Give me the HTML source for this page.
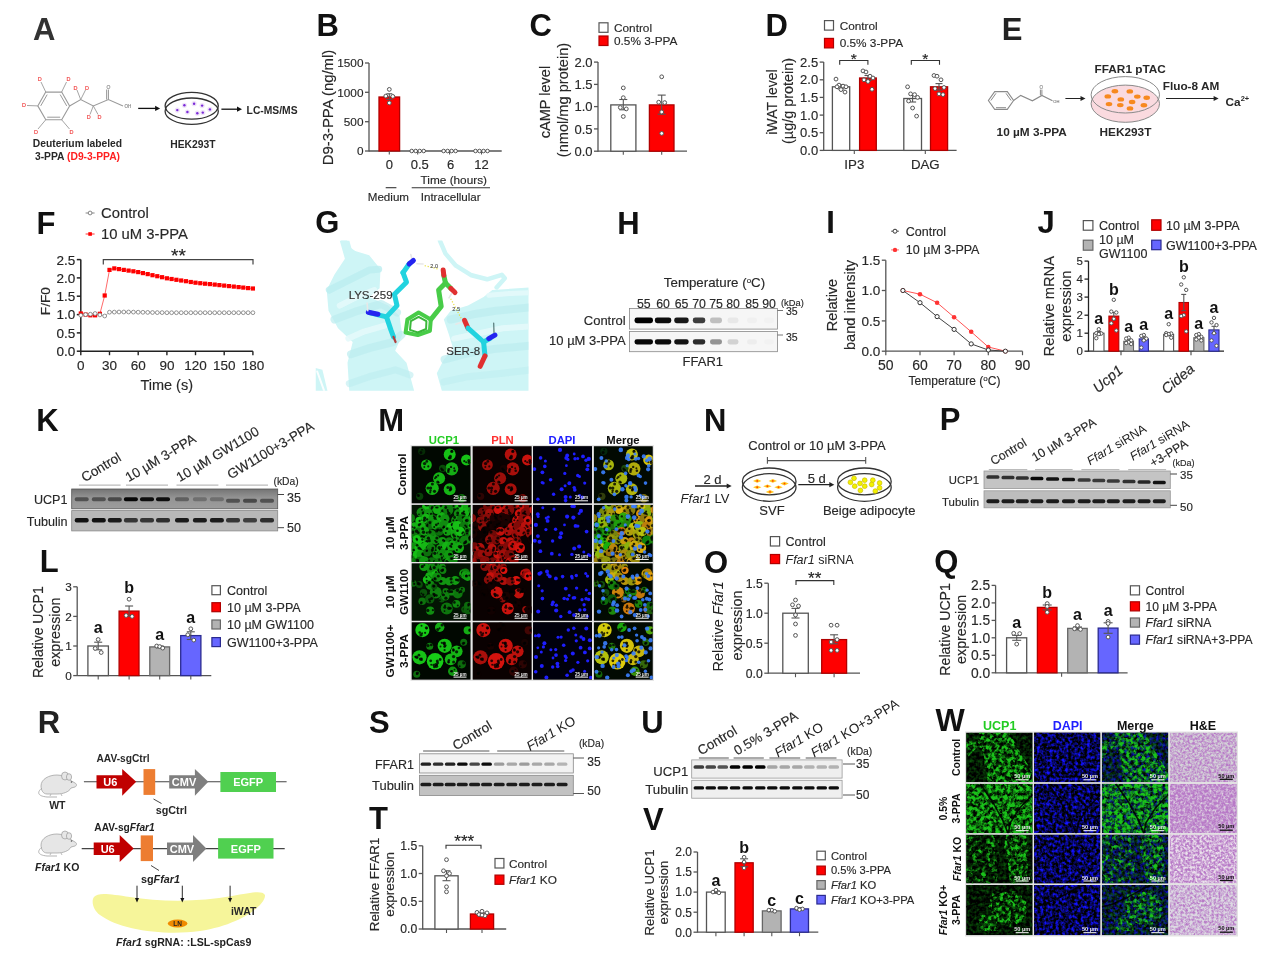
<!DOCTYPE html>
<html><head><meta charset="utf-8"><style>
html,body{margin:0;padding:0;background:#fff;}
svg{display:block;filter:blur(0.45px);}
text{font-family:"Liberation Sans", sans-serif;}
</style></head><body>
<svg width="1269" height="958" viewBox="0 0 1269 958">
<defs>
<filter color-interpolation-filters="sRGB" id="b06" x="-50%" y="-50%" width="200%" height="200%"><feGaussianBlur stdDeviation="0.7"/></filter>
<filter color-interpolation-filters="sRGB" id="b1" x="-50%" y="-50%" width="200%" height="200%"><feGaussianBlur stdDeviation="1"/></filter>
<clipPath id="gclip"><rect x="315.5" y="240.6" width="213" height="150.2"/></clipPath>
<clipPath id="mclip00"><rect x="411.7" y="446.3" width="58.8" height="57.0"/></clipPath><clipPath id="mclip01"><rect x="472.7" y="446.3" width="58.9" height="57.0"/></clipPath><clipPath id="mclip02"><rect x="533.1" y="446.3" width="58.9" height="57.0"/></clipPath><clipPath id="mclip03"><rect x="593.9" y="446.3" width="58.8" height="57.0"/></clipPath><clipPath id="mclip10"><rect x="411.7" y="504.9" width="58.8" height="57.0"/></clipPath><clipPath id="mclip11"><rect x="472.7" y="504.9" width="58.9" height="57.0"/></clipPath><clipPath id="mclip12"><rect x="533.1" y="504.9" width="58.9" height="57.0"/></clipPath><clipPath id="mclip13"><rect x="593.9" y="504.9" width="58.8" height="57.0"/></clipPath><clipPath id="mclip20"><rect x="411.7" y="563.4" width="58.8" height="57.3"/></clipPath><clipPath id="mclip21"><rect x="472.7" y="563.4" width="58.9" height="57.3"/></clipPath><clipPath id="mclip22"><rect x="533.1" y="563.4" width="58.9" height="57.3"/></clipPath><clipPath id="mclip23"><rect x="593.9" y="563.4" width="58.8" height="57.3"/></clipPath><clipPath id="mclip30"><rect x="411.7" y="622.3" width="58.8" height="57.3"/></clipPath><clipPath id="mclip31"><rect x="472.7" y="622.3" width="58.9" height="57.3"/></clipPath><clipPath id="mclip32"><rect x="533.1" y="622.3" width="58.9" height="57.3"/></clipPath><clipPath id="mclip33"><rect x="593.9" y="622.3" width="58.8" height="57.3"/></clipPath><clipPath id="wclip00"><rect x="966.1" y="732.5" width="66.6" height="49.8"/></clipPath><clipPath id="wclip01"><rect x="1034.1" y="732.5" width="66.3" height="49.8"/></clipPath><clipPath id="wclip02"><rect x="1101.8" y="732.5" width="66.5" height="49.8"/></clipPath><clipPath id="wclip03"><rect x="1169.7" y="732.5" width="67.1" height="49.8"/></clipPath><clipPath id="wclip10"><rect x="966.1" y="783.7" width="66.6" height="49.5"/></clipPath><clipPath id="wclip11"><rect x="1034.1" y="783.7" width="66.3" height="49.5"/></clipPath><clipPath id="wclip12"><rect x="1101.8" y="783.7" width="66.5" height="49.5"/></clipPath><clipPath id="wclip13"><rect x="1169.7" y="783.7" width="67.1" height="49.5"/></clipPath><clipPath id="wclip20"><rect x="966.1" y="834.6" width="66.6" height="48.9"/></clipPath><clipPath id="wclip21"><rect x="1034.1" y="834.6" width="66.3" height="48.9"/></clipPath><clipPath id="wclip22"><rect x="1101.8" y="834.6" width="66.5" height="48.9"/></clipPath><clipPath id="wclip23"><rect x="1169.7" y="834.6" width="67.1" height="48.9"/></clipPath><clipPath id="wclip30"><rect x="966.1" y="884.9" width="66.6" height="50.3"/></clipPath><clipPath id="wclip31"><rect x="1034.1" y="884.9" width="66.3" height="50.3"/></clipPath><clipPath id="wclip32"><rect x="1101.8" y="884.9" width="66.5" height="50.3"/></clipPath><clipPath id="wclip33"><rect x="1169.7" y="884.9" width="67.1" height="50.3"/></clipPath>
<filter color-interpolation-filters="sRGB" id="mblur" x="-10%" y="-10%" width="120%" height="120%"><feGaussianBlur stdDeviation="0.55"/></filter>
<filter color-interpolation-filters="sRGB" id="tGreen0" x="0" y="0" width="100%" height="100%">
 <feTurbulence type="fractalNoise" baseFrequency="0.26" numOctaves="3" seed="7" result="n"/>
 <feColorMatrix in="n" type="matrix" values="0 0 0 0 0.1  0 0 0 0 0.76  0 0 0 0 0.1  3.6 0 0 0 -1.45" result="c"/>
 <feComposite in="c" in2="SourceAlpha" operator="in" result="d"/>
 <feGaussianBlur in="d" stdDeviation="0.35"/>
</filter>
<filter color-interpolation-filters="sRGB" id="tGreen1" x="0" y="0" width="100%" height="100%">
 <feTurbulence type="fractalNoise" baseFrequency="0.26" numOctaves="3" seed="8" result="n"/>
 <feColorMatrix in="n" type="matrix" values="0 0 0 0 0.1  0 0 0 0 0.76  0 0 0 0 0.1  3.6 0 0 0 -1.3" result="c"/>
 <feComposite in="c" in2="SourceAlpha" operator="in" result="d"/>
 <feGaussianBlur in="d" stdDeviation="0.35"/>
</filter>
<filter color-interpolation-filters="sRGB" id="tGreen2" x="0" y="0" width="100%" height="100%">
 <feTurbulence type="fractalNoise" baseFrequency="0.26" numOctaves="3" seed="9" result="n"/>
 <feColorMatrix in="n" type="matrix" values="0 0 0 0 0.1  0 0 0 0 0.76  0 0 0 0 0.1  3.6 0 0 0 -1.55" result="c"/>
 <feComposite in="c" in2="SourceAlpha" operator="in" result="d"/>
 <feGaussianBlur in="d" stdDeviation="0.35"/>
</filter>
<filter color-interpolation-filters="sRGB" id="tGreen3" x="0" y="0" width="100%" height="100%">
 <feTurbulence type="fractalNoise" baseFrequency="0.26" numOctaves="3" seed="10" result="n"/>
 <feColorMatrix in="n" type="matrix" values="0 0 0 0 0.1  0 0 0 0 0.76  0 0 0 0 0.1  3.6 0 0 0 -1.6" result="c"/>
 <feComposite in="c" in2="SourceAlpha" operator="in" result="d"/>
 <feGaussianBlur in="d" stdDeviation="0.35"/>
</filter>
<filter color-interpolation-filters="sRGB" id="tGreenSp" x="0" y="0" width="100%" height="100%">
 <feTurbulence type="fractalNoise" baseFrequency="0.22" numOctaves="3" seed="17" result="n"/>
 <feColorMatrix in="n" type="matrix" values="0 0 0 0 0.1  0 0 0 0 0.76  0 0 0 0 0.1  4.0 0 0 0 -2.05" result="c"/>
 <feComposite in="c" in2="SourceAlpha" operator="in" result="d"/>
 <feGaussianBlur in="d" stdDeviation="0.35"/>
</filter>
<filter color-interpolation-filters="sRGB" id="tGreenFaint" x="0" y="0" width="100%" height="100%">
 <feTurbulence type="fractalNoise" baseFrequency="0.3" numOctaves="2" seed="11" result="n"/>
 <feColorMatrix in="n" type="matrix" values="0 0 0 0 0.05  0 0 0 0 0.45  0 0 0 0 0.05  1.5 0 0 0 -0.55" result="c"/>
 <feComposite in="c" in2="SourceAlpha" operator="in" result="d"/>
 <feGaussianBlur in="d" stdDeviation="0.35"/>
</filter>
<filter color-interpolation-filters="sRGB" id="tBlue" x="0" y="0" width="100%" height="100%">
 <feTurbulence type="fractalNoise" baseFrequency="0.32" numOctaves="2" seed="3" result="n"/>
 <feColorMatrix in="n" type="matrix" values="0.15 0 0 0 -0.05  0.15 0 0 0 -0.05  2.4 0 0 0 -0.88  0 0 0 0 1" result="c"/>
 <feComposite in="c" in2="SourceAlpha" operator="in" result="d"/>
 <feGaussianBlur in="d" stdDeviation="0.3"/>
</filter>
<filter color-interpolation-filters="sRGB" id="tHE0" x="0" y="0" width="100%" height="100%">
 <feTurbulence type="fractalNoise" baseFrequency="0.42" numOctaves="3" seed="21" result="n"/>
 <feColorMatrix in="n" type="matrix" values="0 0 0 0 0.72  0 0 0 0 0.48  0 0 0 0 0.78  2.4 0 0 0 -0.75" result="c"/>
 <feComposite in="c" in2="SourceAlpha" operator="in" result="d"/>
 <feGaussianBlur in="d" stdDeviation="0.3"/>
</filter><filter color-interpolation-filters="sRGB" id="tHE1" x="0" y="0" width="100%" height="100%">
 <feTurbulence type="fractalNoise" baseFrequency="0.42" numOctaves="3" seed="22" result="n"/>
 <feColorMatrix in="n" type="matrix" values="0 0 0 0 0.72  0 0 0 0 0.48  0 0 0 0 0.78  2.4 0 0 0 -0.5" result="c"/>
 <feComposite in="c" in2="SourceAlpha" operator="in" result="d"/>
 <feGaussianBlur in="d" stdDeviation="0.3"/>
</filter><filter color-interpolation-filters="sRGB" id="tHE2" x="0" y="0" width="100%" height="100%">
 <feTurbulence type="fractalNoise" baseFrequency="0.42" numOctaves="3" seed="23" result="n"/>
 <feColorMatrix in="n" type="matrix" values="0 0 0 0 0.72  0 0 0 0 0.48  0 0 0 0 0.78  2.4 0 0 0 -0.65" result="c"/>
 <feComposite in="c" in2="SourceAlpha" operator="in" result="d"/>
 <feGaussianBlur in="d" stdDeviation="0.3"/>
</filter><filter color-interpolation-filters="sRGB" id="tHE3" x="0" y="0" width="100%" height="100%">
 <feTurbulence type="fractalNoise" baseFrequency="0.42" numOctaves="3" seed="24" result="n"/>
 <feColorMatrix in="n" type="matrix" values="0 0 0 0 0.72  0 0 0 0 0.48  0 0 0 0 0.78  2.4 0 0 0 -0.8" result="c"/>
 <feComposite in="c" in2="SourceAlpha" operator="in" result="d"/>
 <feGaussianBlur in="d" stdDeviation="0.3"/>
</filter></defs>
<rect width="1269" height="958" fill="#fff"/>
<text x="33.0" y="40.0" font-size="31" text-anchor="start" fill="#333" font-weight="bold">A</text>
<path d="M69.6,105.9 L61.7,119.7 L45.8,119.7 L37.8,105.9 L45.7,92.1 L61.7,92.1Z" fill="none" stroke="#9a9a9a" stroke-width="1.1"/>
<line x1="60.2" y1="117.2" x2="47.2" y2="117.2" stroke="#9a9a9a" stroke-width="1.0"/>
<line x1="40.7" y1="105.9" x2="47.2" y2="94.6" stroke="#9a9a9a" stroke-width="1.0"/>
<line x1="60.2" y1="94.6" x2="66.7" y2="105.9" stroke="#9a9a9a" stroke-width="1.0"/>
<path d="M69.6,105.9 L80.7,99.6 L93.3,105.9 L108.4,99.6 L123.0,105.9" fill="none" stroke="#9a9a9a" stroke-width="1.1"/>
<line x1="108.4" y1="99.6" x2="108.4" y2="89.5" stroke="#9a9a9a" stroke-width="1.1"/>
<line x1="106.6" y1="99.6" x2="106.6" y2="89.5" stroke="#9a9a9a" stroke-width="1.0"/>
<text x="108.4" y="89.2" font-size="5" text-anchor="middle" fill="#888" stroke="#888" stroke-width="0.15">O</text>
<text x="124.5" y="108.2" font-size="4.5" text-anchor="start" fill="#888" stroke="#888" stroke-width="0.15">OH</text>
<text x="39.8" y="81.4" font-size="5.5" text-anchor="middle" fill="#f04040" stroke="#f04040" stroke-width="0.15">D</text>
<text x="68.6" y="81.4" font-size="5.5" text-anchor="middle" fill="#f04040" stroke="#f04040" stroke-width="0.15">D</text>
<text x="24.0" y="107.4" font-size="5.5" text-anchor="middle" fill="#f04040" stroke="#f04040" stroke-width="0.15">D</text>
<text x="36.0" y="133.9" font-size="5.5" text-anchor="middle" fill="#f04040" stroke="#f04040" stroke-width="0.15">D</text>
<text x="71.4" y="133.9" font-size="5.5" text-anchor="middle" fill="#f04040" stroke="#f04040" stroke-width="0.15">D</text>
<text x="75.6" y="89.5" font-size="5.5" text-anchor="middle" fill="#f04040" stroke="#f04040" stroke-width="0.15">D</text>
<text x="87.0" y="89.5" font-size="5.5" text-anchor="middle" fill="#f04040" stroke="#f04040" stroke-width="0.15">D</text>
<text x="88.8" y="119.2" font-size="5.5" text-anchor="middle" fill="#f04040" stroke="#f04040" stroke-width="0.15">D</text>
<text x="99.6" y="119.2" font-size="5.5" text-anchor="middle" fill="#f04040" stroke="#f04040" stroke-width="0.15">D</text>
<line x1="45.8" y1="92.1" x2="41.0" y2="82.0" stroke="#9a9a9a" stroke-width="0.9"/>
<line x1="61.6" y1="92.1" x2="66.5" y2="82.0" stroke="#9a9a9a" stroke-width="0.9"/>
<line x1="37.8" y1="105.9" x2="27.0" y2="105.5" stroke="#9a9a9a" stroke-width="0.9"/>
<line x1="45.8" y1="119.7" x2="38.0" y2="129.0" stroke="#9a9a9a" stroke-width="0.9"/>
<line x1="61.6" y1="119.7" x2="69.5" y2="129.0" stroke="#9a9a9a" stroke-width="0.9"/>
<line x1="80.7" y1="99.6" x2="77.0" y2="90.0" stroke="#9a9a9a" stroke-width="0.9"/>
<line x1="80.7" y1="99.6" x2="85.5" y2="90.0" stroke="#9a9a9a" stroke-width="0.9"/>
<line x1="93.3" y1="105.9" x2="90.0" y2="114.5" stroke="#9a9a9a" stroke-width="0.9"/>
<line x1="93.3" y1="105.9" x2="98.0" y2="114.5" stroke="#9a9a9a" stroke-width="0.9"/>
<text x="77.5" y="147.4" font-size="10.3" text-anchor="middle" fill="#282828" font-weight="bold">Deuterium labeled</text>
<text x="77.5" y="160.0" font-size="10.3" text-anchor="middle" fill="#282828" font-weight="bold">3-PPA <tspan fill="#ff2020">(D9-3-PPA)</tspan></text>
<line x1="138.2" y1="108.4" x2="156.1" y2="108.4" stroke="#111" stroke-width="1.3"/>
<path d="M160.1,108.4 L155.1,105.80000000000001 L155.1,111.0Z" fill="#111" stroke="none" stroke-width="1"/>
<line x1="221.4" y1="109.2" x2="238.0" y2="109.2" stroke="#111" stroke-width="1.3"/>
<path d="M242,109.2 L237,106.60000000000001 L237,111.8Z" fill="#111" stroke="none" stroke-width="1"/>
<ellipse cx="191.7" cy="105.8" rx="26.6" ry="13.4" fill="none" stroke="#333" stroke-width="1.3"/>
<ellipse cx="191.7" cy="111.2" rx="26.6" ry="13.2" fill="none" stroke="#333" stroke-width="1.3"/>
<circle cx="177.3" cy="110.1" r="2.6" fill="#efe2f8" stroke="none" stroke-width="1"/>
<circle cx="177.3" cy="110.1" r="1.2" fill="#7a2ad8" stroke="none" stroke-width="1"/>
<circle cx="184.4" cy="105.3" r="2.6" fill="#efe2f8" stroke="none" stroke-width="1"/>
<circle cx="184.4" cy="105.3" r="1.2" fill="#7a2ad8" stroke="none" stroke-width="1"/>
<circle cx="194.1" cy="103.7" r="2.6" fill="#efe2f8" stroke="none" stroke-width="1"/>
<circle cx="194.1" cy="103.7" r="1.2" fill="#7a2ad8" stroke="none" stroke-width="1"/>
<circle cx="202.1" cy="105.6" r="2.6" fill="#efe2f8" stroke="none" stroke-width="1"/>
<circle cx="202.1" cy="105.6" r="1.2" fill="#7a2ad8" stroke="none" stroke-width="1"/>
<circle cx="209.9" cy="109.4" r="2.6" fill="#efe2f8" stroke="none" stroke-width="1"/>
<circle cx="209.9" cy="109.4" r="1.2" fill="#7a2ad8" stroke="none" stroke-width="1"/>
<circle cx="187.4" cy="112.0" r="2.6" fill="#efe2f8" stroke="none" stroke-width="1"/>
<circle cx="187.4" cy="112.0" r="1.2" fill="#7a2ad8" stroke="none" stroke-width="1"/>
<circle cx="197.3" cy="113.2" r="2.6" fill="#efe2f8" stroke="none" stroke-width="1"/>
<circle cx="197.3" cy="113.2" r="1.2" fill="#7a2ad8" stroke="none" stroke-width="1"/>
<circle cx="202.8" cy="112.6" r="2.6" fill="#efe2f8" stroke="none" stroke-width="1"/>
<circle cx="202.8" cy="112.6" r="1.2" fill="#7a2ad8" stroke="none" stroke-width="1"/>
<text x="246.6" y="113.9" font-size="10.3" text-anchor="start" fill="#282828" font-weight="bold">LC-MS/MS</text>
<text x="192.9" y="147.9" font-size="10.3" text-anchor="middle" fill="#282828" font-weight="bold">HEK293T</text>
<text x="316.6" y="36.0" font-size="31" text-anchor="start" fill="#111" font-weight="bold">B</text>
<line x1="369.0" y1="151.0" x2="501.7" y2="151.0" stroke="#555" stroke-width="1.3"/>
<line x1="369.0" y1="151.5" x2="369.0" y2="63.0" stroke="#555" stroke-width="1.3"/>
<line x1="365.0" y1="151.0" x2="369.0" y2="151.0" stroke="#555" stroke-width="1.3"/>
<text x="363.5" y="155.2" font-size="11.8" text-anchor="end" fill="#282828" stroke="#282828" stroke-width="0.15">0</text>
<line x1="365.0" y1="121.7" x2="369.0" y2="121.7" stroke="#555" stroke-width="1.3"/>
<text x="363.5" y="125.9" font-size="11.8" text-anchor="end" fill="#282828" stroke="#282828" stroke-width="0.15">500</text>
<line x1="365.0" y1="92.3" x2="369.0" y2="92.3" stroke="#555" stroke-width="1.3"/>
<text x="363.5" y="96.6" font-size="11.8" text-anchor="end" fill="#282828" stroke="#282828" stroke-width="0.15">1000</text>
<line x1="365.0" y1="63.0" x2="369.0" y2="63.0" stroke="#555" stroke-width="1.3"/>
<text x="363.5" y="67.2" font-size="11.8" text-anchor="end" fill="#282828" stroke="#282828" stroke-width="0.15">1500</text>
<rect x="379.0" y="97.0" width="20.6" height="54.0" fill="#ff0000" stroke="#b00000" stroke-width="1.3"/>
<line x1="389.3" y1="99.4" x2="389.3" y2="93.8" stroke="#555" stroke-width="1.1"/>
<line x1="386.3" y1="93.8" x2="392.3" y2="93.8" stroke="#555" stroke-width="1.1"/>
<line x1="386.3" y1="99.4" x2="392.3" y2="99.4" stroke="#555" stroke-width="1.1"/>
<circle cx="389.3" cy="89.4" r="1.9" fill="#fff" stroke="#555" stroke-width="1.0"/>
<circle cx="385.8" cy="96.1" r="1.9" fill="#fff" stroke="#555" stroke-width="1.0"/>
<circle cx="392.8" cy="96.4" r="1.9" fill="#fff" stroke="#555" stroke-width="1.0"/>
<circle cx="389.3" cy="102.9" r="1.9" fill="#fff" stroke="#555" stroke-width="1.0"/>
<circle cx="411.7" cy="151.0" r="1.8" fill="#fff" stroke="#555" stroke-width="1.0"/>
<circle cx="415.7" cy="151.0" r="1.8" fill="#fff" stroke="#555" stroke-width="1.0"/>
<circle cx="419.7" cy="151.0" r="1.8" fill="#fff" stroke="#555" stroke-width="1.0"/>
<circle cx="423.7" cy="151.0" r="1.8" fill="#fff" stroke="#555" stroke-width="1.0"/>
<circle cx="443.6" cy="151.0" r="1.8" fill="#fff" stroke="#555" stroke-width="1.0"/>
<circle cx="447.6" cy="151.0" r="1.8" fill="#fff" stroke="#555" stroke-width="1.0"/>
<circle cx="451.6" cy="151.0" r="1.8" fill="#fff" stroke="#555" stroke-width="1.0"/>
<circle cx="455.6" cy="151.0" r="1.8" fill="#fff" stroke="#555" stroke-width="1.0"/>
<circle cx="475.5" cy="151.0" r="1.8" fill="#fff" stroke="#555" stroke-width="1.0"/>
<circle cx="479.5" cy="151.0" r="1.8" fill="#fff" stroke="#555" stroke-width="1.0"/>
<circle cx="483.5" cy="151.0" r="1.8" fill="#fff" stroke="#555" stroke-width="1.0"/>
<circle cx="487.5" cy="151.0" r="1.8" fill="#fff" stroke="#555" stroke-width="1.0"/>
<line x1="389.3" y1="151.0" x2="389.3" y2="154.5" stroke="#555" stroke-width="1.1"/>
<line x1="417.7" y1="151.0" x2="417.7" y2="154.5" stroke="#555" stroke-width="1.1"/>
<line x1="449.6" y1="151.0" x2="449.6" y2="154.5" stroke="#555" stroke-width="1.1"/>
<line x1="481.5" y1="151.0" x2="481.5" y2="154.5" stroke="#555" stroke-width="1.1"/>
<text x="389.4" y="168.7" font-size="13" text-anchor="middle" fill="#282828" stroke="#282828" stroke-width="0.15">0</text>
<text x="419.8" y="168.7" font-size="13" text-anchor="middle" fill="#282828" stroke="#282828" stroke-width="0.15">0.5</text>
<text x="450.6" y="168.7" font-size="13" text-anchor="middle" fill="#282828" stroke="#282828" stroke-width="0.15">6</text>
<text x="481.5" y="168.7" font-size="13" text-anchor="middle" fill="#282828" stroke="#282828" stroke-width="0.15">12</text>
<text x="453.8" y="184.0" font-size="11.8" text-anchor="middle" fill="#282828" stroke="#282828" stroke-width="0.15">Time (hours)</text>
<line x1="385.7" y1="187.7" x2="396.4" y2="187.7" stroke="#333" stroke-width="1.1"/>
<line x1="411.7" y1="187.7" x2="490.0" y2="187.7" stroke="#333" stroke-width="1.1"/>
<text x="388.4" y="201.4" font-size="11.6" text-anchor="middle" fill="#282828" stroke="#282828" stroke-width="0.15">Medium</text>
<text x="450.7" y="201.4" font-size="11.6" text-anchor="middle" fill="#282828" stroke="#282828" stroke-width="0.15">Intracellular</text>
<text x="332.6" y="107.5" font-size="14.9" text-anchor="middle" fill="#282828" stroke="#282828" stroke-width="0.15" transform="rotate(-90 332.6 107.5)">D9-3-PPA (ng/ml)</text>
<text x="529.4" y="35.5" font-size="31" text-anchor="start" fill="#111" font-weight="bold">C</text>
<rect x="599.0" y="22.8" width="9.0" height="9.5" fill="#ffffff" stroke="#555" stroke-width="1.2"/>
<text x="614.0" y="31.7" font-size="11.8" text-anchor="start" fill="#282828" stroke="#282828" stroke-width="0.15">Control</text>
<rect x="599.0" y="36.0" width="9.0" height="9.5" fill="#ff0000" stroke="#b00000" stroke-width="1.2"/>
<text x="614.0" y="45.0" font-size="11.8" text-anchor="start" fill="#282828" stroke="#282828" stroke-width="0.15">0.5% 3-PPA</text>
<line x1="598.0" y1="151.2" x2="687.0" y2="151.2" stroke="#555" stroke-width="1.3"/>
<line x1="598.0" y1="151.7" x2="598.0" y2="62.1" stroke="#555" stroke-width="1.3"/>
<line x1="594.0" y1="151.2" x2="598.0" y2="151.2" stroke="#555" stroke-width="1.3"/>
<text x="592.5" y="155.9" font-size="13" text-anchor="end" fill="#282828" stroke="#282828" stroke-width="0.15">0.0</text>
<line x1="594.0" y1="128.9" x2="598.0" y2="128.9" stroke="#555" stroke-width="1.3"/>
<text x="592.5" y="133.6" font-size="13" text-anchor="end" fill="#282828" stroke="#282828" stroke-width="0.15">0.5</text>
<line x1="594.0" y1="106.6" x2="598.0" y2="106.6" stroke="#555" stroke-width="1.3"/>
<text x="592.5" y="111.3" font-size="13" text-anchor="end" fill="#282828" stroke="#282828" stroke-width="0.15">1.0</text>
<line x1="594.0" y1="84.4" x2="598.0" y2="84.4" stroke="#555" stroke-width="1.3"/>
<text x="592.5" y="89.1" font-size="13" text-anchor="end" fill="#282828" stroke="#282828" stroke-width="0.15">1.5</text>
<line x1="594.0" y1="62.1" x2="598.0" y2="62.1" stroke="#555" stroke-width="1.3"/>
<text x="592.5" y="66.8" font-size="13" text-anchor="end" fill="#282828" stroke="#282828" stroke-width="0.15">2.0</text>
<rect x="610.8" y="104.9" width="25.1" height="46.3" fill="#ffffff" stroke="#555" stroke-width="1.3"/>
<rect x="649.4" y="104.9" width="24.6" height="46.3" fill="#ff0000" stroke="#b00000" stroke-width="1.3"/>
<line x1="623.3" y1="109.8" x2="623.3" y2="99.5" stroke="#555" stroke-width="1.1"/>
<line x1="619.3" y1="99.5" x2="627.3" y2="99.5" stroke="#555" stroke-width="1.1"/>
<line x1="619.3" y1="109.8" x2="627.3" y2="109.8" stroke="#555" stroke-width="1.1"/>
<line x1="661.7" y1="114.2" x2="661.7" y2="95.1" stroke="#555" stroke-width="1.1"/>
<line x1="657.7" y1="95.1" x2="665.7" y2="95.1" stroke="#555" stroke-width="1.1"/>
<line x1="657.7" y1="114.2" x2="665.7" y2="114.2" stroke="#555" stroke-width="1.1"/>
<circle cx="623.3" cy="87.9" r="1.9" fill="#fff" stroke="#555" stroke-width="1.0"/>
<circle cx="623.3" cy="97.7" r="1.9" fill="#fff" stroke="#555" stroke-width="1.0"/>
<circle cx="620.3" cy="107.5" r="1.9" fill="#fff" stroke="#555" stroke-width="1.0"/>
<circle cx="626.3" cy="108.9" r="1.9" fill="#fff" stroke="#555" stroke-width="1.0"/>
<circle cx="623.3" cy="116.5" r="1.9" fill="#fff" stroke="#555" stroke-width="1.0"/>
<circle cx="661.7" cy="76.8" r="1.9" fill="#fff" stroke="#555" stroke-width="1.0"/>
<circle cx="658.7" cy="102.2" r="1.9" fill="#fff" stroke="#555" stroke-width="1.0"/>
<circle cx="664.7" cy="102.6" r="1.9" fill="#fff" stroke="#555" stroke-width="1.0"/>
<circle cx="661.7" cy="112.0" r="1.9" fill="#fff" stroke="#555" stroke-width="1.0"/>
<circle cx="661.7" cy="133.4" r="1.9" fill="#fff" stroke="#555" stroke-width="1.0"/>
<line x1="623.3" y1="151.2" x2="623.3" y2="154.7" stroke="#555" stroke-width="1.1"/>
<line x1="661.7" y1="151.2" x2="661.7" y2="154.7" stroke="#555" stroke-width="1.1"/>
<text x="550.2" y="102.0" font-size="14.5" text-anchor="middle" fill="#282828" stroke="#282828" stroke-width="0.15" transform="rotate(-90 550.2 102.0)">cAMP level</text>
<text x="568.1" y="100.0" font-size="14.6" text-anchor="middle" fill="#282828" stroke="#282828" stroke-width="0.15" transform="rotate(-90 568.1 100.0)">(nmol/mg protein)</text>
<text x="765.6" y="35.9" font-size="31" text-anchor="start" fill="#111" font-weight="bold">D</text>
<rect x="824.5" y="20.6" width="9.0" height="9.5" fill="#ffffff" stroke="#555" stroke-width="1.2"/>
<text x="839.7" y="29.6" font-size="11.8" text-anchor="start" fill="#282828" stroke="#282828" stroke-width="0.15">Control</text>
<rect x="824.5" y="38.4" width="9.0" height="9.5" fill="#ff0000" stroke="#b00000" stroke-width="1.2"/>
<text x="839.7" y="47.3" font-size="11.8" text-anchor="start" fill="#282828" stroke="#282828" stroke-width="0.15">0.5% 3-PPA</text>
<line x1="823.7" y1="150.4" x2="956.6" y2="150.4" stroke="#555" stroke-width="1.3"/>
<line x1="823.7" y1="150.9" x2="823.7" y2="62.1" stroke="#555" stroke-width="1.3"/>
<line x1="819.7" y1="150.4" x2="823.7" y2="150.4" stroke="#555" stroke-width="1.3"/>
<text x="818.2" y="155.1" font-size="13" text-anchor="end" fill="#282828" stroke="#282828" stroke-width="0.15">0.0</text>
<line x1="819.7" y1="132.7" x2="823.7" y2="132.7" stroke="#555" stroke-width="1.3"/>
<text x="818.2" y="137.4" font-size="13" text-anchor="end" fill="#282828" stroke="#282828" stroke-width="0.15">0.5</text>
<line x1="819.7" y1="115.1" x2="823.7" y2="115.1" stroke="#555" stroke-width="1.3"/>
<text x="818.2" y="119.8" font-size="13" text-anchor="end" fill="#282828" stroke="#282828" stroke-width="0.15">1.0</text>
<line x1="819.7" y1="97.4" x2="823.7" y2="97.4" stroke="#555" stroke-width="1.3"/>
<text x="818.2" y="102.1" font-size="13" text-anchor="end" fill="#282828" stroke="#282828" stroke-width="0.15">1.5</text>
<line x1="819.7" y1="79.8" x2="823.7" y2="79.8" stroke="#555" stroke-width="1.3"/>
<text x="818.2" y="84.4" font-size="13" text-anchor="end" fill="#282828" stroke="#282828" stroke-width="0.15">2.0</text>
<line x1="819.7" y1="62.1" x2="823.7" y2="62.1" stroke="#555" stroke-width="1.3"/>
<text x="818.2" y="66.8" font-size="13" text-anchor="end" fill="#282828" stroke="#282828" stroke-width="0.15">2.5</text>
<rect x="832.4" y="86.8" width="17.3" height="63.6" fill="#ffffff" stroke="#555" stroke-width="1.3"/>
<line x1="841.0" y1="88.9" x2="841.0" y2="84.7" stroke="#555" stroke-width="1.1"/>
<line x1="837.5" y1="84.7" x2="844.5" y2="84.7" stroke="#555" stroke-width="1.1"/>
<line x1="837.5" y1="88.9" x2="844.5" y2="88.9" stroke="#555" stroke-width="1.1"/>
<circle cx="836.0" cy="79.1" r="1.9" fill="#fff" stroke="#555" stroke-width="1.0"/>
<circle cx="839.0" cy="85.1" r="1.9" fill="#fff" stroke="#555" stroke-width="1.0"/>
<circle cx="843.0" cy="86.1" r="1.9" fill="#fff" stroke="#555" stroke-width="1.0"/>
<circle cx="846.0" cy="86.8" r="1.9" fill="#fff" stroke="#555" stroke-width="1.0"/>
<circle cx="837.0" cy="86.8" r="1.9" fill="#fff" stroke="#555" stroke-width="1.0"/>
<circle cx="841.0" cy="89.6" r="1.9" fill="#fff" stroke="#555" stroke-width="1.0"/>
<circle cx="845.0" cy="92.1" r="1.9" fill="#fff" stroke="#555" stroke-width="1.0"/>
<rect x="859.6" y="78.0" width="16.7" height="72.4" fill="#ff0000" stroke="#b00000" stroke-width="1.3"/>
<line x1="868.0" y1="80.5" x2="868.0" y2="75.5" stroke="#555" stroke-width="1.1"/>
<line x1="864.5" y1="75.5" x2="871.5" y2="75.5" stroke="#555" stroke-width="1.1"/>
<line x1="864.5" y1="80.5" x2="871.5" y2="80.5" stroke="#555" stroke-width="1.1"/>
<circle cx="863.0" cy="70.9" r="1.9" fill="#fff" stroke="#555" stroke-width="1.0"/>
<circle cx="866.0" cy="72.0" r="1.9" fill="#fff" stroke="#555" stroke-width="1.0"/>
<circle cx="870.0" cy="76.2" r="1.9" fill="#fff" stroke="#555" stroke-width="1.0"/>
<circle cx="873.0" cy="78.0" r="1.9" fill="#fff" stroke="#555" stroke-width="1.0"/>
<circle cx="864.0" cy="79.8" r="1.9" fill="#fff" stroke="#555" stroke-width="1.0"/>
<circle cx="868.0" cy="81.5" r="1.9" fill="#fff" stroke="#555" stroke-width="1.0"/>
<circle cx="872.0" cy="89.3" r="1.9" fill="#fff" stroke="#555" stroke-width="1.0"/>
<rect x="903.8" y="98.5" width="17.7" height="51.9" fill="#ffffff" stroke="#555" stroke-width="1.3"/>
<line x1="912.6" y1="102.0" x2="912.6" y2="94.9" stroke="#555" stroke-width="1.1"/>
<line x1="909.1" y1="94.9" x2="916.1" y2="94.9" stroke="#555" stroke-width="1.1"/>
<line x1="909.1" y1="102.0" x2="916.1" y2="102.0" stroke="#555" stroke-width="1.1"/>
<circle cx="907.6" cy="86.8" r="1.9" fill="#fff" stroke="#555" stroke-width="1.0"/>
<circle cx="910.6" cy="93.9" r="1.9" fill="#fff" stroke="#555" stroke-width="1.0"/>
<circle cx="914.6" cy="94.6" r="1.9" fill="#fff" stroke="#555" stroke-width="1.0"/>
<circle cx="917.6" cy="97.4" r="1.9" fill="#fff" stroke="#555" stroke-width="1.0"/>
<circle cx="908.6" cy="101.0" r="1.9" fill="#fff" stroke="#555" stroke-width="1.0"/>
<circle cx="912.6" cy="108.0" r="1.9" fill="#fff" stroke="#555" stroke-width="1.0"/>
<circle cx="916.6" cy="116.1" r="1.9" fill="#fff" stroke="#555" stroke-width="1.0"/>
<rect x="930.5" y="86.8" width="17.1" height="63.6" fill="#ff0000" stroke="#b00000" stroke-width="1.3"/>
<line x1="939.0" y1="90.0" x2="939.0" y2="83.6" stroke="#555" stroke-width="1.1"/>
<line x1="935.5" y1="83.6" x2="942.5" y2="83.6" stroke="#555" stroke-width="1.1"/>
<line x1="935.5" y1="90.0" x2="942.5" y2="90.0" stroke="#555" stroke-width="1.1"/>
<circle cx="934.0" cy="75.5" r="1.9" fill="#fff" stroke="#555" stroke-width="1.0"/>
<circle cx="937.0" cy="76.2" r="1.9" fill="#fff" stroke="#555" stroke-width="1.0"/>
<circle cx="941.0" cy="79.8" r="1.9" fill="#fff" stroke="#555" stroke-width="1.0"/>
<circle cx="944.0" cy="87.5" r="1.9" fill="#fff" stroke="#555" stroke-width="1.0"/>
<circle cx="935.0" cy="88.6" r="1.9" fill="#fff" stroke="#555" stroke-width="1.0"/>
<circle cx="939.0" cy="93.9" r="1.9" fill="#fff" stroke="#555" stroke-width="1.0"/>
<circle cx="943.0" cy="94.6" r="1.9" fill="#fff" stroke="#555" stroke-width="1.0"/>
<line x1="854.3" y1="150.4" x2="854.3" y2="153.9" stroke="#555" stroke-width="1.1"/>
<line x1="925.3" y1="150.4" x2="925.3" y2="153.9" stroke="#555" stroke-width="1.1"/>
<path d="M839.7,64.7 L839.7,60.5 L867.9,60.5 L867.9,64.7" fill="none" stroke="#333" stroke-width="1.1"/>
<text x="853.7" y="64.4" font-size="15.5" text-anchor="middle" fill="#222" stroke="#222" stroke-width="0.15">*</text>
<path d="M911.3,64.7 L911.3,60.5 L939.5,60.5 L939.5,64.7" fill="none" stroke="#333" stroke-width="1.1"/>
<text x="925.3" y="64.4" font-size="15.5" text-anchor="middle" fill="#222" stroke="#222" stroke-width="0.15">*</text>
<text x="854.3" y="168.7" font-size="13.3" text-anchor="middle" fill="#282828" stroke="#282828" stroke-width="0.15">IP3</text>
<text x="925.3" y="168.7" font-size="13.3" text-anchor="middle" fill="#282828" stroke="#282828" stroke-width="0.15">DAG</text>
<text x="777.0" y="102.0" font-size="14.1" text-anchor="middle" fill="#282828" stroke="#282828" stroke-width="0.15" transform="rotate(-90 777.0 102.0)">iWAT level</text>
<text x="792.8" y="101.0" font-size="14.4" text-anchor="middle" fill="#282828" stroke="#282828" stroke-width="0.15" transform="rotate(-90 792.8 101.0)">(µg/g protein)</text>
<text x="1001.8" y="40.0" font-size="31" text-anchor="start" fill="#222" font-weight="bold">E</text>
<path d="M1013.6,100.5 L1007.3,109.4 L994.7,109.4 L988.4,100.5 L994.7,91.6 L1007.3,91.6Z" fill="none" stroke="#8a8a8a" stroke-width="1.1"/>
<line x1="1006.0" y1="107.7" x2="996.0" y2="107.7" stroke="#8a8a8a" stroke-width="1.0"/>
<line x1="990.9" y1="100.5" x2="996.0" y2="93.3" stroke="#8a8a8a" stroke-width="1.0"/>
<line x1="1006.0" y1="93.3" x2="1011.1" y2="100.5" stroke="#8a8a8a" stroke-width="1.0"/>
<path d="M1013.6,100.5 L1020.7,95.4 L1032.4,100.8 L1041.9,95.4 L1052.5,100.8" fill="none" stroke="#8a8a8a" stroke-width="1.1"/>
<line x1="1041.9" y1="95.4" x2="1041.9" y2="89.6" stroke="#8a8a8a" stroke-width="1.0"/>
<line x1="1040.4" y1="95.4" x2="1040.4" y2="89.6" stroke="#8a8a8a" stroke-width="1.0"/>
<text x="1041.2" y="89.2" font-size="4.5" text-anchor="middle" fill="#888" stroke="#888" stroke-width="0.15">O</text>
<text x="1053.3" y="103.0" font-size="4" text-anchor="start" fill="#888" stroke="#888" stroke-width="0.15">OH</text>
<line x1="1065.4" y1="98.5" x2="1081.5" y2="98.5" stroke="#222" stroke-width="1.0"/>
<path d="M1085.5,98.5 L1080.5,96.0 L1080.5,101.0Z" fill="#222" stroke="none" stroke-width="1"/>
<line x1="1166.0" y1="98.5" x2="1214.6" y2="98.5" stroke="#222" stroke-width="1.0"/>
<path d="M1218.6,98.5 L1213.6,96.0 L1213.6,101.0Z" fill="#222" stroke="none" stroke-width="1"/>
<text x="1031.7" y="135.7" font-size="11.8" text-anchor="middle" fill="#282828" font-weight="bold">10 µM 3-PPA</text>
<ellipse cx="1125.3" cy="103.7" rx="34.2" ry="18.6" fill="#fadadf" stroke="#8a8a8a" stroke-width="1"/>
<ellipse cx="1125.3" cy="94.8" rx="34.2" ry="18.2" fill="none" stroke="#8a8a8a" stroke-width="1"/>
<ellipse cx="1114.9" cy="91.2" rx="3.3" ry="2.2" fill="#f7891f"/>
<ellipse cx="1129.8" cy="91.4" rx="3.3" ry="2.2" fill="#f7891f"/>
<ellipse cx="1107.8" cy="96.4" rx="3.3" ry="2.2" fill="#f7891f"/>
<ellipse cx="1137.3" cy="96.6" rx="3.3" ry="2.2" fill="#f7891f"/>
<ellipse cx="1146.7" cy="97.8" rx="3.3" ry="2.2" fill="#f7891f"/>
<ellipse cx="1120.8" cy="99.4" rx="3.3" ry="2.2" fill="#f7891f"/>
<ellipse cx="1132.1" cy="102.0" rx="3.3" ry="2.2" fill="#f7891f"/>
<ellipse cx="1109.0" cy="104.1" rx="3.3" ry="2.2" fill="#f7891f"/>
<ellipse cx="1120.3" cy="105.1" rx="3.3" ry="2.2" fill="#f7891f"/>
<ellipse cx="1143.9" cy="105.3" rx="3.3" ry="2.2" fill="#f7891f"/>
<ellipse cx="1130.0" cy="108.4" rx="3.3" ry="2.2" fill="#f7891f"/>
<text x="1130.2" y="72.5" font-size="11.8" text-anchor="middle" fill="#282828" font-weight="bold">FFAR1 pTAC</text>
<text x="1125.5" y="135.7" font-size="11.8" text-anchor="middle" fill="#282828" font-weight="bold">HEK293T</text>
<text x="1191.0" y="90.2" font-size="11.8" text-anchor="middle" fill="#282828" font-weight="bold">Fluo-8 AM</text>
<text x="1225.6" y="106.0" font-size="11.8" text-anchor="start" fill="#282828" font-weight="bold">Ca<tspan font-size="7.5" dy="-5">2+</tspan></text>
<text x="36.6" y="233.7" font-size="31" text-anchor="start" fill="#111" font-weight="bold">F</text>
<line x1="85.6" y1="213.0" x2="94.6" y2="213.0" stroke="#888" stroke-width="1"/>
<circle cx="90.1" cy="213.0" r="1.9" fill="#fff" stroke="#777" stroke-width="0.9"/>
<text x="101.0" y="218.3" font-size="14.8" text-anchor="start" fill="#282828" stroke="#282828" stroke-width="0.15">Control</text>
<line x1="85.6" y1="234.0" x2="94.6" y2="234.0" stroke="#f33" stroke-width="1"/>
<rect x="88.3" y="232.2" width="3.6" height="3.6" fill="#f00" stroke="none" stroke-width="1"/>
<text x="101.0" y="239.3" font-size="14.8" text-anchor="start" fill="#282828" stroke="#282828" stroke-width="0.15">10 uM 3-PPA</text>
<line x1="80.8" y1="351.2" x2="252.9" y2="351.2" stroke="#222" stroke-width="1.5"/>
<line x1="80.8" y1="351.7" x2="80.8" y2="259.6" stroke="#222" stroke-width="1.5"/>
<line x1="76.8" y1="351.2" x2="80.8" y2="351.2" stroke="#222" stroke-width="1.5"/>
<text x="75.3" y="356.1" font-size="13.5" text-anchor="end" fill="#222" stroke="#222" stroke-width="0.15">0.0</text>
<line x1="76.8" y1="332.9" x2="80.8" y2="332.9" stroke="#222" stroke-width="1.5"/>
<text x="75.3" y="337.7" font-size="13.5" text-anchor="end" fill="#222" stroke="#222" stroke-width="0.15">0.5</text>
<line x1="76.8" y1="314.6" x2="80.8" y2="314.6" stroke="#222" stroke-width="1.5"/>
<text x="75.3" y="319.4" font-size="13.5" text-anchor="end" fill="#222" stroke="#222" stroke-width="0.15">1.0</text>
<line x1="76.8" y1="296.2" x2="80.8" y2="296.2" stroke="#222" stroke-width="1.5"/>
<text x="75.3" y="301.1" font-size="13.5" text-anchor="end" fill="#222" stroke="#222" stroke-width="0.15">1.5</text>
<line x1="76.8" y1="277.9" x2="80.8" y2="277.9" stroke="#222" stroke-width="1.5"/>
<text x="75.3" y="282.8" font-size="13.5" text-anchor="end" fill="#222" stroke="#222" stroke-width="0.15">2.0</text>
<line x1="76.8" y1="259.6" x2="80.8" y2="259.6" stroke="#222" stroke-width="1.5"/>
<text x="75.3" y="264.5" font-size="13.5" text-anchor="end" fill="#222" stroke="#222" stroke-width="0.15">2.5</text>
<line x1="80.8" y1="351.2" x2="80.8" y2="355.2" stroke="#222" stroke-width="1.4"/>
<text x="80.8" y="370.4" font-size="13.5" text-anchor="middle" fill="#282828" stroke="#282828" stroke-width="0.15">0</text>
<line x1="109.5" y1="351.2" x2="109.5" y2="355.2" stroke="#222" stroke-width="1.4"/>
<text x="109.5" y="370.4" font-size="13.5" text-anchor="middle" fill="#282828" stroke="#282828" stroke-width="0.15">30</text>
<line x1="138.2" y1="351.2" x2="138.2" y2="355.2" stroke="#222" stroke-width="1.4"/>
<text x="138.2" y="370.4" font-size="13.5" text-anchor="middle" fill="#282828" stroke="#282828" stroke-width="0.15">60</text>
<line x1="166.9" y1="351.2" x2="166.9" y2="355.2" stroke="#222" stroke-width="1.4"/>
<text x="166.9" y="370.4" font-size="13.5" text-anchor="middle" fill="#282828" stroke="#282828" stroke-width="0.15">90</text>
<line x1="195.5" y1="351.2" x2="195.5" y2="355.2" stroke="#222" stroke-width="1.4"/>
<text x="195.5" y="370.4" font-size="13.5" text-anchor="middle" fill="#282828" stroke="#282828" stroke-width="0.15">120</text>
<line x1="224.2" y1="351.2" x2="224.2" y2="355.2" stroke="#222" stroke-width="1.4"/>
<text x="224.2" y="370.4" font-size="13.5" text-anchor="middle" fill="#282828" stroke="#282828" stroke-width="0.15">150</text>
<line x1="252.9" y1="351.2" x2="252.9" y2="355.2" stroke="#222" stroke-width="1.4"/>
<text x="252.9" y="370.4" font-size="13.5" text-anchor="middle" fill="#282828" stroke="#282828" stroke-width="0.15">180</text>
<text x="166.7" y="390.2" font-size="14.5" text-anchor="middle" fill="#282828" stroke="#282828" stroke-width="0.15">Time (s)</text>
<text x="49.8" y="301.1" font-size="13.7" text-anchor="middle" fill="#282828" stroke="#282828" stroke-width="0.15" transform="rotate(-90 49.8 301.1)">F/F0</text>
<path d="M80.8,313.5 L85.6,314.6 L90.4,315.3 L95.1,315.3 L99.9,313.8 L104.7,295.5 L109.5,269.9 L114.3,268.4 L119.0,269.1 L123.8,269.9 L128.6,270.6 L133.4,271.3 L138.2,272.1 L142.9,273.1 L147.7,274.1 L152.5,275.2 L157.3,276.2 L162.1,277.2 L166.9,278.3 L171.6,279.0 L176.4,279.8 L181.2,280.5 L186.0,281.2 L190.8,282.0 L195.5,282.7 L200.3,283.2 L205.1,283.7 L209.9,284.1 L214.7,284.6 L219.4,285.1 L224.2,285.6 L229.0,286.1 L233.8,286.6 L238.6,287.1 L243.3,287.6 L248.1,288.1 L252.9,288.5" fill="none" stroke="#f44" stroke-width="0.8"/>
<rect x="78.7" y="311.4" width="4.2" height="4.2" fill="#f00" stroke="none" stroke-width="1"/>
<rect x="83.5" y="312.5" width="4.2" height="4.2" fill="#f00" stroke="none" stroke-width="1"/>
<rect x="88.3" y="313.2" width="4.2" height="4.2" fill="#f00" stroke="none" stroke-width="1"/>
<rect x="93.0" y="313.2" width="4.2" height="4.2" fill="#f00" stroke="none" stroke-width="1"/>
<rect x="97.8" y="311.7" width="4.2" height="4.2" fill="#f00" stroke="none" stroke-width="1"/>
<rect x="102.6" y="293.4" width="4.2" height="4.2" fill="#f00" stroke="none" stroke-width="1"/>
<rect x="107.4" y="267.8" width="4.2" height="4.2" fill="#f00" stroke="none" stroke-width="1"/>
<rect x="112.2" y="266.3" width="4.2" height="4.2" fill="#f00" stroke="none" stroke-width="1"/>
<rect x="116.9" y="267.0" width="4.2" height="4.2" fill="#f00" stroke="none" stroke-width="1"/>
<rect x="121.7" y="267.8" width="4.2" height="4.2" fill="#f00" stroke="none" stroke-width="1"/>
<rect x="126.5" y="268.5" width="4.2" height="4.2" fill="#f00" stroke="none" stroke-width="1"/>
<rect x="131.3" y="269.2" width="4.2" height="4.2" fill="#f00" stroke="none" stroke-width="1"/>
<rect x="136.1" y="270.0" width="4.2" height="4.2" fill="#f00" stroke="none" stroke-width="1"/>
<rect x="140.8" y="271.0" width="4.2" height="4.2" fill="#f00" stroke="none" stroke-width="1"/>
<rect x="145.6" y="272.0" width="4.2" height="4.2" fill="#f00" stroke="none" stroke-width="1"/>
<rect x="150.4" y="273.1" width="4.2" height="4.2" fill="#f00" stroke="none" stroke-width="1"/>
<rect x="155.2" y="274.1" width="4.2" height="4.2" fill="#f00" stroke="none" stroke-width="1"/>
<rect x="160.0" y="275.1" width="4.2" height="4.2" fill="#f00" stroke="none" stroke-width="1"/>
<rect x="164.8" y="276.2" width="4.2" height="4.2" fill="#f00" stroke="none" stroke-width="1"/>
<rect x="169.5" y="276.9" width="4.2" height="4.2" fill="#f00" stroke="none" stroke-width="1"/>
<rect x="174.3" y="277.7" width="4.2" height="4.2" fill="#f00" stroke="none" stroke-width="1"/>
<rect x="179.1" y="278.4" width="4.2" height="4.2" fill="#f00" stroke="none" stroke-width="1"/>
<rect x="183.9" y="279.1" width="4.2" height="4.2" fill="#f00" stroke="none" stroke-width="1"/>
<rect x="188.7" y="279.9" width="4.2" height="4.2" fill="#f00" stroke="none" stroke-width="1"/>
<rect x="193.4" y="280.6" width="4.2" height="4.2" fill="#f00" stroke="none" stroke-width="1"/>
<rect x="198.2" y="281.1" width="4.2" height="4.2" fill="#f00" stroke="none" stroke-width="1"/>
<rect x="203.0" y="281.6" width="4.2" height="4.2" fill="#f00" stroke="none" stroke-width="1"/>
<rect x="207.8" y="282.0" width="4.2" height="4.2" fill="#f00" stroke="none" stroke-width="1"/>
<rect x="212.6" y="282.5" width="4.2" height="4.2" fill="#f00" stroke="none" stroke-width="1"/>
<rect x="217.3" y="283.0" width="4.2" height="4.2" fill="#f00" stroke="none" stroke-width="1"/>
<rect x="222.1" y="283.5" width="4.2" height="4.2" fill="#f00" stroke="none" stroke-width="1"/>
<rect x="226.9" y="284.0" width="4.2" height="4.2" fill="#f00" stroke="none" stroke-width="1"/>
<rect x="231.7" y="284.5" width="4.2" height="4.2" fill="#f00" stroke="none" stroke-width="1"/>
<rect x="236.5" y="285.0" width="4.2" height="4.2" fill="#f00" stroke="none" stroke-width="1"/>
<rect x="241.2" y="285.5" width="4.2" height="4.2" fill="#f00" stroke="none" stroke-width="1"/>
<rect x="246.0" y="286.0" width="4.2" height="4.2" fill="#f00" stroke="none" stroke-width="1"/>
<rect x="250.8" y="286.4" width="4.2" height="4.2" fill="#f00" stroke="none" stroke-width="1"/>
<path d="M80.8,315.3 L85.6,314.6 L90.4,314.2 L95.1,313.5 L99.9,314.9 L104.7,316.0 L109.5,312.2 L114.3,312.1 L119.0,312.0 L123.8,312.0 L128.6,312.0 L133.4,312.1 L138.2,312.2 L142.9,312.3 L147.7,312.4 L152.5,312.5 L157.3,312.6 L162.1,312.6 L166.9,312.7 L171.6,312.7 L176.4,312.7 L181.2,312.7 L186.0,312.7 L190.8,312.7 L195.5,312.7 L200.3,312.7 L205.1,312.7 L209.9,312.7 L214.7,312.7 L219.4,312.7 L224.2,312.7 L229.0,312.7 L233.8,312.7 L238.6,312.7 L243.3,312.7 L248.1,312.7 L252.9,312.7" fill="none" stroke="#aaa" stroke-width="0.8"/>
<circle cx="80.8" cy="315.3" r="1.9" fill="#fff" stroke="#777" stroke-width="0.8"/>
<circle cx="85.6" cy="314.6" r="1.9" fill="#fff" stroke="#777" stroke-width="0.8"/>
<circle cx="90.4" cy="314.2" r="1.9" fill="#fff" stroke="#777" stroke-width="0.8"/>
<circle cx="95.1" cy="313.5" r="1.9" fill="#fff" stroke="#777" stroke-width="0.8"/>
<circle cx="99.9" cy="314.9" r="1.9" fill="#fff" stroke="#777" stroke-width="0.8"/>
<circle cx="104.7" cy="316.0" r="1.9" fill="#fff" stroke="#777" stroke-width="0.8"/>
<circle cx="109.5" cy="312.2" r="1.9" fill="#fff" stroke="#777" stroke-width="0.8"/>
<circle cx="114.3" cy="312.1" r="1.9" fill="#fff" stroke="#777" stroke-width="0.8"/>
<circle cx="119.0" cy="312.0" r="1.9" fill="#fff" stroke="#777" stroke-width="0.8"/>
<circle cx="123.8" cy="312.0" r="1.9" fill="#fff" stroke="#777" stroke-width="0.8"/>
<circle cx="128.6" cy="312.0" r="1.9" fill="#fff" stroke="#777" stroke-width="0.8"/>
<circle cx="133.4" cy="312.1" r="1.9" fill="#fff" stroke="#777" stroke-width="0.8"/>
<circle cx="138.2" cy="312.2" r="1.9" fill="#fff" stroke="#777" stroke-width="0.8"/>
<circle cx="142.9" cy="312.3" r="1.9" fill="#fff" stroke="#777" stroke-width="0.8"/>
<circle cx="147.7" cy="312.4" r="1.9" fill="#fff" stroke="#777" stroke-width="0.8"/>
<circle cx="152.5" cy="312.5" r="1.9" fill="#fff" stroke="#777" stroke-width="0.8"/>
<circle cx="157.3" cy="312.6" r="1.9" fill="#fff" stroke="#777" stroke-width="0.8"/>
<circle cx="162.1" cy="312.6" r="1.9" fill="#fff" stroke="#777" stroke-width="0.8"/>
<circle cx="166.9" cy="312.7" r="1.9" fill="#fff" stroke="#777" stroke-width="0.8"/>
<circle cx="171.6" cy="312.7" r="1.9" fill="#fff" stroke="#777" stroke-width="0.8"/>
<circle cx="176.4" cy="312.7" r="1.9" fill="#fff" stroke="#777" stroke-width="0.8"/>
<circle cx="181.2" cy="312.7" r="1.9" fill="#fff" stroke="#777" stroke-width="0.8"/>
<circle cx="186.0" cy="312.7" r="1.9" fill="#fff" stroke="#777" stroke-width="0.8"/>
<circle cx="190.8" cy="312.7" r="1.9" fill="#fff" stroke="#777" stroke-width="0.8"/>
<circle cx="195.5" cy="312.7" r="1.9" fill="#fff" stroke="#777" stroke-width="0.8"/>
<circle cx="200.3" cy="312.7" r="1.9" fill="#fff" stroke="#777" stroke-width="0.8"/>
<circle cx="205.1" cy="312.7" r="1.9" fill="#fff" stroke="#777" stroke-width="0.8"/>
<circle cx="209.9" cy="312.7" r="1.9" fill="#fff" stroke="#777" stroke-width="0.8"/>
<circle cx="214.7" cy="312.7" r="1.9" fill="#fff" stroke="#777" stroke-width="0.8"/>
<circle cx="219.4" cy="312.7" r="1.9" fill="#fff" stroke="#777" stroke-width="0.8"/>
<circle cx="224.2" cy="312.7" r="1.9" fill="#fff" stroke="#777" stroke-width="0.8"/>
<circle cx="229.0" cy="312.7" r="1.9" fill="#fff" stroke="#777" stroke-width="0.8"/>
<circle cx="233.8" cy="312.7" r="1.9" fill="#fff" stroke="#777" stroke-width="0.8"/>
<circle cx="238.6" cy="312.7" r="1.9" fill="#fff" stroke="#777" stroke-width="0.8"/>
<circle cx="243.3" cy="312.7" r="1.9" fill="#fff" stroke="#777" stroke-width="0.8"/>
<circle cx="248.1" cy="312.7" r="1.9" fill="#fff" stroke="#777" stroke-width="0.8"/>
<circle cx="252.9" cy="312.7" r="1.9" fill="#fff" stroke="#777" stroke-width="0.8"/>
<path d="M103.3,264.5 L103.3,259.7 L253,259.7 L253,264.5" fill="none" stroke="#444" stroke-width="1.2"/>
<text x="178.5" y="262.3" font-size="19" text-anchor="middle" fill="#222" stroke="#222" stroke-width="0.15">**</text>
<text x="315.2" y="233.4" font-size="31" text-anchor="start" fill="#111" font-weight="bold">G</text>
<g clip-path="url(#gclip)">
<polygon points="339.7,240.6 349.3,240.6 351.9,250.1 369.2,255.3 380.5,269.2 379.6,288.3 369.2,296.9 388.3,305.6 399.6,316.0 402.2,335.1 395.2,350.7 406.5,362.8 414.3,391.4 349.3,391.4 347.5,362.8 352.7,342.0 338.0,328.2 328.5,310.8 326.7,290.0 334.5,274.4 344.9,258.8" fill="#cef5f6" opacity="1"/>
<path d="M329.3,290.0 L346.7,281.3 L369.2,270.1 L378.7,269.2" fill="none" stroke="#bcedf0" stroke-width="7" stroke-linejoin="round" stroke-linecap="round" opacity="0.8"/>
<path d="M334.5,319.5 L355.3,311.7 L381.3,303.9 L397.0,312.5" fill="none" stroke="#bcedf0" stroke-width="8" stroke-linejoin="round" stroke-linecap="round" opacity="0.7"/>
<path d="M351.0,354.2 L369.2,348.1 L393.5,342.0 L401.3,335.1" fill="none" stroke="#bcedf0" stroke-width="8" stroke-linejoin="round" stroke-linecap="round" opacity="0.7"/>
<path d="M349.3,383.6 L369.2,376.7 L395.2,369.8 L410.0,375.0" fill="none" stroke="#bcedf0" stroke-width="7" stroke-linejoin="round" stroke-linecap="round" opacity="0.6"/>
<path d="M339.7,305.6 L357.1,296.9 L374.4,290.0" fill="none" stroke="#e4fafb" stroke-width="6" stroke-linejoin="round" stroke-linecap="round" opacity="0.9"/>
<path d="M348.4,338.6 L364.0,331.6 L384.8,325.6" fill="none" stroke="#e4fafb" stroke-width="6" stroke-linejoin="round" stroke-linecap="round" opacity="0.9"/>
<path d="M344.1,240.6 L346.7,248.4 L353.6,253.6" fill="none" stroke="#cef5f6" stroke-width="6" stroke-linejoin="round" stroke-linecap="round" opacity="1"/>
<path d="M439.9,240.6 L445.5,253.6 L455.9,265.7 L471.5,275.3 L487.1,279.3 L501.8,274.8 L504.8,278.2 L496.6,287.4" fill="none" stroke="#cef5f6" stroke-width="4.5" stroke-linejoin="round" stroke-linecap="round" opacity="1"/>
<polygon points="532.0,287.4 492.3,290.0 483.6,296.9 468.0,305.6 450.7,310.8 443.8,319.5 449.0,335.1 453.3,349.0 443.8,359.4 436.8,373.2 442.0,391.4 532.0,391.4" fill="#cef5f6" opacity="1"/>
<path d="M450.7,319.5 L473.2,314.3 L495.8,310.8 L532.0,307.3" fill="none" stroke="#bcedf0" stroke-width="8" stroke-linejoin="round" stroke-linecap="round" opacity="0.7"/>
<path d="M444.6,359.4 L468.0,353.3 L494.0,349.0 L532.0,345.5" fill="none" stroke="#bcedf0" stroke-width="8" stroke-linejoin="round" stroke-linecap="round" opacity="0.7"/>
<path d="M454.2,338.6 L478.4,333.4 L502.7,328.2 L532.0,326.4" fill="none" stroke="#e4fafb" stroke-width="6" stroke-linejoin="round" stroke-linecap="round" opacity="0.9"/>
<path d="M443.8,381.9 L468.0,376.7 L502.7,373.2 L532.0,369.8" fill="none" stroke="#bcedf0" stroke-width="7" stroke-linejoin="round" stroke-linecap="round" opacity="0.5"/>
<path d="M488.8,295.2 L509.6,293.5 L532.0,292.6" fill="none" stroke="#e4fafb" stroke-width="5" stroke-linejoin="round" stroke-linecap="round" opacity="0.9"/>
<polygon points="315.5,368.0 322.4,369.8 327.6,391.4 315.5,391.4" fill="#cef5f6" opacity="1"/>
<path d="M317.2,371.5 L324.1,390.6" fill="none" stroke="#ffffff" stroke-width="2" stroke-linejoin="round" stroke-linecap="round" opacity="0.9"/>
</g>
<path d="M410.8,254.5 L412.2,259.7" fill="none" stroke="#e8e8e8" stroke-width="1.6" stroke-linejoin="round" stroke-linecap="round"/>
<path d="M416.9,263.7 L423.0,264.0" fill="none" stroke="#e8e8e8" stroke-width="1.6" stroke-linejoin="round" stroke-linecap="round"/>
<path d="M403.0,272.7 L406.5,282.2 L394.4,294.3 L397.0,305.6 L386.5,316.9" fill="none" stroke="#22d3df" stroke-width="5.0" stroke-linejoin="round" stroke-linecap="round"/>
<path d="M409.1,264.0 L403.0,272.7" fill="none" stroke="#22d3df" stroke-width="5.0" stroke-linejoin="round" stroke-linecap="round"/>
<path d="M413.4,260.5 L409.1,264.0" fill="none" stroke="#2424f0" stroke-width="5.0" stroke-linejoin="round" stroke-linecap="round"/>
<path d="M386.5,316.9 L370.1,312.9" fill="none" stroke="#22d3df" stroke-width="5.0" stroke-linejoin="round" stroke-linecap="round"/>
<path d="M377.9,314.3 L368.3,312.2" fill="none" stroke="#2424f0" stroke-width="5.0" stroke-linejoin="round" stroke-linecap="round"/>
<path d="M367.8,310.8 L367.1,303.0" fill="none" stroke="#e8e8e8" stroke-width="1.6" stroke-linejoin="round" stroke-linecap="round"/>
<path d="M386.5,316.9 L390.9,329.9 L393.5,336.8" fill="none" stroke="#22d3df" stroke-width="5.0" stroke-linejoin="round" stroke-linecap="round"/>
<path d="M393.5,336.8 L395.6,342.0" fill="none" stroke="#b04040" stroke-width="2.2" stroke-linejoin="round" stroke-linecap="round"/>
<polygon points="405.6,332.5 407.4,319.5 418.6,312.5 430.8,319.5 429.9,330.8 417.8,335.1" fill="none" stroke="#48cc48" stroke-width="4" stroke-linejoin="round"/>
<polygon points="410.0,329.9 410.8,321.2 418.6,316.9 426.4,321.2 426.1,329.0 417.8,332.5" fill="none" stroke="#3bb83b" stroke-width="2" stroke-linejoin="round"/>
<path d="M430.8,319.5 L441.2,306.5 L438.6,290.0 L445.5,283.1" fill="none" stroke="#48cc48" stroke-width="5.0" stroke-linejoin="round" stroke-linecap="round"/>
<path d="M445.5,283.1 L443.8,275.3" fill="none" stroke="#48cc48" stroke-width="5.0" stroke-linejoin="round" stroke-linecap="round"/>
<path d="M443.8,275.3 L443.2,270.1" fill="none" stroke="#e03030" stroke-width="5.0" stroke-linejoin="round" stroke-linecap="round"/>
<path d="M445.5,283.1 L450.7,288.3" fill="none" stroke="#48cc48" stroke-width="5.0" stroke-linejoin="round" stroke-linecap="round"/>
<path d="M450.7,288.3 L455.0,292.6" fill="none" stroke="#e03030" stroke-width="5.0" stroke-linejoin="round" stroke-linecap="round"/>
<path d="M451.6,293.5 L449.0,297.8" fill="none" stroke="#e8e8e8" stroke-width="1.6" stroke-linejoin="round" stroke-linecap="round"/>
<path d="M464.6,321.2 L455.9,324.3" fill="none" stroke="#e8e8e8" stroke-width="1.6" stroke-linejoin="round" stroke-linecap="round"/>
<path d="M464.6,320.4 L468.0,328.2" fill="none" stroke="#e03030" stroke-width="5.0" stroke-linejoin="round" stroke-linecap="round"/>
<path d="M468.0,328.2 L483.6,342.0" fill="none" stroke="#22d3df" stroke-width="5.0" stroke-linejoin="round" stroke-linecap="round"/>
<path d="M483.6,342.0 L489.7,338.6" fill="none" stroke="#22d3df" stroke-width="5.0" stroke-linejoin="round" stroke-linecap="round"/>
<path d="M488.8,338.6 L494.9,335.1" fill="none" stroke="#2424f0" stroke-width="5.0" stroke-linejoin="round" stroke-linecap="round"/>
<path d="M494.0,332.5 L493.7,323.0" fill="none" stroke="#557777" stroke-width="1.2" stroke-linejoin="round" stroke-linecap="round"/>
<path d="M483.6,342.0 L485.0,355.9" fill="none" stroke="#22d3df" stroke-width="5.0" stroke-linejoin="round" stroke-linecap="round"/>
<path d="M485.0,355.9 L480.2,366.3" fill="none" stroke="#e03030" stroke-width="5.0" stroke-linejoin="round" stroke-linecap="round"/>
<line x1="424.7" y1="265.7" x2="437.7" y2="268.9" stroke="#e8e040" stroke-width="1.2" stroke-dasharray="1.2,1.8"/>
<line x1="450.7" y1="298.7" x2="461.1" y2="318.1" stroke="#e8e040" stroke-width="1.2" stroke-dasharray="1.2,1.8"/>
<text x="434.2" y="267.7" font-size="5.5" text-anchor="middle" fill="#555" stroke="#555" stroke-width="0.15">2.0</text>
<text x="456.2" y="311.1" font-size="5.5" text-anchor="middle" fill="#555" stroke="#555" stroke-width="0.15">2.5</text>
<text x="370.6" y="298.5" font-size="11.5" text-anchor="middle" fill="#333" stroke="#333" stroke-width="0.15">LYS-259</text>
<text x="463.2" y="354.8" font-size="11.5" text-anchor="middle" fill="#333" stroke="#333" stroke-width="0.15">SER-8</text>
<text x="617.2" y="233.6" font-size="31" text-anchor="start" fill="#111" font-weight="bold">H</text>
<text x="714.5" y="286.7" font-size="13.3" text-anchor="middle" fill="#282828" stroke="#282828" stroke-width="0.15">Temperature (<tspan font-size="8" dy="-4">o</tspan><tspan dy="4">C)</tspan></text>
<text x="643.8" y="308.0" font-size="12.3" text-anchor="middle" fill="#282828" stroke="#282828" stroke-width="0.15">55</text>
<text x="663.0" y="308.0" font-size="12.3" text-anchor="middle" fill="#282828" stroke="#282828" stroke-width="0.15">60</text>
<text x="681.5" y="308.0" font-size="12.3" text-anchor="middle" fill="#282828" stroke="#282828" stroke-width="0.15">65</text>
<text x="699.0" y="308.0" font-size="12.3" text-anchor="middle" fill="#282828" stroke="#282828" stroke-width="0.15">70</text>
<text x="716.0" y="308.0" font-size="12.3" text-anchor="middle" fill="#282828" stroke="#282828" stroke-width="0.15">75</text>
<text x="733.0" y="308.0" font-size="12.3" text-anchor="middle" fill="#282828" stroke="#282828" stroke-width="0.15">80</text>
<text x="752.0" y="308.0" font-size="12.3" text-anchor="middle" fill="#282828" stroke="#282828" stroke-width="0.15">85</text>
<text x="769.0" y="308.0" font-size="12.3" text-anchor="middle" fill="#282828" stroke="#282828" stroke-width="0.15">90</text>
<text x="781.0" y="305.8" font-size="9.3" text-anchor="start" fill="#282828" stroke="#282828" stroke-width="0.15">(kDa)</text>
<rect x="629.6" y="308.5" width="147.8" height="20.6" fill="#f6f6f6" stroke="#888" stroke-width="0.8"/>
<rect x="629.6" y="331.5" width="147.8" height="20.2" fill="#f6f6f6" stroke="#888" stroke-width="0.8"/>
<line x1="777.4" y1="310.5" x2="783.0" y2="310.5" stroke="#666" stroke-width="0.9"/>
<text x="786.0" y="315.3" font-size="10.5" text-anchor="start" fill="#282828" stroke="#282828" stroke-width="0.15">35</text>
<line x1="777.4" y1="335.0" x2="783.0" y2="335.0" stroke="#666" stroke-width="0.9"/>
<text x="786.0" y="340.8" font-size="10.5" text-anchor="start" fill="#282828" stroke="#282828" stroke-width="0.15">35</text>
<rect x="634.5" y="317.6" width="18.5" height="5.6" rx="2.4" fill="#000" opacity="1.00" filter="url(#b06)"/>
<rect x="634.5" y="339.2" width="18.5" height="5.2" rx="2.3" fill="#000" opacity="0.97" filter="url(#b06)"/>
<rect x="654.8" y="317.6" width="16.5" height="5.6" rx="2.4" fill="#000" opacity="0.95" filter="url(#b06)"/>
<rect x="654.8" y="339.2" width="16.5" height="5.2" rx="2.3" fill="#000" opacity="0.95" filter="url(#b06)"/>
<rect x="674.2" y="317.6" width="14.5" height="5.6" rx="2.4" fill="#000" opacity="0.90" filter="url(#b06)"/>
<rect x="674.2" y="339.2" width="14.5" height="5.2" rx="2.3" fill="#000" opacity="0.92" filter="url(#b06)"/>
<rect x="692.8" y="317.6" width="12.5" height="5.6" rx="2.4" fill="#000" opacity="0.75" filter="url(#b06)"/>
<rect x="692.8" y="339.2" width="12.5" height="5.2" rx="2.3" fill="#000" opacity="0.82" filter="url(#b06)"/>
<rect x="710.0" y="317.6" width="12.0" height="5.6" rx="2.4" fill="#000" opacity="0.22" filter="url(#b06)"/>
<rect x="710.0" y="339.2" width="12.0" height="5.2" rx="2.3" fill="#000" opacity="0.40" filter="url(#b06)"/>
<rect x="727.5" y="317.6" width="11.0" height="5.6" rx="2.4" fill="#000" opacity="0.05" filter="url(#b06)"/>
<rect x="727.5" y="339.2" width="11.0" height="5.2" rx="2.3" fill="#000" opacity="0.14" filter="url(#b06)"/>
<rect x="747.0" y="317.6" width="10.0" height="5.6" rx="2.4" fill="#000" opacity="0.02" filter="url(#b06)"/>
<rect x="747.0" y="339.2" width="10.0" height="5.2" rx="2.3" fill="#000" opacity="0.03" filter="url(#b06)"/>
<rect x="764.0" y="317.6" width="10.0" height="5.6" rx="2.4" fill="#000" opacity="0.01" filter="url(#b06)"/>
<rect x="764.0" y="339.2" width="10.0" height="5.2" rx="2.3" fill="#000" opacity="0.01" filter="url(#b06)"/>
<text x="625.7" y="325.3" font-size="13" text-anchor="end" fill="#282828" stroke="#282828" stroke-width="0.15">Control</text>
<text x="625.7" y="345.1" font-size="13" text-anchor="end" fill="#282828" stroke="#282828" stroke-width="0.15">10 µM 3-PPA</text>
<text x="702.8" y="366.4" font-size="13" text-anchor="middle" fill="#282828" stroke="#282828" stroke-width="0.15">FFAR1</text>
<text x="826.2" y="232.8" font-size="31" text-anchor="start" fill="#111" font-weight="bold">I</text>
<line x1="891.0" y1="231.2" x2="899.0" y2="231.2" stroke="#555" stroke-width="0.9"/>
<circle cx="895.0" cy="231.2" r="2.0" fill="#fff" stroke="#333" stroke-width="1"/>
<text x="905.8" y="235.7" font-size="12.5" text-anchor="start" fill="#282828" stroke="#282828" stroke-width="0.15">Control</text>
<line x1="891.0" y1="249.9" x2="899.0" y2="249.9" stroke="#f66" stroke-width="0.9"/>
<circle cx="895.0" cy="249.9" r="2.2" fill="#f33" stroke="none" stroke-width="1"/>
<text x="905.8" y="254.4" font-size="12.5" text-anchor="start" fill="#282828" stroke="#282828" stroke-width="0.15">10 µM 3-PPA</text>
<line x1="885.8" y1="351.2" x2="1022.5" y2="351.2" stroke="#555" stroke-width="1.3"/>
<line x1="885.8" y1="351.7" x2="885.8" y2="260.2" stroke="#555" stroke-width="1.3"/>
<line x1="881.8" y1="351.2" x2="885.8" y2="351.2" stroke="#555" stroke-width="1.3"/>
<text x="880.3" y="356.1" font-size="13.5" text-anchor="end" fill="#282828" stroke="#282828" stroke-width="0.15">0.0</text>
<line x1="881.8" y1="320.9" x2="885.8" y2="320.9" stroke="#555" stroke-width="1.3"/>
<text x="880.3" y="325.7" font-size="13.5" text-anchor="end" fill="#282828" stroke="#282828" stroke-width="0.15">0.5</text>
<line x1="881.8" y1="290.5" x2="885.8" y2="290.5" stroke="#555" stroke-width="1.3"/>
<text x="880.3" y="295.4" font-size="13.5" text-anchor="end" fill="#282828" stroke="#282828" stroke-width="0.15">1.0</text>
<line x1="881.8" y1="260.2" x2="885.8" y2="260.2" stroke="#555" stroke-width="1.3"/>
<text x="880.3" y="265.1" font-size="13.5" text-anchor="end" fill="#282828" stroke="#282828" stroke-width="0.15">1.5</text>
<line x1="885.8" y1="351.2" x2="885.8" y2="355.2" stroke="#555" stroke-width="1.2"/>
<text x="885.8" y="370.2" font-size="14" text-anchor="middle" fill="#282828" stroke="#282828" stroke-width="0.15">50</text>
<line x1="920.0" y1="351.2" x2="920.0" y2="355.2" stroke="#555" stroke-width="1.2"/>
<text x="920.0" y="370.2" font-size="14" text-anchor="middle" fill="#282828" stroke="#282828" stroke-width="0.15">60</text>
<line x1="954.1" y1="351.2" x2="954.1" y2="355.2" stroke="#555" stroke-width="1.2"/>
<text x="954.1" y="370.2" font-size="14" text-anchor="middle" fill="#282828" stroke="#282828" stroke-width="0.15">70</text>
<line x1="988.3" y1="351.2" x2="988.3" y2="355.2" stroke="#555" stroke-width="1.2"/>
<text x="988.3" y="370.2" font-size="14" text-anchor="middle" fill="#282828" stroke="#282828" stroke-width="0.15">80</text>
<line x1="1022.5" y1="351.2" x2="1022.5" y2="355.2" stroke="#555" stroke-width="1.2"/>
<text x="1022.5" y="370.2" font-size="14" text-anchor="middle" fill="#282828" stroke="#282828" stroke-width="0.15">90</text>
<path d="M902.9,290.5 L920.0,294.2 L937.1,302.7 L954.1,317.2 L971.2,331.8 L988.3,347.0 L1005.4,351.2" fill="none" stroke="#f55" stroke-width="1"/>
<path d="M902.9,290.5 L920.0,302.7 L937.1,316.6 L954.1,329.4 L971.2,343.9 L988.3,350.0 L1005.4,351.2" fill="none" stroke="#444" stroke-width="1"/>
<circle cx="902.9" cy="290.5" r="2.3" fill="#f33" stroke="none" stroke-width="1"/>
<circle cx="920.0" cy="294.2" r="2.3" fill="#f33" stroke="none" stroke-width="1"/>
<circle cx="937.1" cy="302.7" r="2.3" fill="#f33" stroke="none" stroke-width="1"/>
<circle cx="954.1" cy="317.2" r="2.3" fill="#f33" stroke="none" stroke-width="1"/>
<circle cx="971.2" cy="331.8" r="2.3" fill="#f33" stroke="none" stroke-width="1"/>
<circle cx="988.3" cy="347.0" r="2.3" fill="#f33" stroke="none" stroke-width="1"/>
<circle cx="1005.4" cy="351.2" r="2.3" fill="#f33" stroke="none" stroke-width="1"/>
<circle cx="902.9" cy="290.5" r="2.1" fill="#fff" stroke="#333" stroke-width="1"/>
<circle cx="920.0" cy="302.7" r="2.1" fill="#fff" stroke="#333" stroke-width="1"/>
<circle cx="937.1" cy="316.6" r="2.1" fill="#fff" stroke="#333" stroke-width="1"/>
<circle cx="954.1" cy="329.4" r="2.1" fill="#fff" stroke="#333" stroke-width="1"/>
<circle cx="971.2" cy="343.9" r="2.1" fill="#fff" stroke="#333" stroke-width="1"/>
<circle cx="988.3" cy="350.0" r="2.1" fill="#fff" stroke="#333" stroke-width="1"/>
<circle cx="1005.4" cy="351.2" r="2.1" fill="#fff" stroke="#333" stroke-width="1"/>
<text x="954.5" y="385.1" font-size="12.0" text-anchor="middle" fill="#282828" stroke="#282828" stroke-width="0.15">Temperature (<tspan font-size="8" dy="-4">o</tspan><tspan dy="4">C)</tspan></text>
<text x="836.9" y="305.0" font-size="14.5" text-anchor="middle" fill="#282828" stroke="#282828" stroke-width="0.15" transform="rotate(-90 836.9 305.0)">Relative</text>
<text x="854.5" y="305.0" font-size="14.6" text-anchor="middle" fill="#282828" stroke="#282828" stroke-width="0.15" transform="rotate(-90 854.5 305.0)">band intensity</text>
<text x="1037.6" y="232.8" font-size="31" text-anchor="start" fill="#111" font-weight="bold">J</text>
<rect x="1083.3" y="220.6" width="9.6" height="9.6" fill="#ffffff" stroke="#555" stroke-width="1.2"/>
<text x="1099.0" y="229.9" font-size="12.5" text-anchor="start" fill="#282828" stroke="#282828" stroke-width="0.15">Control</text>
<rect x="1151.7" y="219.8" width="9.3" height="10.5" fill="#ff0000" stroke="#b00000" stroke-width="1.2"/>
<text x="1166.0" y="229.6" font-size="12.5" text-anchor="start" fill="#282828" stroke="#282828" stroke-width="0.15">10 µM 3-PPA</text>
<rect x="1083.3" y="240.2" width="9.6" height="10.0" fill="#b3b3b3" stroke="#666" stroke-width="1.2"/>
<text x="1099.0" y="249.7" font-size="12.5" text-anchor="start" fill="#282828" stroke="#282828" stroke-width="0.15"></text>
<text x="1099.0" y="244.0" font-size="12.5" text-anchor="start" fill="#282828" stroke="#282828" stroke-width="0.15">10 µM</text>
<text x="1099.0" y="258.0" font-size="12.5" text-anchor="start" fill="#282828" stroke="#282828" stroke-width="0.15">GW1100</text>
<rect x="1151.7" y="240.2" width="9.3" height="9.5" fill="#6666ff" stroke="#2a2a90" stroke-width="1.2"/>
<text x="1166.0" y="249.5" font-size="12.5" text-anchor="start" fill="#282828" stroke="#282828" stroke-width="0.15">GW1100+3-PPA</text>
<line x1="1088.5" y1="351.2" x2="1224.0" y2="351.2" stroke="#222" stroke-width="1.3"/>
<line x1="1088.5" y1="351.7" x2="1088.5" y2="261.1" stroke="#222" stroke-width="1.3"/>
<line x1="1084.5" y1="351.2" x2="1088.5" y2="351.2" stroke="#222" stroke-width="1.3"/>
<text x="1083.0" y="355.3" font-size="11.5" text-anchor="end" fill="#282828" stroke="#282828" stroke-width="0.15">0</text>
<line x1="1084.5" y1="333.2" x2="1088.5" y2="333.2" stroke="#222" stroke-width="1.3"/>
<text x="1083.0" y="337.3" font-size="11.5" text-anchor="end" fill="#282828" stroke="#282828" stroke-width="0.15">1</text>
<line x1="1084.5" y1="315.2" x2="1088.5" y2="315.2" stroke="#222" stroke-width="1.3"/>
<text x="1083.0" y="319.3" font-size="11.5" text-anchor="end" fill="#282828" stroke="#282828" stroke-width="0.15">2</text>
<line x1="1084.5" y1="297.1" x2="1088.5" y2="297.1" stroke="#222" stroke-width="1.3"/>
<text x="1083.0" y="301.3" font-size="11.5" text-anchor="end" fill="#282828" stroke="#282828" stroke-width="0.15">3</text>
<line x1="1084.5" y1="279.1" x2="1088.5" y2="279.1" stroke="#222" stroke-width="1.3"/>
<text x="1083.0" y="283.3" font-size="11.5" text-anchor="end" fill="#282828" stroke="#282828" stroke-width="0.15">4</text>
<line x1="1084.5" y1="261.1" x2="1088.5" y2="261.1" stroke="#222" stroke-width="1.3"/>
<text x="1083.0" y="265.2" font-size="11.5" text-anchor="end" fill="#282828" stroke="#282828" stroke-width="0.15">5</text>
<rect x="1093.6" y="333.2" width="10.4" height="18.0" fill="#ffffff" stroke="#555" stroke-width="1.1"/>
<line x1="1098.8" y1="335.0" x2="1098.8" y2="331.4" stroke="#555" stroke-width="1.1"/>
<line x1="1096.3" y1="331.4" x2="1101.3" y2="331.4" stroke="#555" stroke-width="1.1"/>
<line x1="1096.3" y1="335.0" x2="1101.3" y2="335.0" stroke="#555" stroke-width="1.1"/>
<circle cx="1098.8" cy="329.2" r="1.7" fill="#fff" stroke="#555" stroke-width="1.0"/>
<circle cx="1096.3" cy="333.2" r="1.7" fill="#fff" stroke="#555" stroke-width="1.0"/>
<circle cx="1101.3" cy="333.5" r="1.7" fill="#fff" stroke="#555" stroke-width="1.0"/>
<circle cx="1098.8" cy="334.1" r="1.7" fill="#fff" stroke="#555" stroke-width="1.0"/>
<circle cx="1096.3" cy="338.2" r="1.7" fill="#fff" stroke="#555" stroke-width="1.0"/>
<text x="1098.8" y="324.0" font-size="16" text-anchor="middle" fill="#111" font-weight="bold">a</text>
<rect x="1108.9" y="316.1" width="9.9" height="35.1" fill="#ff0000" stroke="#b00000" stroke-width="1.1"/>
<line x1="1113.8" y1="319.7" x2="1113.8" y2="312.5" stroke="#555" stroke-width="1.1"/>
<line x1="1111.3" y1="312.5" x2="1116.3" y2="312.5" stroke="#555" stroke-width="1.1"/>
<line x1="1111.3" y1="319.7" x2="1116.3" y2="319.7" stroke="#555" stroke-width="1.1"/>
<circle cx="1113.8" cy="299.8" r="1.7" fill="#fff" stroke="#555" stroke-width="1.0"/>
<circle cx="1111.3" cy="311.6" r="1.7" fill="#fff" stroke="#555" stroke-width="1.0"/>
<circle cx="1116.3" cy="312.5" r="1.7" fill="#fff" stroke="#555" stroke-width="1.0"/>
<circle cx="1113.8" cy="318.8" r="1.7" fill="#fff" stroke="#555" stroke-width="1.0"/>
<circle cx="1111.3" cy="323.3" r="1.7" fill="#fff" stroke="#555" stroke-width="1.0"/>
<circle cx="1116.3" cy="330.5" r="1.7" fill="#fff" stroke="#555" stroke-width="1.0"/>
<text x="1113.8" y="294.6" font-size="16" text-anchor="middle" fill="#111" font-weight="bold">b</text>
<rect x="1123.8" y="341.3" width="9.7" height="9.9" fill="#b3b3b3" stroke="#666" stroke-width="1.1"/>
<line x1="1128.7" y1="342.6" x2="1128.7" y2="340.0" stroke="#555" stroke-width="1.1"/>
<line x1="1126.2" y1="340.0" x2="1131.2" y2="340.0" stroke="#555" stroke-width="1.1"/>
<line x1="1126.2" y1="342.6" x2="1131.2" y2="342.6" stroke="#555" stroke-width="1.1"/>
<circle cx="1128.7" cy="337.7" r="1.7" fill="#fff" stroke="#555" stroke-width="1.0"/>
<circle cx="1126.2" cy="338.6" r="1.7" fill="#fff" stroke="#555" stroke-width="1.0"/>
<circle cx="1131.2" cy="340.4" r="1.7" fill="#fff" stroke="#555" stroke-width="1.0"/>
<circle cx="1128.7" cy="342.2" r="1.7" fill="#fff" stroke="#555" stroke-width="1.0"/>
<circle cx="1126.2" cy="343.1" r="1.7" fill="#fff" stroke="#555" stroke-width="1.0"/>
<circle cx="1131.2" cy="344.0" r="1.7" fill="#fff" stroke="#555" stroke-width="1.0"/>
<text x="1128.7" y="332.4" font-size="16" text-anchor="middle" fill="#111" font-weight="bold">a</text>
<rect x="1139.2" y="338.9" width="9.2" height="12.3" fill="#6666ff" stroke="#2a2a90" stroke-width="1.1"/>
<line x1="1143.8" y1="340.7" x2="1143.8" y2="337.1" stroke="#555" stroke-width="1.1"/>
<line x1="1141.3" y1="337.1" x2="1146.3" y2="337.1" stroke="#555" stroke-width="1.1"/>
<line x1="1141.3" y1="340.7" x2="1146.3" y2="340.7" stroke="#555" stroke-width="1.1"/>
<circle cx="1143.8" cy="335.0" r="1.7" fill="#fff" stroke="#555" stroke-width="1.0"/>
<circle cx="1141.3" cy="335.9" r="1.7" fill="#fff" stroke="#555" stroke-width="1.0"/>
<circle cx="1146.3" cy="338.6" r="1.7" fill="#fff" stroke="#555" stroke-width="1.0"/>
<circle cx="1143.8" cy="340.4" r="1.7" fill="#fff" stroke="#555" stroke-width="1.0"/>
<circle cx="1141.3" cy="347.6" r="1.7" fill="#fff" stroke="#555" stroke-width="1.0"/>
<text x="1143.8" y="329.7" font-size="16" text-anchor="middle" fill="#111" font-weight="bold">a</text>
<rect x="1163.7" y="334.4" width="9.9" height="16.8" fill="#ffffff" stroke="#555" stroke-width="1.1"/>
<line x1="1168.7" y1="335.7" x2="1168.7" y2="333.2" stroke="#555" stroke-width="1.1"/>
<line x1="1166.2" y1="333.2" x2="1171.2" y2="333.2" stroke="#555" stroke-width="1.1"/>
<line x1="1166.2" y1="335.7" x2="1171.2" y2="335.7" stroke="#555" stroke-width="1.1"/>
<circle cx="1168.7" cy="324.2" r="1.7" fill="#fff" stroke="#555" stroke-width="1.0"/>
<circle cx="1166.2" cy="333.2" r="1.7" fill="#fff" stroke="#555" stroke-width="1.0"/>
<circle cx="1171.2" cy="333.5" r="1.7" fill="#fff" stroke="#555" stroke-width="1.0"/>
<circle cx="1168.7" cy="334.1" r="1.7" fill="#fff" stroke="#555" stroke-width="1.0"/>
<circle cx="1166.2" cy="335.0" r="1.7" fill="#fff" stroke="#555" stroke-width="1.0"/>
<circle cx="1171.2" cy="337.7" r="1.7" fill="#fff" stroke="#555" stroke-width="1.0"/>
<text x="1168.7" y="318.9" font-size="16" text-anchor="middle" fill="#111" font-weight="bold">a</text>
<rect x="1179.0" y="302.5" width="9.5" height="48.7" fill="#ff0000" stroke="#b00000" stroke-width="1.1"/>
<line x1="1183.8" y1="310.7" x2="1183.8" y2="294.4" stroke="#555" stroke-width="1.1"/>
<line x1="1181.2" y1="294.4" x2="1186.2" y2="294.4" stroke="#555" stroke-width="1.1"/>
<line x1="1181.2" y1="310.7" x2="1186.2" y2="310.7" stroke="#555" stroke-width="1.1"/>
<circle cx="1183.8" cy="277.3" r="1.7" fill="#fff" stroke="#555" stroke-width="1.0"/>
<circle cx="1181.2" cy="284.5" r="1.7" fill="#fff" stroke="#555" stroke-width="1.0"/>
<circle cx="1186.2" cy="289.9" r="1.7" fill="#fff" stroke="#555" stroke-width="1.0"/>
<circle cx="1183.8" cy="315.2" r="1.7" fill="#fff" stroke="#555" stroke-width="1.0"/>
<circle cx="1181.2" cy="316.1" r="1.7" fill="#fff" stroke="#555" stroke-width="1.0"/>
<circle cx="1186.2" cy="331.4" r="1.7" fill="#fff" stroke="#555" stroke-width="1.0"/>
<text x="1183.8" y="272.1" font-size="16" text-anchor="middle" fill="#111" font-weight="bold">b</text>
<rect x="1193.8" y="337.7" width="10.1" height="13.5" fill="#b3b3b3" stroke="#666" stroke-width="1.1"/>
<line x1="1198.8" y1="338.8" x2="1198.8" y2="336.6" stroke="#555" stroke-width="1.1"/>
<line x1="1196.3" y1="336.6" x2="1201.3" y2="336.6" stroke="#555" stroke-width="1.1"/>
<line x1="1196.3" y1="338.8" x2="1201.3" y2="338.8" stroke="#555" stroke-width="1.1"/>
<circle cx="1198.8" cy="334.1" r="1.7" fill="#fff" stroke="#555" stroke-width="1.0"/>
<circle cx="1196.3" cy="335.0" r="1.7" fill="#fff" stroke="#555" stroke-width="1.0"/>
<circle cx="1201.3" cy="336.8" r="1.7" fill="#fff" stroke="#555" stroke-width="1.0"/>
<circle cx="1198.8" cy="337.7" r="1.7" fill="#fff" stroke="#555" stroke-width="1.0"/>
<circle cx="1196.3" cy="339.5" r="1.7" fill="#fff" stroke="#555" stroke-width="1.0"/>
<circle cx="1201.3" cy="340.4" r="1.7" fill="#fff" stroke="#555" stroke-width="1.0"/>
<text x="1198.8" y="328.8" font-size="16" text-anchor="middle" fill="#111" font-weight="bold">a</text>
<rect x="1208.9" y="329.9" width="10.1" height="21.3" fill="#6666ff" stroke="#2a2a90" stroke-width="1.1"/>
<line x1="1214.0" y1="333.5" x2="1214.0" y2="326.3" stroke="#555" stroke-width="1.1"/>
<line x1="1211.5" y1="326.3" x2="1216.5" y2="326.3" stroke="#555" stroke-width="1.1"/>
<line x1="1211.5" y1="333.5" x2="1216.5" y2="333.5" stroke="#555" stroke-width="1.1"/>
<circle cx="1214.0" cy="317.9" r="1.7" fill="#fff" stroke="#555" stroke-width="1.0"/>
<circle cx="1211.5" cy="322.4" r="1.7" fill="#fff" stroke="#555" stroke-width="1.0"/>
<circle cx="1216.5" cy="325.1" r="1.7" fill="#fff" stroke="#555" stroke-width="1.0"/>
<circle cx="1214.0" cy="333.2" r="1.7" fill="#fff" stroke="#555" stroke-width="1.0"/>
<circle cx="1211.5" cy="340.4" r="1.7" fill="#fff" stroke="#555" stroke-width="1.0"/>
<circle cx="1216.5" cy="345.8" r="1.7" fill="#fff" stroke="#555" stroke-width="1.0"/>
<text x="1214.0" y="312.6" font-size="16" text-anchor="middle" fill="#111" font-weight="bold">a</text>
<line x1="1121.0" y1="351.2" x2="1121.0" y2="355.2" stroke="#444" stroke-width="1.1"/>
<line x1="1191.0" y1="351.2" x2="1191.0" y2="355.2" stroke="#444" stroke-width="1.1"/>
<text x="1110.9" y="382.6" font-size="14.5" text-anchor="middle" fill="#282828" stroke="#282828" stroke-width="0.15" font-style="italic" transform="rotate(-40 1110.9 382.6)">Ucp1</text>
<text x="1181.0" y="382.6" font-size="14.5" text-anchor="middle" fill="#282828" stroke="#282828" stroke-width="0.15" font-style="italic" transform="rotate(-40 1181.0 382.6)">Cidea</text>
<text x="1053.9" y="306.2" font-size="14.7" text-anchor="middle" fill="#282828" stroke="#282828" stroke-width="0.15" transform="rotate(-90 1053.9 306.2)">Relative mRNA</text>
<text x="1071.4" y="306.2" font-size="14.7" text-anchor="middle" fill="#282828" stroke="#282828" stroke-width="0.15" transform="rotate(-90 1071.4 306.2)">expression</text>
<text x="36.3" y="431.2" font-size="31" text-anchor="start" fill="#111" font-weight="bold">K</text>
<defs><linearGradient id="kg1" x1="0" y1="0" x2="0" y2="1"><stop offset="0" stop-color="#747474"/><stop offset="0.45" stop-color="#949494"/><stop offset="1" stop-color="#9c9c9c"/></linearGradient></defs>
<rect x="71.7" y="489.0" width="206.0" height="19.8" fill="url(#kg1)" stroke="#555" stroke-width="0.8"/>
<rect x="71.7" y="510.6" width="206.0" height="20.3" fill="#b8b8b8" stroke="#888" stroke-width="0.8"/>
<rect x="74.7" y="497.3" width="14.0" height="4.0" rx="1.8" fill="#000" opacity="0.45" filter="url(#b06)"/>
<rect x="74.7" y="518.0" width="14.0" height="4.5" rx="2.0" fill="#000" opacity="0.90" filter="url(#b06)"/>
<rect x="91.8" y="497.3" width="14.0" height="4.0" rx="1.8" fill="#000" opacity="0.45" filter="url(#b06)"/>
<rect x="91.8" y="518.0" width="14.0" height="4.5" rx="2.0" fill="#000" opacity="0.90" filter="url(#b06)"/>
<rect x="107.8" y="497.3" width="14.0" height="4.0" rx="1.8" fill="#000" opacity="0.50" filter="url(#b06)"/>
<rect x="107.8" y="518.0" width="14.0" height="4.5" rx="2.0" fill="#000" opacity="0.85" filter="url(#b06)"/>
<rect x="123.9" y="497.3" width="14.0" height="4.0" rx="1.8" fill="#000" opacity="0.95" filter="url(#b06)"/>
<rect x="123.9" y="518.0" width="14.0" height="4.5" rx="2.0" fill="#000" opacity="0.70" filter="url(#b06)"/>
<rect x="140.0" y="497.3" width="14.0" height="4.0" rx="1.8" fill="#000" opacity="0.90" filter="url(#b06)"/>
<rect x="140.0" y="518.0" width="14.0" height="4.5" rx="2.0" fill="#000" opacity="0.70" filter="url(#b06)"/>
<rect x="156.0" y="497.3" width="14.0" height="4.0" rx="1.8" fill="#000" opacity="0.90" filter="url(#b06)"/>
<rect x="156.0" y="518.0" width="14.0" height="4.5" rx="2.0" fill="#000" opacity="0.75" filter="url(#b06)"/>
<rect x="175.0" y="497.3" width="14.0" height="4.0" rx="1.8" fill="#000" opacity="0.35" filter="url(#b06)"/>
<rect x="175.0" y="518.0" width="14.0" height="4.5" rx="2.0" fill="#000" opacity="0.85" filter="url(#b06)"/>
<rect x="192.9" y="497.3" width="14.0" height="4.0" rx="1.8" fill="#000" opacity="0.25" filter="url(#b06)"/>
<rect x="192.9" y="518.0" width="14.0" height="4.5" rx="2.0" fill="#000" opacity="0.85" filter="url(#b06)"/>
<rect x="209.9" y="497.3" width="14.0" height="4.0" rx="1.8" fill="#000" opacity="0.25" filter="url(#b06)"/>
<rect x="209.9" y="518.0" width="14.0" height="4.5" rx="2.0" fill="#000" opacity="0.85" filter="url(#b06)"/>
<rect x="226.0" y="498.8" width="14.0" height="4.0" rx="1.8" fill="#000" opacity="0.45" filter="url(#b06)"/>
<rect x="226.0" y="518.0" width="14.0" height="4.5" rx="2.0" fill="#000" opacity="0.70" filter="url(#b06)"/>
<rect x="243.0" y="498.8" width="14.0" height="4.0" rx="1.8" fill="#000" opacity="0.50" filter="url(#b06)"/>
<rect x="243.0" y="518.0" width="14.0" height="4.5" rx="2.0" fill="#000" opacity="0.65" filter="url(#b06)"/>
<rect x="260.0" y="498.8" width="14.0" height="4.0" rx="1.8" fill="#000" opacity="0.45" filter="url(#b06)"/>
<rect x="260.0" y="518.0" width="14.0" height="4.5" rx="2.0" fill="#000" opacity="0.75" filter="url(#b06)"/>
<text x="67.5" y="504.4" font-size="12.6" text-anchor="end" fill="#282828" stroke="#282828" stroke-width="0.15">UCP1</text>
<text x="67.5" y="525.9" font-size="12.6" text-anchor="end" fill="#282828" stroke="#282828" stroke-width="0.15">Tubulin</text>
<line x1="277.7" y1="494.5" x2="284.0" y2="494.5" stroke="#444" stroke-width="1"/>
<text x="287.0" y="501.8" font-size="12.5" text-anchor="start" fill="#282828" stroke="#282828" stroke-width="0.15">35</text>
<line x1="277.7" y1="527.7" x2="284.0" y2="527.7" stroke="#444" stroke-width="1"/>
<text x="287.0" y="532.2" font-size="12.5" text-anchor="start" fill="#282828" stroke="#282828" stroke-width="0.15">50</text>
<text x="273.5" y="485.1" font-size="10.3" text-anchor="start" fill="#282828" stroke="#282828" stroke-width="0.15">(kDa)</text>
<line x1="78.9" y1="485.1" x2="120.6" y2="485.1" stroke="#bbb" stroke-width="1.3"/>
<line x1="126.0" y1="485.1" x2="168.0" y2="485.1" stroke="#bbb" stroke-width="1.3"/>
<line x1="176.5" y1="485.1" x2="218.4" y2="485.1" stroke="#bbb" stroke-width="1.3"/>
<line x1="226.0" y1="485.1" x2="268.0" y2="485.1" stroke="#bbb" stroke-width="1.3"/>
<text x="84.8" y="482.3" font-size="13.5" text-anchor="start" fill="#282828" stroke="#282828" stroke-width="0.15" transform="rotate(-31 84.8 482.3)">Control</text>
<text x="128.8" y="482.3" font-size="13.5" text-anchor="start" fill="#282828" stroke="#282828" stroke-width="0.15" transform="rotate(-31 128.8 482.3)">10 µM 3-PPA</text>
<text x="179.8" y="482.3" font-size="13.5" text-anchor="start" fill="#282828" stroke="#282828" stroke-width="0.15" transform="rotate(-31 179.8 482.3)">10 µM GW1100</text>
<text x="230.8" y="479.4" font-size="13.5" text-anchor="start" fill="#282828" stroke="#282828" stroke-width="0.15" transform="rotate(-31 230.8 479.4)">GW1100+3-PPA</text>
<text x="39.7" y="572.0" font-size="31" text-anchor="start" fill="#111" font-weight="bold">L</text>
<line x1="77.2" y1="675.6" x2="211.3" y2="675.6" stroke="#555" stroke-width="1.3"/>
<line x1="77.2" y1="676.1" x2="77.2" y2="586.8" stroke="#555" stroke-width="1.3"/>
<line x1="73.2" y1="675.6" x2="77.2" y2="675.6" stroke="#555" stroke-width="1.3"/>
<text x="71.7" y="679.8" font-size="11.8" text-anchor="end" fill="#282828" stroke="#282828" stroke-width="0.15">0</text>
<line x1="73.2" y1="646.0" x2="77.2" y2="646.0" stroke="#555" stroke-width="1.3"/>
<text x="71.7" y="650.2" font-size="11.8" text-anchor="end" fill="#282828" stroke="#282828" stroke-width="0.15">1</text>
<line x1="73.2" y1="616.4" x2="77.2" y2="616.4" stroke="#555" stroke-width="1.3"/>
<text x="71.7" y="620.6" font-size="11.8" text-anchor="end" fill="#282828" stroke="#282828" stroke-width="0.15">2</text>
<line x1="73.2" y1="586.8" x2="77.2" y2="586.8" stroke="#555" stroke-width="1.3"/>
<text x="71.7" y="591.0" font-size="11.8" text-anchor="end" fill="#282828" stroke="#282828" stroke-width="0.15">3</text>
<rect x="87.9" y="646.0" width="20.5" height="29.6" fill="#ffffff" stroke="#555" stroke-width="1.3"/>
<line x1="98.2" y1="649.8" x2="98.2" y2="642.2" stroke="#555" stroke-width="1.1"/>
<line x1="94.2" y1="642.2" x2="102.2" y2="642.2" stroke="#555" stroke-width="1.1"/>
<line x1="94.2" y1="649.8" x2="102.2" y2="649.8" stroke="#555" stroke-width="1.1"/>
<circle cx="98.2" cy="639.5" r="1.9" fill="#fff" stroke="#555" stroke-width="1.0"/>
<circle cx="95.2" cy="648.4" r="1.9" fill="#fff" stroke="#555" stroke-width="1.0"/>
<circle cx="101.2" cy="652.5" r="1.9" fill="#fff" stroke="#555" stroke-width="1.0"/>
<line x1="98.2" y1="675.6" x2="98.2" y2="679.6" stroke="#555" stroke-width="1.1"/>
<text x="98.2" y="633.2" font-size="16" text-anchor="middle" fill="#111" font-weight="bold">a</text>
<rect x="119.1" y="611.1" width="19.9" height="64.5" fill="#ff0000" stroke="#b00000" stroke-width="1.3"/>
<line x1="129.1" y1="616.1" x2="129.1" y2="606.0" stroke="#555" stroke-width="1.1"/>
<line x1="125.1" y1="606.0" x2="133.1" y2="606.0" stroke="#555" stroke-width="1.1"/>
<line x1="125.1" y1="616.1" x2="133.1" y2="616.1" stroke="#555" stroke-width="1.1"/>
<circle cx="129.1" cy="599.2" r="1.9" fill="#fff" stroke="#555" stroke-width="1.0"/>
<circle cx="126.1" cy="615.5" r="1.9" fill="#fff" stroke="#555" stroke-width="1.0"/>
<circle cx="132.1" cy="616.4" r="1.9" fill="#fff" stroke="#555" stroke-width="1.0"/>
<line x1="129.1" y1="675.6" x2="129.1" y2="679.6" stroke="#555" stroke-width="1.1"/>
<text x="129.1" y="593.0" font-size="16" text-anchor="middle" fill="#111" font-weight="bold">b</text>
<rect x="149.8" y="646.9" width="19.8" height="28.7" fill="#b3b3b3" stroke="#666" stroke-width="1.3"/>
<line x1="159.7" y1="647.8" x2="159.7" y2="646.0" stroke="#555" stroke-width="1.1"/>
<line x1="155.7" y1="646.0" x2="163.7" y2="646.0" stroke="#555" stroke-width="1.1"/>
<line x1="155.7" y1="647.8" x2="163.7" y2="647.8" stroke="#555" stroke-width="1.1"/>
<circle cx="156.7" cy="646.0" r="1.9" fill="#fff" stroke="#555" stroke-width="1.0"/>
<circle cx="159.7" cy="646.6" r="1.9" fill="#fff" stroke="#555" stroke-width="1.0"/>
<circle cx="162.7" cy="648.1" r="1.9" fill="#fff" stroke="#555" stroke-width="1.0"/>
<line x1="159.7" y1="675.6" x2="159.7" y2="679.6" stroke="#555" stroke-width="1.1"/>
<text x="159.7" y="639.8" font-size="16" text-anchor="middle" fill="#111" font-weight="bold">a</text>
<rect x="180.7" y="635.6" width="20.2" height="40.0" fill="#6666ff" stroke="#2a2a90" stroke-width="1.3"/>
<line x1="190.8" y1="639.5" x2="190.8" y2="631.8" stroke="#555" stroke-width="1.1"/>
<line x1="186.8" y1="631.8" x2="194.8" y2="631.8" stroke="#555" stroke-width="1.1"/>
<line x1="186.8" y1="639.5" x2="194.8" y2="639.5" stroke="#555" stroke-width="1.1"/>
<circle cx="190.8" cy="628.8" r="1.9" fill="#fff" stroke="#555" stroke-width="1.0"/>
<circle cx="187.8" cy="634.8" r="1.9" fill="#fff" stroke="#555" stroke-width="1.0"/>
<circle cx="193.8" cy="640.1" r="1.9" fill="#fff" stroke="#555" stroke-width="1.0"/>
<line x1="190.8" y1="675.6" x2="190.8" y2="679.6" stroke="#555" stroke-width="1.1"/>
<text x="190.8" y="622.6" font-size="16" text-anchor="middle" fill="#111" font-weight="bold">a</text>
<rect x="211.9" y="585.7" width="8.5" height="9.0" fill="#ffffff" stroke="#555" stroke-width="1.2"/>
<text x="227.0" y="594.7" font-size="12.5" text-anchor="start" fill="#282828" stroke="#282828" stroke-width="0.15">Control</text>
<rect x="211.9" y="602.7" width="8.5" height="9.0" fill="#ff0000" stroke="#b00000" stroke-width="1.2"/>
<text x="227.0" y="611.7" font-size="12.5" text-anchor="start" fill="#282828" stroke="#282828" stroke-width="0.15">10 µM 3-PPA</text>
<rect x="211.9" y="620.0" width="8.5" height="9.0" fill="#b3b3b3" stroke="#666" stroke-width="1.2"/>
<text x="227.0" y="629.0" font-size="12.5" text-anchor="start" fill="#282828" stroke="#282828" stroke-width="0.15">10 µM GW1100</text>
<rect x="211.9" y="637.6" width="8.5" height="9.0" fill="#6666ff" stroke="#2a2a90" stroke-width="1.2"/>
<text x="227.0" y="646.6" font-size="12.5" text-anchor="start" fill="#282828" stroke="#282828" stroke-width="0.15">GW1100+3-PPA</text>
<text x="42.7" y="632.2" font-size="14.0" text-anchor="middle" fill="#282828" stroke="#282828" stroke-width="0.15" transform="rotate(-90 42.7 632.2)">Relative UCP1</text>
<text x="60.4" y="632.2" font-size="14.3" text-anchor="middle" fill="#282828" stroke="#282828" stroke-width="0.15" transform="rotate(-90 60.4 632.2)">expression</text>
<text x="704.0" y="430.9" font-size="31" text-anchor="start" fill="#111" font-weight="bold">N</text>
<text x="817.0" y="449.8" font-size="13" text-anchor="middle" fill="#282828" stroke="#282828" stroke-width="0.15">Control or 10 µM 3-PPA</text>
<path d="M767.4,457 L767.4,463.8 M767.4,460.6 L865.7,460.6 M865.7,457 L865.7,463.8" fill="none" stroke="#555" stroke-width="1.1"/>
<line x1="695.0" y1="486.0" x2="727.7" y2="486.0" stroke="#222" stroke-width="1.3"/>
<path d="M731.7,486 L726.7,483.4 L726.7,488.6Z" fill="#222" stroke="none" stroke-width="1"/>
<text x="712.5" y="483.7" font-size="13" text-anchor="middle" fill="#282828" stroke="#282828" stroke-width="0.15">2 d</text>
<text x="680.6" y="502.6" font-size="13" fill="#222"><tspan font-style="italic">Ffar1</tspan> LV</text>
<line x1="798.3" y1="484.7" x2="830.3" y2="484.7" stroke="#222" stroke-width="1.3"/>
<path d="M834.3,484.7 L829.3,482.09999999999997 L829.3,487.3Z" fill="#222" stroke="none" stroke-width="1"/>
<text x="816.8" y="483.4" font-size="13" text-anchor="middle" fill="#282828" stroke="#282828" stroke-width="0.15">5 d</text>
<ellipse cx="769.2" cy="481.4" rx="26.8" ry="13.4" fill="none" stroke="#333" stroke-width="1.3"/>
<ellipse cx="769.2" cy="487.5" rx="26.8" ry="13.8" fill="none" stroke="#333" stroke-width="1.3"/>
<ellipse cx="864.4" cy="481.4" rx="26.8" ry="13.4" fill="none" stroke="#333" stroke-width="1.3"/>
<ellipse cx="864.4" cy="487.5" rx="26.8" ry="13.8" fill="none" stroke="#333" stroke-width="1.3"/>
<path d="M753.0,480.9 L757.2,479.1 L761.4,480.9 L757.2,482.7Z" fill="#ffc820"/>
<circle cx="757.2" cy="480.9" r="0.9" fill="#ff4400" stroke="none" stroke-width="1"/>
<path d="M768.6,480.9 L772.8,479.1 L777.0,480.9 L772.8,482.7Z" fill="#ffc820"/>
<circle cx="772.8" cy="480.9" r="0.9" fill="#ff4400" stroke="none" stroke-width="1"/>
<path d="M780.3,483.6 L784.5,481.8 L788.7,483.6 L784.5,485.4Z" fill="#ffc820"/>
<circle cx="784.5" cy="483.6" r="0.9" fill="#ff4400" stroke="none" stroke-width="1"/>
<path d="M753.0,487.2 L757.2,485.4 L761.4,487.2 L757.2,489.0Z" fill="#ffc820"/>
<circle cx="757.2" cy="487.2" r="0.9" fill="#ff4400" stroke="none" stroke-width="1"/>
<path d="M763.2,486.2 L767.4,484.4 L771.6,486.2 L767.4,488.0Z" fill="#ffc820"/>
<circle cx="767.4" cy="486.2" r="0.9" fill="#ff4400" stroke="none" stroke-width="1"/>
<path d="M774.3,487.2 L778.5,485.4 L782.7,487.2 L778.5,489.0Z" fill="#ffc820"/>
<circle cx="778.5" cy="487.2" r="0.9" fill="#ff4400" stroke="none" stroke-width="1"/>
<path d="M765.8,491.9 L770.0,490.1 L774.2,491.9 L770.0,493.7Z" fill="#ffc820"/>
<circle cx="770.0" cy="491.9" r="0.9" fill="#ff4400" stroke="none" stroke-width="1"/>
<circle cx="854.0" cy="478.3" r="2.4" fill="#f2f200" stroke="#c8b400" stroke-width="0.6"/>
<circle cx="850.4" cy="482.3" r="2.4" fill="#f2f200" stroke="#c8b400" stroke-width="0.6"/>
<circle cx="860.0" cy="483.4" r="2.4" fill="#f2f200" stroke="#c8b400" stroke-width="0.6"/>
<circle cx="864.7" cy="480.2" r="2.4" fill="#f2f200" stroke="#c8b400" stroke-width="0.6"/>
<circle cx="872.8" cy="480.2" r="2.4" fill="#f2f200" stroke="#c8b400" stroke-width="0.6"/>
<circle cx="879.6" cy="483.0" r="2.4" fill="#f2f200" stroke="#c8b400" stroke-width="0.6"/>
<circle cx="854.7" cy="486.2" r="2.4" fill="#f2f200" stroke="#c8b400" stroke-width="0.6"/>
<circle cx="864.7" cy="486.2" r="2.4" fill="#f2f200" stroke="#c8b400" stroke-width="0.6"/>
<circle cx="871.7" cy="484.5" r="2.4" fill="#f2f200" stroke="#c8b400" stroke-width="0.6"/>
<circle cx="879.6" cy="487.9" r="2.4" fill="#f2f200" stroke="#c8b400" stroke-width="0.6"/>
<circle cx="860.4" cy="490.4" r="2.4" fill="#f2f200" stroke="#c8b400" stroke-width="0.6"/>
<circle cx="875.3" cy="491.1" r="2.4" fill="#f2f200" stroke="#c8b400" stroke-width="0.6"/>
<text x="772.0" y="515.3" font-size="13" text-anchor="middle" fill="#282828" stroke="#282828" stroke-width="0.15">SVF</text>
<text x="869.2" y="515.3" font-size="13" text-anchor="middle" fill="#282828" stroke="#282828" stroke-width="0.15">Beige adipocyte</text>
<text x="704.0" y="572.8" font-size="31" text-anchor="start" fill="#111" font-weight="bold">O</text>
<rect x="770.4" y="536.6" width="9.2" height="9.4" fill="#ffffff" stroke="#555" stroke-width="1.2"/>
<text x="785.5" y="545.8" font-size="12.5" text-anchor="start" fill="#282828" stroke="#282828" stroke-width="0.15">Control</text>
<rect x="770.4" y="554.5" width="9.2" height="9.1" fill="#ff0000" stroke="#b00000" stroke-width="1.2"/>
<text x="785.5" y="563.5" font-size="12.5" text-anchor="start" fill="#282828" stroke="#282828" stroke-width="0.15"></text>
<text x="785.5" y="563.5" font-size="12.5" fill="#222"><tspan font-style="italic">Ffar1</tspan> siRNA</text>
<line x1="768.3" y1="673.2" x2="860.0" y2="673.2" stroke="#555" stroke-width="1.3"/>
<line x1="768.3" y1="673.7" x2="768.3" y2="583.2" stroke="#555" stroke-width="1.3"/>
<line x1="764.3" y1="673.2" x2="768.3" y2="673.2" stroke="#555" stroke-width="1.3"/>
<text x="762.8" y="677.6" font-size="12.2" text-anchor="end" fill="#282828" stroke="#282828" stroke-width="0.15">0.0</text>
<line x1="764.3" y1="643.2" x2="768.3" y2="643.2" stroke="#555" stroke-width="1.3"/>
<text x="762.8" y="647.6" font-size="12.2" text-anchor="end" fill="#282828" stroke="#282828" stroke-width="0.15">0.5</text>
<line x1="764.3" y1="613.2" x2="768.3" y2="613.2" stroke="#555" stroke-width="1.3"/>
<text x="762.8" y="617.6" font-size="12.2" text-anchor="end" fill="#282828" stroke="#282828" stroke-width="0.15">1.0</text>
<line x1="764.3" y1="583.2" x2="768.3" y2="583.2" stroke="#555" stroke-width="1.3"/>
<text x="762.8" y="587.6" font-size="12.2" text-anchor="end" fill="#282828" stroke="#282828" stroke-width="0.15">1.5</text>
<rect x="782.8" y="613.2" width="25.5" height="60.0" fill="#ffffff" stroke="#555" stroke-width="1.3"/>
<rect x="821.7" y="639.6" width="24.9" height="33.6" fill="#ff0000" stroke="#b00000" stroke-width="1.3"/>
<line x1="795.5" y1="618.0" x2="795.5" y2="608.4" stroke="#555" stroke-width="1.1"/>
<line x1="791.5" y1="608.4" x2="799.5" y2="608.4" stroke="#555" stroke-width="1.1"/>
<line x1="791.5" y1="618.0" x2="799.5" y2="618.0" stroke="#555" stroke-width="1.1"/>
<line x1="834.1" y1="643.8" x2="834.1" y2="634.8" stroke="#555" stroke-width="1.1"/>
<line x1="830.1" y1="634.8" x2="838.1" y2="634.8" stroke="#555" stroke-width="1.1"/>
<line x1="830.1" y1="643.8" x2="838.1" y2="643.8" stroke="#555" stroke-width="1.1"/>
<circle cx="795.5" cy="600.0" r="1.9" fill="#fff" stroke="#555" stroke-width="1.0"/>
<circle cx="792.5" cy="604.8" r="1.9" fill="#fff" stroke="#555" stroke-width="1.0"/>
<circle cx="798.5" cy="606.0" r="1.9" fill="#fff" stroke="#555" stroke-width="1.0"/>
<circle cx="795.5" cy="615.0" r="1.9" fill="#fff" stroke="#555" stroke-width="1.0"/>
<circle cx="795.5" cy="624.0" r="1.9" fill="#fff" stroke="#555" stroke-width="1.0"/>
<circle cx="795.5" cy="635.4" r="1.9" fill="#fff" stroke="#555" stroke-width="1.0"/>
<circle cx="831.1" cy="625.2" r="1.9" fill="#fff" stroke="#555" stroke-width="1.0"/>
<circle cx="837.1" cy="625.2" r="1.9" fill="#fff" stroke="#555" stroke-width="1.0"/>
<circle cx="837.1" cy="639.6" r="1.9" fill="#fff" stroke="#555" stroke-width="1.0"/>
<circle cx="831.1" cy="642.0" r="1.9" fill="#fff" stroke="#555" stroke-width="1.0"/>
<circle cx="831.1" cy="650.4" r="1.9" fill="#fff" stroke="#555" stroke-width="1.0"/>
<circle cx="837.1" cy="650.4" r="1.9" fill="#fff" stroke="#555" stroke-width="1.0"/>
<line x1="795.5" y1="673.2" x2="795.5" y2="677.2" stroke="#555" stroke-width="1.1"/>
<line x1="834.1" y1="673.2" x2="834.1" y2="677.2" stroke="#555" stroke-width="1.1"/>
<path d="M796,584.9 L796,580.6 L833.8,580.6 L833.8,584.9" fill="none" stroke="#333" stroke-width="1.1"/>
<text x="814.7" y="583.7" font-size="17" text-anchor="middle" fill="#222" stroke="#222" stroke-width="0.15">**</text>
<text transform="rotate(-90 723.5 626.4)" x="723.5" y="626.4" font-size="14.5" text-anchor="middle" fill="#222">Relative <tspan font-style="italic">Ffar1</tspan></text>
<text x="742.2" y="625.5" font-size="14.5" text-anchor="middle" fill="#282828" stroke="#282828" stroke-width="0.15" transform="rotate(-90 742.2 625.5)">expression</text>
<text x="939.8" y="430.3" font-size="31" text-anchor="start" fill="#111" font-weight="bold">P</text>
<rect x="984.0" y="471.0" width="186.3" height="17.6" fill="#c4c4c4" stroke="#999" stroke-width="0.8"/>
<rect x="984.0" y="490.8" width="186.3" height="17.0" fill="#bdbdbd" stroke="#999" stroke-width="0.8"/>
<rect x="986.4" y="475.2" width="13.0" height="3.6" rx="1.6" fill="#000" opacity="0.75" filter="url(#b06)"/>
<rect x="986.4" y="499.2" width="13.0" height="4.0" rx="1.8" fill="#000" opacity="0.85" filter="url(#b06)"/>
<rect x="1001.5" y="475.7" width="13.0" height="3.6" rx="1.6" fill="#000" opacity="0.75" filter="url(#b06)"/>
<rect x="1001.5" y="499.2" width="13.0" height="4.0" rx="1.8" fill="#000" opacity="0.85" filter="url(#b06)"/>
<rect x="1015.8" y="476.2" width="13.0" height="3.6" rx="1.6" fill="#000" opacity="0.75" filter="url(#b06)"/>
<rect x="1015.8" y="499.2" width="13.0" height="4.0" rx="1.8" fill="#000" opacity="0.85" filter="url(#b06)"/>
<rect x="1030.4" y="476.7" width="13.0" height="3.6" rx="1.6" fill="#000" opacity="0.95" filter="url(#b06)"/>
<rect x="1030.4" y="499.2" width="13.0" height="4.0" rx="1.8" fill="#000" opacity="0.85" filter="url(#b06)"/>
<rect x="1046.1" y="477.2" width="13.0" height="3.6" rx="1.6" fill="#000" opacity="0.90" filter="url(#b06)"/>
<rect x="1046.1" y="499.2" width="13.0" height="4.0" rx="1.8" fill="#000" opacity="0.85" filter="url(#b06)"/>
<rect x="1062.0" y="477.7" width="13.0" height="3.6" rx="1.6" fill="#000" opacity="0.90" filter="url(#b06)"/>
<rect x="1062.0" y="499.2" width="13.0" height="4.0" rx="1.8" fill="#000" opacity="0.85" filter="url(#b06)"/>
<rect x="1077.7" y="478.2" width="13.0" height="3.6" rx="1.6" fill="#000" opacity="0.70" filter="url(#b06)"/>
<rect x="1077.7" y="499.2" width="13.0" height="4.0" rx="1.8" fill="#000" opacity="0.85" filter="url(#b06)"/>
<rect x="1092.3" y="478.7" width="13.0" height="3.6" rx="1.6" fill="#000" opacity="0.70" filter="url(#b06)"/>
<rect x="1092.3" y="499.2" width="13.0" height="4.0" rx="1.8" fill="#000" opacity="0.85" filter="url(#b06)"/>
<rect x="1106.8" y="479.2" width="13.0" height="3.6" rx="1.6" fill="#000" opacity="0.70" filter="url(#b06)"/>
<rect x="1106.8" y="499.2" width="13.0" height="4.0" rx="1.8" fill="#000" opacity="0.85" filter="url(#b06)"/>
<rect x="1122.5" y="479.7" width="13.0" height="3.6" rx="1.6" fill="#000" opacity="0.75" filter="url(#b06)"/>
<rect x="1122.5" y="499.2" width="13.0" height="4.0" rx="1.8" fill="#000" opacity="0.85" filter="url(#b06)"/>
<rect x="1137.6" y="480.2" width="13.0" height="3.6" rx="1.6" fill="#000" opacity="0.80" filter="url(#b06)"/>
<rect x="1137.6" y="499.2" width="13.0" height="4.0" rx="1.8" fill="#000" opacity="0.85" filter="url(#b06)"/>
<rect x="1152.8" y="480.7" width="13.0" height="3.6" rx="1.6" fill="#000" opacity="0.90" filter="url(#b06)"/>
<rect x="1152.8" y="499.2" width="13.0" height="4.0" rx="1.8" fill="#000" opacity="0.85" filter="url(#b06)"/>
<text x="979.0" y="484.4" font-size="11.3" text-anchor="end" fill="#282828" stroke="#282828" stroke-width="0.15">UCP1</text>
<text x="979.0" y="506.4" font-size="11.4" text-anchor="end" fill="#282828" stroke="#282828" stroke-width="0.15">Tubulin</text>
<line x1="1170.3" y1="474.0" x2="1177.0" y2="474.0" stroke="#444" stroke-width="1"/>
<text x="1180.0" y="478.9" font-size="11.5" text-anchor="start" fill="#282828" stroke="#282828" stroke-width="0.15">35</text>
<line x1="1170.3" y1="505.3" x2="1177.0" y2="505.3" stroke="#444" stroke-width="1"/>
<text x="1180.0" y="511.4" font-size="11.5" text-anchor="start" fill="#282828" stroke="#282828" stroke-width="0.15">50</text>
<text x="1172.5" y="465.9" font-size="9" text-anchor="start" fill="#282828" stroke="#282828" stroke-width="0.15">(kDa)</text>
<line x1="988.8" y1="469.6" x2="1027.3" y2="469.6" stroke="#bbb" stroke-width="1.3"/>
<line x1="1035.0" y1="469.6" x2="1072.6" y2="469.6" stroke="#bbb" stroke-width="1.3"/>
<line x1="1081.4" y1="469.6" x2="1119.4" y2="469.6" stroke="#bbb" stroke-width="1.3"/>
<line x1="1128.2" y1="469.6" x2="1166.1" y2="469.6" stroke="#bbb" stroke-width="1.3"/>
<text x="993.5" y="465.5" font-size="12.3" text-anchor="start" fill="#282828" stroke="#282828" stroke-width="0.15" transform="rotate(-31 993.5 465.5)">Control</text>
<text x="1035.0" y="461.9" font-size="12.3" text-anchor="start" fill="#282828" stroke="#282828" stroke-width="0.15" transform="rotate(-31 1035.0 461.9)">10 µM 3-PPA</text>
<text transform="rotate(-31 1090 465.5)" x="1090" y="465.5" font-size="12.3" fill="#222"><tspan font-style="italic">Ffar1</tspan> siRNA</text>
<text transform="rotate(-31 1133 461)" x="1133" y="461" font-size="12.3" fill="#222"><tspan font-style="italic">Ffar1</tspan> siRNA</text>
<text x="1153.0" y="467.4" font-size="12.3" text-anchor="start" fill="#282828" stroke="#282828" stroke-width="0.15" transform="rotate(-31 1153.0 467.4)">+3-PPA</text>
<text x="934.3" y="571.6" font-size="31" text-anchor="start" fill="#111" font-weight="bold">Q</text>
<line x1="995.6" y1="672.8" x2="1127.6" y2="672.8" stroke="#555" stroke-width="1.3"/>
<line x1="995.6" y1="673.3" x2="995.6" y2="585.4" stroke="#555" stroke-width="1.3"/>
<line x1="991.6" y1="672.8" x2="995.6" y2="672.8" stroke="#555" stroke-width="1.3"/>
<text x="990.1" y="677.8" font-size="13.8" text-anchor="end" fill="#282828" stroke="#282828" stroke-width="0.15">0.0</text>
<line x1="991.6" y1="655.3" x2="995.6" y2="655.3" stroke="#555" stroke-width="1.3"/>
<text x="990.1" y="660.3" font-size="13.8" text-anchor="end" fill="#282828" stroke="#282828" stroke-width="0.15">0.5</text>
<line x1="991.6" y1="637.8" x2="995.6" y2="637.8" stroke="#555" stroke-width="1.3"/>
<text x="990.1" y="642.8" font-size="13.8" text-anchor="end" fill="#282828" stroke="#282828" stroke-width="0.15">1.0</text>
<line x1="991.6" y1="620.4" x2="995.6" y2="620.4" stroke="#555" stroke-width="1.3"/>
<text x="990.1" y="625.3" font-size="13.8" text-anchor="end" fill="#282828" stroke="#282828" stroke-width="0.15">1.5</text>
<line x1="991.6" y1="602.9" x2="995.6" y2="602.9" stroke="#555" stroke-width="1.3"/>
<text x="990.1" y="607.8" font-size="13.8" text-anchor="end" fill="#282828" stroke="#282828" stroke-width="0.15">2.0</text>
<line x1="991.6" y1="585.4" x2="995.6" y2="585.4" stroke="#555" stroke-width="1.3"/>
<text x="990.1" y="590.4" font-size="13.8" text-anchor="end" fill="#282828" stroke="#282828" stroke-width="0.15">2.5</text>
<line x1="1061.6" y1="672.8" x2="1061.6" y2="676.8" stroke="#555" stroke-width="1.1"/>
<rect x="1006.6" y="637.8" width="20.1" height="35.0" fill="#ffffff" stroke="#555" stroke-width="1.3"/>
<line x1="1016.7" y1="640.3" x2="1016.7" y2="635.4" stroke="#555" stroke-width="1.1"/>
<line x1="1012.2" y1="635.4" x2="1021.2" y2="635.4" stroke="#555" stroke-width="1.1"/>
<line x1="1012.2" y1="640.3" x2="1021.2" y2="640.3" stroke="#555" stroke-width="1.1"/>
<circle cx="1013.7" cy="633.3" r="1.9" fill="#fff" stroke="#555" stroke-width="1.0"/>
<circle cx="1019.7" cy="633.6" r="1.9" fill="#fff" stroke="#555" stroke-width="1.0"/>
<circle cx="1016.7" cy="644.1" r="1.9" fill="#fff" stroke="#555" stroke-width="1.0"/>
<text x="1016.7" y="628.1" font-size="16" text-anchor="middle" fill="#111" font-weight="bold">a</text>
<rect x="1037.4" y="607.4" width="19.6" height="65.4" fill="#ff0000" stroke="#b00000" stroke-width="1.3"/>
<line x1="1047.2" y1="609.9" x2="1047.2" y2="605.0" stroke="#555" stroke-width="1.1"/>
<line x1="1042.7" y1="605.0" x2="1051.7" y2="605.0" stroke="#555" stroke-width="1.1"/>
<line x1="1042.7" y1="609.9" x2="1051.7" y2="609.9" stroke="#555" stroke-width="1.1"/>
<circle cx="1047.2" cy="603.6" r="1.9" fill="#fff" stroke="#555" stroke-width="1.0"/>
<circle cx="1047.2" cy="606.4" r="1.9" fill="#fff" stroke="#555" stroke-width="1.0"/>
<circle cx="1047.2" cy="612.3" r="1.9" fill="#fff" stroke="#555" stroke-width="1.0"/>
<text x="1047.2" y="598.3" font-size="16" text-anchor="middle" fill="#111" font-weight="bold">b</text>
<rect x="1067.7" y="628.4" width="19.5" height="44.4" fill="#b3b3b3" stroke="#666" stroke-width="1.3"/>
<line x1="1077.5" y1="629.8" x2="1077.5" y2="627.0" stroke="#555" stroke-width="1.1"/>
<line x1="1073.0" y1="627.0" x2="1082.0" y2="627.0" stroke="#555" stroke-width="1.1"/>
<line x1="1073.0" y1="629.8" x2="1082.0" y2="629.8" stroke="#555" stroke-width="1.1"/>
<circle cx="1077.5" cy="625.6" r="1.9" fill="#fff" stroke="#555" stroke-width="1.0"/>
<circle cx="1074.5" cy="628.8" r="1.9" fill="#fff" stroke="#555" stroke-width="1.0"/>
<circle cx="1080.5" cy="629.4" r="1.9" fill="#fff" stroke="#555" stroke-width="1.0"/>
<text x="1077.5" y="620.4" font-size="16" text-anchor="middle" fill="#111" font-weight="bold">a</text>
<rect x="1098.2" y="628.1" width="19.8" height="44.7" fill="#6666ff" stroke="#2a2a90" stroke-width="1.3"/>
<line x1="1108.1" y1="633.3" x2="1108.1" y2="622.8" stroke="#555" stroke-width="1.1"/>
<line x1="1103.6" y1="622.8" x2="1112.6" y2="622.8" stroke="#555" stroke-width="1.1"/>
<line x1="1103.6" y1="633.3" x2="1112.6" y2="633.3" stroke="#555" stroke-width="1.1"/>
<circle cx="1108.1" cy="621.4" r="1.9" fill="#fff" stroke="#555" stroke-width="1.0"/>
<circle cx="1108.1" cy="623.5" r="1.9" fill="#fff" stroke="#555" stroke-width="1.0"/>
<circle cx="1108.1" cy="637.1" r="1.9" fill="#fff" stroke="#555" stroke-width="1.0"/>
<text x="1108.1" y="616.2" font-size="16" text-anchor="middle" fill="#111" font-weight="bold">a</text>
<rect x="1130.4" y="585.8" width="9.1" height="9.1" fill="#ffffff" stroke="#555" stroke-width="1.2"/>
<text x="1145.5" y="594.7" font-size="12.1" text-anchor="start" fill="#282828" stroke="#282828" stroke-width="0.15">Control</text>
<rect x="1130.4" y="601.8" width="9.1" height="9.1" fill="#ff0000" stroke="#b00000" stroke-width="1.2"/>
<text x="1145.5" y="610.7" font-size="12.1" text-anchor="start" fill="#282828" stroke="#282828" stroke-width="0.15">10 µM 3-PPA</text>
<rect x="1130.4" y="618.0" width="9.1" height="9.1" fill="#b3b3b3" stroke="#666" stroke-width="1.2"/>
<text x="1145.5" y="626.9" font-size="12.1" text-anchor="start" fill="#282828" stroke="#282828" stroke-width="0.15"><tspan font-style="italic">Ffar1</tspan> siRNA</text>
<rect x="1130.4" y="635.1" width="9.1" height="9.1" fill="#6666ff" stroke="#2a2a90" stroke-width="1.2"/>
<text x="1145.5" y="644.0" font-size="12.1" text-anchor="start" fill="#282828" stroke="#282828" stroke-width="0.15"><tspan font-style="italic">Ffar1</tspan> siRNA+3-PPA</text>
<text x="949.9" y="629.4" font-size="14.1" text-anchor="middle" fill="#282828" stroke="#282828" stroke-width="0.15" transform="rotate(-90 949.9 629.4)">Relative UCP1</text>
<text x="966.4" y="629.4" font-size="14.3" text-anchor="middle" fill="#282828" stroke="#282828" stroke-width="0.15" transform="rotate(-90 966.4 629.4)">expression</text>
<text x="378.2" y="430.7" font-size="31" text-anchor="start" fill="#111" font-weight="bold">M</text>
<rect x="410.5" y="445.0" width="243.5" height="236.0" fill="#e6e6e6" stroke="none" stroke-width="1"/>
<rect x="411.7" y="446.3" width="58.8" height="57.0" fill="#000" stroke="none" stroke-width="1"/>
<g clip-path="url(#mclip00)"><g filter="url(#mblur)">
<rect x="411.7" y="446.3" width="58.8" height="57" fill="#062806" opacity="0.2"/>
<circle cx="449.7" cy="454.5" r="6.0" fill="#16c116"/>
<circle cx="450.4" cy="456.3" r="1.5" fill="#000" opacity="0.8"/>
<circle cx="451.8" cy="450.9" r="1.0" fill="#000" opacity="0.8"/>
<circle cx="449.2" cy="457.9" r="1.4" fill="#000" opacity="0.8"/>
<circle cx="450.1" cy="458.0" r="1.6" fill="#000" opacity="0.8"/>
<circle cx="451.8" cy="451.4" r="1.6" fill="#000" opacity="0.8"/>
<circle cx="466.4" cy="460.0" r="5.4" fill="#16c116"/>
<circle cx="464.3" cy="461.2" r="1.1" fill="#000" opacity="0.8"/>
<circle cx="469.0" cy="462.4" r="1.5" fill="#000" opacity="0.8"/>
<circle cx="466.1" cy="462.2" r="1.0" fill="#000" opacity="0.8"/>
<circle cx="468.8" cy="460.6" r="1.5" fill="#000" opacity="0.8"/>
<circle cx="426.4" cy="464.9" r="5.4" fill="#15b615"/>
<circle cx="428.3" cy="466.4" r="1.1" fill="#000" opacity="0.8"/>
<circle cx="424.6" cy="463.6" r="1.7" fill="#000" opacity="0.8"/>
<circle cx="426.8" cy="461.4" r="1.4" fill="#000" opacity="0.8"/>
<circle cx="424.3" cy="467.1" r="1.0" fill="#000" opacity="0.8"/>
<circle cx="451.7" cy="468.8" r="6.6" fill="#14ac14"/>
<circle cx="448.8" cy="469.5" r="1.4" fill="#000" opacity="0.8"/>
<circle cx="454.7" cy="470.7" r="1.3" fill="#000" opacity="0.8"/>
<circle cx="454.2" cy="468.2" r="1.0" fill="#000" opacity="0.8"/>
<circle cx="448.1" cy="470.3" r="0.9" fill="#000" opacity="0.8"/>
<circle cx="451.0" cy="466.9" r="1.2" fill="#000" opacity="0.8"/>
<circle cx="448.3" cy="471.8" r="1.3" fill="#000" opacity="0.8"/>
<circle cx="439.1" cy="478.3" r="6.0" fill="#15b615"/>
<circle cx="438.7" cy="482.5" r="1.0" fill="#000" opacity="0.8"/>
<circle cx="438.1" cy="475.5" r="1.1" fill="#000" opacity="0.8"/>
<circle cx="435.0" cy="478.2" r="1.0" fill="#000" opacity="0.8"/>
<circle cx="437.7" cy="482.1" r="1.5" fill="#000" opacity="0.8"/>
<circle cx="436.2" cy="477.0" r="1.2" fill="#000" opacity="0.8"/>
<circle cx="432.2" cy="488.3" r="6.6" fill="#15b615"/>
<circle cx="430.2" cy="492.4" r="1.1" fill="#000" opacity="0.8"/>
<circle cx="432.4" cy="484.1" r="1.5" fill="#000" opacity="0.8"/>
<circle cx="428.0" cy="488.0" r="1.6" fill="#000" opacity="0.8"/>
<circle cx="434.5" cy="491.3" r="1.6" fill="#000" opacity="0.8"/>
<circle cx="430.6" cy="488.1" r="1.6" fill="#000" opacity="0.8"/>
<circle cx="430.5" cy="490.6" r="1.2" fill="#000" opacity="0.8"/>
<circle cx="449.7" cy="489.3" r="6.0" fill="#15b615"/>
<circle cx="450.0" cy="490.2" r="1.2" fill="#000" opacity="0.8"/>
<circle cx="447.9" cy="487.4" r="1.5" fill="#000" opacity="0.8"/>
<circle cx="450.5" cy="487.6" r="1.3" fill="#000" opacity="0.8"/>
<circle cx="450.9" cy="489.0" r="1.4" fill="#000" opacity="0.8"/>
<circle cx="450.5" cy="489.2" r="1.3" fill="#000" opacity="0.8"/>
<circle cx="461.7" cy="498.3" r="4.2" fill="#0c6b0c"/>
<circle cx="460.5" cy="496.5" r="1.3" fill="#000" opacity="0.8"/>
<circle cx="464.4" cy="497.9" r="1.6" fill="#000" opacity="0.8"/>
<circle cx="419.7" cy="496.3" r="3.6" fill="#074007"/>
<circle cx="418.6" cy="495.9" r="1.0" fill="#000" opacity="0.8"/>
<circle cx="418.2" cy="495.3" r="1.5" fill="#000" opacity="0.8"/>
<circle cx="442.7" cy="468.3" r="3.6" fill="#084b08"/>
<circle cx="441.4" cy="468.7" r="1.2" fill="#000" opacity="0.8"/>
<circle cx="442.5" cy="470.2" r="1.4" fill="#000" opacity="0.8"/>
<circle cx="421.7" cy="451.3" r="3.6" fill="#052b05"/>
<circle cx="422.0" cy="449.4" r="1.0" fill="#000" opacity="0.8"/>
<circle cx="420.9" cy="452.6" r="1.5" fill="#000" opacity="0.8"/>
</g></g>
<line x1="453.5" y1="500.8" x2="466.5" y2="500.8" stroke="#fff" stroke-width="1"/>
<text x="460.0" y="499.3" font-size="4.6" text-anchor="middle" fill="#e8e8e8" font-family="Liberation Serif" font-weight="bold">25 µm</text>
<rect x="472.7" y="446.3" width="58.9" height="57.0" fill="#000" stroke="none" stroke-width="1"/>
<g clip-path="url(#mclip01)"><g filter="url(#mblur)">
<rect x="472.7" y="446.3" width="58.8" height="57" fill="#200303" opacity="0.3"/>
<circle cx="510.7" cy="454.5" r="6.0" fill="#b4100c"/>
<circle cx="511.4" cy="456.3" r="1.5" fill="#000" opacity="0.8"/>
<circle cx="512.8" cy="450.9" r="1.0" fill="#000" opacity="0.8"/>
<circle cx="510.2" cy="457.9" r="1.4" fill="#000" opacity="0.8"/>
<circle cx="511.1" cy="458.0" r="1.6" fill="#000" opacity="0.8"/>
<circle cx="512.8" cy="451.4" r="1.6" fill="#000" opacity="0.8"/>
<circle cx="527.4" cy="460.0" r="5.4" fill="#ca120d"/>
<circle cx="525.3" cy="461.2" r="1.1" fill="#000" opacity="0.8"/>
<circle cx="530.0" cy="462.4" r="1.5" fill="#000" opacity="0.8"/>
<circle cx="527.1" cy="462.2" r="1.0" fill="#000" opacity="0.8"/>
<circle cx="529.8" cy="460.6" r="1.5" fill="#000" opacity="0.8"/>
<circle cx="487.4" cy="464.9" r="5.4" fill="#9d0e0a"/>
<circle cx="489.3" cy="466.4" r="1.1" fill="#000" opacity="0.8"/>
<circle cx="485.6" cy="463.6" r="1.7" fill="#000" opacity="0.8"/>
<circle cx="487.8" cy="461.4" r="1.4" fill="#000" opacity="0.8"/>
<circle cx="485.3" cy="467.1" r="1.0" fill="#000" opacity="0.8"/>
<circle cx="512.7" cy="468.8" r="6.6" fill="#a80f0b"/>
<circle cx="509.8" cy="469.5" r="1.4" fill="#000" opacity="0.8"/>
<circle cx="515.7" cy="470.7" r="1.3" fill="#000" opacity="0.8"/>
<circle cx="515.2" cy="468.2" r="1.0" fill="#000" opacity="0.8"/>
<circle cx="509.1" cy="470.3" r="0.9" fill="#000" opacity="0.8"/>
<circle cx="512.0" cy="466.9" r="1.2" fill="#000" opacity="0.8"/>
<circle cx="509.3" cy="471.8" r="1.3" fill="#000" opacity="0.8"/>
<circle cx="500.1" cy="478.3" r="6.0" fill="#9d0e0a"/>
<circle cx="499.7" cy="482.5" r="1.0" fill="#000" opacity="0.8"/>
<circle cx="499.1" cy="475.5" r="1.1" fill="#000" opacity="0.8"/>
<circle cx="496.0" cy="478.2" r="1.0" fill="#000" opacity="0.8"/>
<circle cx="498.7" cy="482.1" r="1.5" fill="#000" opacity="0.8"/>
<circle cx="497.2" cy="477.0" r="1.2" fill="#000" opacity="0.8"/>
<circle cx="493.2" cy="488.3" r="6.6" fill="#9d0e0a"/>
<circle cx="491.2" cy="492.4" r="1.1" fill="#000" opacity="0.8"/>
<circle cx="493.4" cy="484.1" r="1.5" fill="#000" opacity="0.8"/>
<circle cx="489.0" cy="488.0" r="1.6" fill="#000" opacity="0.8"/>
<circle cx="495.5" cy="491.3" r="1.6" fill="#000" opacity="0.8"/>
<circle cx="491.6" cy="488.1" r="1.6" fill="#000" opacity="0.8"/>
<circle cx="491.5" cy="490.6" r="1.2" fill="#000" opacity="0.8"/>
<circle cx="510.7" cy="489.3" r="6.0" fill="#a80f0b"/>
<circle cx="511.0" cy="490.2" r="1.2" fill="#000" opacity="0.8"/>
<circle cx="508.9" cy="487.4" r="1.5" fill="#000" opacity="0.8"/>
<circle cx="511.5" cy="487.6" r="1.3" fill="#000" opacity="0.8"/>
<circle cx="511.9" cy="489.0" r="1.4" fill="#000" opacity="0.8"/>
<circle cx="511.5" cy="489.2" r="1.3" fill="#000" opacity="0.8"/>
<circle cx="522.7" cy="498.3" r="4.2" fill="#700a07"/>
<circle cx="521.5" cy="496.5" r="1.3" fill="#000" opacity="0.8"/>
<circle cx="525.4" cy="497.9" r="1.6" fill="#000" opacity="0.8"/>
<circle cx="480.7" cy="496.3" r="3.6" fill="#2d0403"/>
<circle cx="479.6" cy="495.9" r="1.0" fill="#000" opacity="0.8"/>
<circle cx="479.2" cy="495.3" r="1.5" fill="#000" opacity="0.8"/>
<circle cx="503.7" cy="468.3" r="3.6" fill="#160201"/>
<circle cx="502.4" cy="468.7" r="1.2" fill="#000" opacity="0.8"/>
<circle cx="503.5" cy="470.2" r="1.4" fill="#000" opacity="0.8"/>
</g></g>
<line x1="514.6" y1="500.8" x2="527.6" y2="500.8" stroke="#fff" stroke-width="1"/>
<text x="521.1" y="499.3" font-size="4.6" text-anchor="middle" fill="#e8e8e8" font-family="Liberation Serif" font-weight="bold">25 µm</text>
<rect x="533.1" y="446.3" width="58.9" height="57.0" fill="#000" stroke="none" stroke-width="1"/>
<g clip-path="url(#mclip02)"><g filter="url(#mblur)">
<rect x="533.1" y="446.3" width="58.8" height="57" fill="#00000c"/>
<circle cx="542.4" cy="472.3" r="1.9" fill="#1e1eff"/>
<circle cx="574.2" cy="487.6" r="1.7" fill="#1e1eff"/>
<circle cx="579.5" cy="476.6" r="1.5" fill="#1e1eff"/>
<circle cx="560.0" cy="449.9" r="2.1" fill="#1e1eff"/>
<circle cx="587.9" cy="465.7" r="1.6" fill="#1e1eff"/>
<circle cx="577.7" cy="458.5" r="1.5" fill="#1e1eff"/>
<circle cx="544.8" cy="466.4" r="1.8" fill="#1e1eff"/>
<circle cx="588.8" cy="458.9" r="2.1" fill="#1e1eff"/>
<circle cx="565.6" cy="496.9" r="2.0" fill="#1e1eff"/>
<circle cx="543.2" cy="483.0" r="1.5" fill="#1e1eff"/>
<circle cx="534.4" cy="469.1" r="1.9" fill="#1e1eff"/>
<circle cx="566.3" cy="457.9" r="2.0" fill="#1e1eff"/>
<circle cx="586.0" cy="460.3" r="1.7" fill="#1e1eff"/>
<circle cx="570.3" cy="496.9" r="1.5" fill="#1e1eff"/>
<circle cx="565.6" cy="500.6" r="1.8" fill="#1e1eff"/>
<circle cx="574.8" cy="489.9" r="1.8" fill="#1e1eff"/>
<circle cx="550.6" cy="479.8" r="1.8" fill="#1e1eff"/>
<circle cx="553.6" cy="494.3" r="1.7" fill="#1e1eff"/>
<circle cx="561.6" cy="489.2" r="2.0" fill="#1e1eff"/>
<circle cx="584.7" cy="483.1" r="1.6" fill="#1e1eff"/>
<circle cx="582.2" cy="497.3" r="1.9" fill="#1e1eff"/>
<circle cx="577.7" cy="475.5" r="1.7" fill="#1e1eff"/>
<circle cx="567.2" cy="455.4" r="1.9" fill="#1e1eff"/>
<circle cx="583.0" cy="456.4" r="1.9" fill="#1e1eff"/>
<circle cx="574.2" cy="454.0" r="1.4" fill="#1e1eff"/>
<circle cx="567.9" cy="459.4" r="1.6" fill="#1e1eff"/>
<circle cx="569.4" cy="483.1" r="1.9" fill="#1e1eff"/>
<circle cx="566.4" cy="465.7" r="1.4" fill="#1e1eff"/>
<circle cx="540.6" cy="457.9" r="1.8" fill="#1e1eff"/>
<circle cx="575.0" cy="458.8" r="1.7" fill="#1e1eff"/>
<circle cx="587.3" cy="469.3" r="1.9" fill="#1e1eff"/>
<circle cx="569.2" cy="483.6" r="1.7" fill="#1e1eff"/>
<circle cx="565.1" cy="485.8" r="1.5" fill="#1e1eff"/>
<circle cx="579.5" cy="495.3" r="1.4" fill="#1e1eff"/>
<circle cx="545.4" cy="461.0" r="1.5" fill="#1e1eff"/>
<circle cx="542.1" cy="482.6" r="1.5" fill="#1e1eff"/>
<circle cx="537.9" cy="499.3" r="1.7" fill="#1e1eff"/>
<circle cx="564.8" cy="473.4" r="1.6" fill="#1e1eff"/>
</g></g>
<line x1="575.0" y1="500.8" x2="588.0" y2="500.8" stroke="#fff" stroke-width="1"/>
<text x="581.5" y="499.3" font-size="4.6" text-anchor="middle" fill="#e8e8e8" font-family="Liberation Serif" font-weight="bold">25 µm</text>
<rect x="593.9" y="446.3" width="58.8" height="57.0" fill="#000" stroke="none" stroke-width="1"/>
<g clip-path="url(#mclip03)"><g filter="url(#mblur)">
<rect x="593.9" y="446.3" width="58.8" height="57" fill="#041804" opacity="0.4"/>
<circle cx="631.9" cy="454.5" r="6.0" fill="#bec00c"/>
<circle cx="632.6" cy="456.3" r="1.5" fill="#000" opacity="0.8"/>
<circle cx="634.0" cy="450.9" r="1.0" fill="#000" opacity="0.8"/>
<circle cx="631.4" cy="457.9" r="1.4" fill="#000" opacity="0.8"/>
<circle cx="632.3" cy="458.0" r="1.6" fill="#000" opacity="0.8"/>
<circle cx="634.0" cy="451.4" r="1.6" fill="#000" opacity="0.8"/>
<circle cx="648.6" cy="460.0" r="5.4" fill="#d3c10c"/>
<circle cx="646.5" cy="461.2" r="1.1" fill="#000" opacity="0.8"/>
<circle cx="651.2" cy="462.4" r="1.5" fill="#000" opacity="0.8"/>
<circle cx="648.3" cy="462.2" r="1.0" fill="#000" opacity="0.8"/>
<circle cx="651.0" cy="460.6" r="1.5" fill="#000" opacity="0.8"/>
<circle cx="608.6" cy="464.9" r="5.4" fill="#a7b50c"/>
<circle cx="610.5" cy="466.4" r="1.1" fill="#000" opacity="0.8"/>
<circle cx="606.8" cy="463.6" r="1.7" fill="#000" opacity="0.8"/>
<circle cx="609.0" cy="461.4" r="1.4" fill="#000" opacity="0.8"/>
<circle cx="606.5" cy="467.1" r="1.0" fill="#000" opacity="0.8"/>
<circle cx="633.9" cy="468.8" r="6.6" fill="#b1ab0c"/>
<circle cx="631.0" cy="469.5" r="1.4" fill="#000" opacity="0.8"/>
<circle cx="636.9" cy="470.7" r="1.3" fill="#000" opacity="0.8"/>
<circle cx="636.4" cy="468.2" r="1.0" fill="#000" opacity="0.8"/>
<circle cx="630.3" cy="470.3" r="0.9" fill="#000" opacity="0.8"/>
<circle cx="633.2" cy="466.9" r="1.2" fill="#000" opacity="0.8"/>
<circle cx="630.5" cy="471.8" r="1.3" fill="#000" opacity="0.8"/>
<circle cx="621.3" cy="478.3" r="6.0" fill="#a7b50c"/>
<circle cx="620.9" cy="482.5" r="1.0" fill="#000" opacity="0.8"/>
<circle cx="620.3" cy="475.5" r="1.1" fill="#000" opacity="0.8"/>
<circle cx="617.2" cy="478.2" r="1.0" fill="#000" opacity="0.8"/>
<circle cx="619.9" cy="482.1" r="1.5" fill="#000" opacity="0.8"/>
<circle cx="618.4" cy="477.0" r="1.2" fill="#000" opacity="0.8"/>
<circle cx="614.4" cy="488.3" r="6.6" fill="#a7b50c"/>
<circle cx="612.4" cy="492.4" r="1.1" fill="#000" opacity="0.8"/>
<circle cx="614.6" cy="484.1" r="1.5" fill="#000" opacity="0.8"/>
<circle cx="610.2" cy="488.0" r="1.6" fill="#000" opacity="0.8"/>
<circle cx="616.7" cy="491.3" r="1.6" fill="#000" opacity="0.8"/>
<circle cx="612.8" cy="488.1" r="1.6" fill="#000" opacity="0.8"/>
<circle cx="612.7" cy="490.6" r="1.2" fill="#000" opacity="0.8"/>
<circle cx="631.9" cy="489.3" r="6.0" fill="#b2b50c"/>
<circle cx="632.2" cy="490.2" r="1.2" fill="#000" opacity="0.8"/>
<circle cx="630.1" cy="487.4" r="1.5" fill="#000" opacity="0.8"/>
<circle cx="632.7" cy="487.6" r="1.3" fill="#000" opacity="0.8"/>
<circle cx="633.1" cy="489.0" r="1.4" fill="#000" opacity="0.8"/>
<circle cx="632.7" cy="489.2" r="1.3" fill="#000" opacity="0.8"/>
<circle cx="643.9" cy="498.3" r="4.2" fill="#756b0c"/>
<circle cx="642.7" cy="496.5" r="1.3" fill="#000" opacity="0.8"/>
<circle cx="646.6" cy="497.9" r="1.6" fill="#000" opacity="0.8"/>
<circle cx="601.9" cy="496.3" r="3.6" fill="#313f0c"/>
<circle cx="600.8" cy="495.9" r="1.0" fill="#000" opacity="0.8"/>
<circle cx="600.4" cy="495.3" r="1.5" fill="#000" opacity="0.8"/>
<circle cx="624.9" cy="468.3" r="3.6" fill="#1c480c"/>
<circle cx="623.6" cy="468.7" r="1.2" fill="#000" opacity="0.8"/>
<circle cx="624.7" cy="470.2" r="1.4" fill="#000" opacity="0.8"/>
<circle cx="603.9" cy="451.3" r="3.6" fill="#04290c"/>
<circle cx="604.2" cy="449.4" r="1.0" fill="#000" opacity="0.8"/>
<circle cx="603.1" cy="452.6" r="1.5" fill="#000" opacity="0.8"/>
<circle cx="603.2" cy="472.3" r="2.1" fill="#3a80ff" opacity="0.9"/>
<circle cx="635.0" cy="487.6" r="1.9" fill="#3a80ff" opacity="0.9"/>
<circle cx="640.3" cy="476.6" r="1.7" fill="#3a80ff" opacity="0.9"/>
<circle cx="620.8" cy="449.9" r="2.3" fill="#3a80ff" opacity="0.9"/>
<circle cx="648.7" cy="465.7" r="1.8" fill="#3a80ff" opacity="0.9"/>
<circle cx="638.5" cy="458.5" r="1.7" fill="#3a80ff" opacity="0.9"/>
<circle cx="605.6" cy="466.4" r="2.0" fill="#3a80ff" opacity="0.9"/>
<circle cx="649.6" cy="458.9" r="2.3" fill="#3a80ff" opacity="0.9"/>
<circle cx="626.4" cy="496.9" r="2.2" fill="#3a80ff" opacity="0.9"/>
<circle cx="604.0" cy="483.0" r="1.7" fill="#3a80ff" opacity="0.9"/>
<circle cx="595.2" cy="469.1" r="2.1" fill="#3a80ff" opacity="0.9"/>
<circle cx="627.1" cy="457.9" r="2.2" fill="#3a80ff" opacity="0.9"/>
<circle cx="646.8" cy="460.3" r="1.9" fill="#3a80ff" opacity="0.9"/>
<circle cx="631.1" cy="496.9" r="1.7" fill="#3a80ff" opacity="0.9"/>
<circle cx="626.4" cy="500.6" r="2.0" fill="#3a80ff" opacity="0.9"/>
<circle cx="635.6" cy="489.9" r="2.0" fill="#3a80ff" opacity="0.9"/>
<circle cx="611.4" cy="479.8" r="2.0" fill="#3a80ff" opacity="0.9"/>
<circle cx="614.4" cy="494.3" r="1.9" fill="#3a80ff" opacity="0.9"/>
<circle cx="622.4" cy="489.2" r="2.2" fill="#3a80ff" opacity="0.9"/>
<circle cx="645.5" cy="483.1" r="1.8" fill="#3a80ff" opacity="0.9"/>
<circle cx="643.0" cy="497.3" r="2.1" fill="#3a80ff" opacity="0.9"/>
<circle cx="638.5" cy="475.5" r="1.9" fill="#3a80ff" opacity="0.9"/>
<circle cx="628.0" cy="455.4" r="2.1" fill="#3a80ff" opacity="0.9"/>
<circle cx="643.8" cy="456.4" r="2.1" fill="#3a80ff" opacity="0.9"/>
<circle cx="635.0" cy="454.0" r="1.6" fill="#3a80ff" opacity="0.9"/>
<circle cx="628.7" cy="459.4" r="1.8" fill="#3a80ff" opacity="0.9"/>
<circle cx="630.2" cy="483.1" r="2.1" fill="#3a80ff" opacity="0.9"/>
<circle cx="627.2" cy="465.7" r="1.6" fill="#3a80ff" opacity="0.9"/>
<circle cx="601.4" cy="457.9" r="2.0" fill="#3a80ff" opacity="0.9"/>
<circle cx="635.8" cy="458.8" r="1.9" fill="#3a80ff" opacity="0.9"/>
<circle cx="648.1" cy="469.3" r="2.1" fill="#3a80ff" opacity="0.9"/>
<circle cx="630.0" cy="483.6" r="1.9" fill="#3a80ff" opacity="0.9"/>
<circle cx="625.9" cy="485.8" r="1.7" fill="#3a80ff" opacity="0.9"/>
<circle cx="640.3" cy="495.3" r="1.6" fill="#3a80ff" opacity="0.9"/>
<circle cx="606.2" cy="461.0" r="1.7" fill="#3a80ff" opacity="0.9"/>
<circle cx="602.9" cy="482.6" r="1.7" fill="#3a80ff" opacity="0.9"/>
<circle cx="598.7" cy="499.3" r="1.9" fill="#3a80ff" opacity="0.9"/>
<circle cx="625.6" cy="473.4" r="1.8" fill="#3a80ff" opacity="0.9"/>
</g></g>
<line x1="635.7" y1="500.8" x2="648.7" y2="500.8" stroke="#fff" stroke-width="1"/>
<text x="642.2" y="499.3" font-size="4.6" text-anchor="middle" fill="#e8e8e8" font-family="Liberation Serif" font-weight="bold">25 µm</text>
<rect x="411.7" y="504.9" width="58.8" height="57.0" fill="#000" stroke="none" stroke-width="1"/>
<g clip-path="url(#mclip10)"><g filter="url(#mblur)">
<rect x="411.7" y="504.9" width="58.8" height="57" fill="#062806" opacity="0.5"/>
<circle cx="426.7" cy="506.6" r="4.6" fill="#16c016"/>
<circle cx="425.6" cy="504.6" r="1.4" fill="#000" opacity="0.8"/>
<circle cx="426.8" cy="505.0" r="1.6" fill="#000" opacity="0.8"/>
<circle cx="429.1" cy="505.0" r="1.4" fill="#000" opacity="0.8"/>
<circle cx="433.3" cy="506.5" r="4.6" fill="#0f810f"/>
<circle cx="432.3" cy="507.4" r="1.3" fill="#000" opacity="0.8"/>
<circle cx="435.1" cy="504.6" r="1.5" fill="#000" opacity="0.8"/>
<circle cx="431.4" cy="508.8" r="0.9" fill="#000" opacity="0.8"/>
<circle cx="439.9" cy="505.2" r="4.3" fill="#0f840f"/>
<circle cx="441.1" cy="505.7" r="1.3" fill="#000" opacity="0.8"/>
<circle cx="442.0" cy="504.0" r="1.1" fill="#000" opacity="0.8"/>
<circle cx="448.4" cy="506.0" r="5.0" fill="#0d780d"/>
<circle cx="446.8" cy="509.1" r="1.2" fill="#000" opacity="0.8"/>
<circle cx="445.6" cy="505.5" r="1.2" fill="#000" opacity="0.8"/>
<circle cx="446.1" cy="504.1" r="1.1" fill="#000" opacity="0.8"/>
<circle cx="454.2" cy="503.4" r="5.0" fill="#0e7e0e"/>
<circle cx="455.2" cy="500.8" r="1.5" fill="#000" opacity="0.8"/>
<circle cx="452.4" cy="502.1" r="1.1" fill="#000" opacity="0.8"/>
<circle cx="453.5" cy="506.0" r="1.1" fill="#000" opacity="0.8"/>
<circle cx="459.6" cy="506.8" r="4.3" fill="#16c216"/>
<circle cx="457.5" cy="508.7" r="1.4" fill="#000" opacity="0.8"/>
<circle cx="459.8" cy="505.7" r="1.7" fill="#000" opacity="0.8"/>
<circle cx="467.9" cy="505.6" r="5.1" fill="#13a913"/>
<circle cx="470.5" cy="503.9" r="1.5" fill="#000" opacity="0.8"/>
<circle cx="469.7" cy="506.1" r="1.4" fill="#000" opacity="0.8"/>
<circle cx="469.4" cy="506.5" r="1.2" fill="#000" opacity="0.8"/>
<circle cx="467.2" cy="503.4" r="1.2" fill="#000" opacity="0.8"/>
<circle cx="476.6" cy="506.5" r="4.4" fill="#0e7a0e"/>
<circle cx="477.1" cy="506.8" r="0.9" fill="#000" opacity="0.8"/>
<circle cx="478.6" cy="507.5" r="1.6" fill="#000" opacity="0.8"/>
<circle cx="478.6" cy="508.0" r="0.9" fill="#000" opacity="0.8"/>
<circle cx="421.4" cy="512.3" r="4.8" fill="#108a10"/>
<circle cx="423.3" cy="512.9" r="1.6" fill="#000" opacity="0.8"/>
<circle cx="422.0" cy="509.7" r="1.0" fill="#000" opacity="0.8"/>
<circle cx="419.0" cy="514.3" r="0.9" fill="#000" opacity="0.8"/>
<circle cx="428.4" cy="513.2" r="4.4" fill="#119611"/>
<circle cx="431.2" cy="514.0" r="1.3" fill="#000" opacity="0.8"/>
<circle cx="427.5" cy="514.0" r="1.0" fill="#000" opacity="0.8"/>
<circle cx="437.0" cy="510.1" r="4.0" fill="#14af14"/>
<circle cx="436.1" cy="507.5" r="1.0" fill="#000" opacity="0.8"/>
<circle cx="437.5" cy="507.5" r="1.1" fill="#000" opacity="0.8"/>
<circle cx="444.6" cy="510.0" r="4.4" fill="#129f12"/>
<circle cx="442.5" cy="510.8" r="1.5" fill="#000" opacity="0.8"/>
<circle cx="444.4" cy="510.9" r="1.5" fill="#000" opacity="0.8"/>
<circle cx="445.1" cy="511.9" r="1.1" fill="#000" opacity="0.8"/>
<circle cx="448.2" cy="510.1" r="5.1" fill="#0e7d0e"/>
<circle cx="448.8" cy="513.4" r="1.7" fill="#000" opacity="0.8"/>
<circle cx="445.8" cy="507.5" r="1.4" fill="#000" opacity="0.8"/>
<circle cx="447.6" cy="510.1" r="1.0" fill="#000" opacity="0.8"/>
<circle cx="448.0" cy="511.6" r="1.0" fill="#000" opacity="0.8"/>
<circle cx="458.2" cy="513.6" r="4.4" fill="#108b10"/>
<circle cx="457.7" cy="515.9" r="1.6" fill="#000" opacity="0.8"/>
<circle cx="457.7" cy="513.0" r="1.5" fill="#000" opacity="0.8"/>
<circle cx="464.3" cy="513.0" r="4.9" fill="#14b314"/>
<circle cx="462.7" cy="513.4" r="1.7" fill="#000" opacity="0.8"/>
<circle cx="463.9" cy="514.4" r="1.7" fill="#000" opacity="0.8"/>
<circle cx="463.9" cy="511.6" r="1.1" fill="#000" opacity="0.8"/>
<circle cx="472.6" cy="510.0" r="4.1" fill="#108a10"/>
<circle cx="473.2" cy="507.6" r="1.4" fill="#000" opacity="0.8"/>
<circle cx="471.9" cy="509.9" r="1.0" fill="#000" opacity="0.8"/>
<circle cx="478.6" cy="513.6" r="5.1" fill="#129c12"/>
<circle cx="480.7" cy="512.2" r="1.6" fill="#000" opacity="0.8"/>
<circle cx="479.0" cy="513.0" r="1.7" fill="#000" opacity="0.8"/>
<circle cx="480.4" cy="514.4" r="1.0" fill="#000" opacity="0.8"/>
<circle cx="479.8" cy="516.7" r="1.6" fill="#000" opacity="0.8"/>
<circle cx="410.9" cy="518.2" r="4.1" fill="#0e780e"/>
<circle cx="408.8" cy="516.7" r="1.2" fill="#000" opacity="0.8"/>
<circle cx="409.7" cy="516.7" r="1.5" fill="#000" opacity="0.8"/>
<circle cx="419.5" cy="520.9" r="4.1" fill="#16c416"/>
<circle cx="419.6" cy="520.9" r="1.1" fill="#000" opacity="0.8"/>
<circle cx="422.1" cy="519.8" r="1.2" fill="#000" opacity="0.8"/>
<circle cx="425.8" cy="518.5" r="4.7" fill="#15b615"/>
<circle cx="424.7" cy="518.0" r="1.6" fill="#000" opacity="0.8"/>
<circle cx="427.2" cy="519.4" r="1.2" fill="#000" opacity="0.8"/>
<circle cx="424.3" cy="520.2" r="1.5" fill="#000" opacity="0.8"/>
<circle cx="432.5" cy="518.6" r="4.0" fill="#119811"/>
<circle cx="433.9" cy="516.4" r="1.1" fill="#000" opacity="0.8"/>
<circle cx="435.2" cy="518.2" r="1.6" fill="#000" opacity="0.8"/>
<circle cx="441.1" cy="517.4" r="4.8" fill="#14b214"/>
<circle cx="441.9" cy="517.9" r="1.0" fill="#000" opacity="0.8"/>
<circle cx="441.5" cy="519.0" r="0.9" fill="#000" opacity="0.8"/>
<circle cx="439.6" cy="516.4" r="1.2" fill="#000" opacity="0.8"/>
<circle cx="445.1" cy="518.6" r="4.4" fill="#119411"/>
<circle cx="444.8" cy="520.0" r="1.0" fill="#000" opacity="0.8"/>
<circle cx="445.2" cy="520.4" r="1.3" fill="#000" opacity="0.8"/>
<circle cx="455.7" cy="520.3" r="4.5" fill="#119711"/>
<circle cx="453.3" cy="520.3" r="1.1" fill="#000" opacity="0.8"/>
<circle cx="454.6" cy="517.5" r="1.4" fill="#000" opacity="0.8"/>
<circle cx="456.8" cy="520.9" r="1.3" fill="#000" opacity="0.8"/>
<circle cx="461.6" cy="518.8" r="4.5" fill="#0e780e"/>
<circle cx="463.3" cy="521.2" r="1.2" fill="#000" opacity="0.8"/>
<circle cx="464.6" cy="517.9" r="1.6" fill="#000" opacity="0.8"/>
<circle cx="463.0" cy="517.5" r="1.2" fill="#000" opacity="0.8"/>
<circle cx="467.2" cy="520.9" r="4.8" fill="#119811"/>
<circle cx="467.0" cy="520.5" r="1.7" fill="#000" opacity="0.8"/>
<circle cx="465.4" cy="523.0" r="1.1" fill="#000" opacity="0.8"/>
<circle cx="465.9" cy="520.6" r="1.1" fill="#000" opacity="0.8"/>
<circle cx="474.1" cy="517.3" r="4.9" fill="#15b915"/>
<circle cx="476.4" cy="517.7" r="1.1" fill="#000" opacity="0.8"/>
<circle cx="471.6" cy="516.7" r="1.6" fill="#000" opacity="0.8"/>
<circle cx="474.0" cy="515.0" r="1.1" fill="#000" opacity="0.8"/>
<circle cx="414.6" cy="527.0" r="4.8" fill="#14b014"/>
<circle cx="411.6" cy="527.3" r="1.0" fill="#000" opacity="0.8"/>
<circle cx="411.4" cy="527.0" r="1.4" fill="#000" opacity="0.8"/>
<circle cx="414.4" cy="527.7" r="1.3" fill="#000" opacity="0.8"/>
<circle cx="421.7" cy="526.7" r="4.6" fill="#14b114"/>
<circle cx="423.4" cy="529.2" r="1.2" fill="#000" opacity="0.8"/>
<circle cx="419.1" cy="525.0" r="1.4" fill="#000" opacity="0.8"/>
<circle cx="420.3" cy="524.0" r="1.1" fill="#000" opacity="0.8"/>
<circle cx="430.0" cy="525.1" r="4.7" fill="#0c6c0c"/>
<circle cx="427.5" cy="524.5" r="0.9" fill="#000" opacity="0.8"/>
<circle cx="429.9" cy="522.7" r="1.4" fill="#000" opacity="0.8"/>
<circle cx="427.1" cy="525.9" r="1.3" fill="#000" opacity="0.8"/>
<circle cx="436.4" cy="524.9" r="5.0" fill="#13a513"/>
<circle cx="438.2" cy="523.5" r="1.0" fill="#000" opacity="0.8"/>
<circle cx="436.3" cy="524.8" r="1.4" fill="#000" opacity="0.8"/>
<circle cx="434.2" cy="527.1" r="1.0" fill="#000" opacity="0.8"/>
<circle cx="444.4" cy="525.3" r="5.0" fill="#108b10"/>
<circle cx="443.3" cy="528.0" r="1.2" fill="#000" opacity="0.8"/>
<circle cx="443.9" cy="527.7" r="1.0" fill="#000" opacity="0.8"/>
<circle cx="443.9" cy="526.9" r="1.3" fill="#000" opacity="0.8"/>
<circle cx="451.6" cy="527.4" r="5.2" fill="#16c116"/>
<circle cx="452.3" cy="524.3" r="1.4" fill="#000" opacity="0.8"/>
<circle cx="451.9" cy="525.2" r="1.1" fill="#000" opacity="0.8"/>
<circle cx="453.3" cy="528.1" r="1.7" fill="#000" opacity="0.8"/>
<circle cx="454.1" cy="528.6" r="1.6" fill="#000" opacity="0.8"/>
<circle cx="457.3" cy="526.0" r="5.0" fill="#16c016"/>
<circle cx="460.7" cy="526.3" r="1.6" fill="#000" opacity="0.8"/>
<circle cx="460.3" cy="525.1" r="1.2" fill="#000" opacity="0.8"/>
<circle cx="459.1" cy="528.8" r="1.4" fill="#000" opacity="0.8"/>
<circle cx="464.1" cy="526.7" r="4.9" fill="#0e7b0e"/>
<circle cx="466.5" cy="526.7" r="1.2" fill="#000" opacity="0.8"/>
<circle cx="463.3" cy="529.0" r="1.7" fill="#000" opacity="0.8"/>
<circle cx="465.2" cy="525.4" r="1.0" fill="#000" opacity="0.8"/>
<circle cx="472.3" cy="526.2" r="4.5" fill="#13a313"/>
<circle cx="472.2" cy="523.1" r="1.1" fill="#000" opacity="0.8"/>
<circle cx="471.5" cy="529.0" r="1.4" fill="#000" opacity="0.8"/>
<circle cx="470.3" cy="525.5" r="1.6" fill="#000" opacity="0.8"/>
<circle cx="479.3" cy="526.4" r="4.0" fill="#0e790e"/>
<circle cx="478.5" cy="527.5" r="1.6" fill="#000" opacity="0.8"/>
<circle cx="477.0" cy="527.2" r="1.3" fill="#000" opacity="0.8"/>
<circle cx="411.5" cy="533.5" r="4.8" fill="#0c6f0c"/>
<circle cx="408.7" cy="532.6" r="1.5" fill="#000" opacity="0.8"/>
<circle cx="412.7" cy="532.2" r="1.7" fill="#000" opacity="0.8"/>
<circle cx="408.8" cy="532.3" r="1.5" fill="#000" opacity="0.8"/>
<circle cx="418.6" cy="531.8" r="4.4" fill="#0e7b0e"/>
<circle cx="418.3" cy="532.8" r="1.3" fill="#000" opacity="0.8"/>
<circle cx="416.6" cy="531.2" r="1.7" fill="#000" opacity="0.8"/>
<circle cx="424.5" cy="531.0" r="4.7" fill="#12a012"/>
<circle cx="422.7" cy="528.7" r="1.5" fill="#000" opacity="0.8"/>
<circle cx="427.1" cy="532.7" r="1.2" fill="#000" opacity="0.8"/>
<circle cx="423.5" cy="532.3" r="1.7" fill="#000" opacity="0.8"/>
<circle cx="431.7" cy="534.5" r="4.5" fill="#0f840f"/>
<circle cx="429.9" cy="532.1" r="1.7" fill="#000" opacity="0.8"/>
<circle cx="430.2" cy="536.6" r="1.4" fill="#000" opacity="0.8"/>
<circle cx="433.8" cy="536.4" r="1.1" fill="#000" opacity="0.8"/>
<circle cx="439.3" cy="531.4" r="4.4" fill="#0c6e0c"/>
<circle cx="440.7" cy="530.2" r="1.6" fill="#000" opacity="0.8"/>
<circle cx="436.6" cy="530.9" r="1.6" fill="#000" opacity="0.8"/>
<circle cx="438.0" cy="529.9" r="1.4" fill="#000" opacity="0.8"/>
<circle cx="447.2" cy="531.3" r="4.4" fill="#129f12"/>
<circle cx="447.1" cy="528.8" r="1.3" fill="#000" opacity="0.8"/>
<circle cx="445.8" cy="533.0" r="1.0" fill="#000" opacity="0.8"/>
<circle cx="455.5" cy="534.2" r="5.0" fill="#13a513"/>
<circle cx="458.2" cy="536.4" r="1.2" fill="#000" opacity="0.8"/>
<circle cx="453.4" cy="534.8" r="1.2" fill="#000" opacity="0.8"/>
<circle cx="454.6" cy="536.4" r="1.5" fill="#000" opacity="0.8"/>
<circle cx="460.2" cy="531.5" r="4.7" fill="#16c116"/>
<circle cx="462.4" cy="533.4" r="1.1" fill="#000" opacity="0.8"/>
<circle cx="457.5" cy="530.8" r="1.3" fill="#000" opacity="0.8"/>
<circle cx="463.1" cy="532.2" r="0.9" fill="#000" opacity="0.8"/>
<circle cx="469.6" cy="533.3" r="5.1" fill="#0c6b0c"/>
<circle cx="472.8" cy="532.8" r="1.3" fill="#000" opacity="0.8"/>
<circle cx="467.0" cy="533.5" r="1.1" fill="#000" opacity="0.8"/>
<circle cx="467.1" cy="530.8" r="1.7" fill="#000" opacity="0.8"/>
<circle cx="473.1" cy="533.2" r="4.2" fill="#13a413"/>
<circle cx="472.8" cy="535.4" r="1.2" fill="#000" opacity="0.8"/>
<circle cx="471.8" cy="535.1" r="1.3" fill="#000" opacity="0.8"/>
<circle cx="416.8" cy="539.4" r="4.3" fill="#16c316"/>
<circle cx="417.4" cy="540.1" r="1.2" fill="#000" opacity="0.8"/>
<circle cx="416.6" cy="538.9" r="1.1" fill="#000" opacity="0.8"/>
<circle cx="421.7" cy="541.7" r="4.3" fill="#16c416"/>
<circle cx="422.9" cy="543.5" r="1.3" fill="#000" opacity="0.8"/>
<circle cx="422.4" cy="539.5" r="1.2" fill="#000" opacity="0.8"/>
<circle cx="429.2" cy="539.6" r="5.2" fill="#119711"/>
<circle cx="428.4" cy="538.2" r="1.6" fill="#000" opacity="0.8"/>
<circle cx="426.9" cy="541.5" r="1.4" fill="#000" opacity="0.8"/>
<circle cx="431.9" cy="539.5" r="1.3" fill="#000" opacity="0.8"/>
<circle cx="429.4" cy="540.8" r="1.5" fill="#000" opacity="0.8"/>
<circle cx="435.3" cy="539.8" r="4.7" fill="#119311"/>
<circle cx="436.4" cy="542.0" r="1.3" fill="#000" opacity="0.8"/>
<circle cx="436.9" cy="538.0" r="1.6" fill="#000" opacity="0.8"/>
<circle cx="435.1" cy="540.8" r="1.0" fill="#000" opacity="0.8"/>
<circle cx="442.4" cy="541.0" r="4.0" fill="#129b12"/>
<circle cx="444.9" cy="541.5" r="1.4" fill="#000" opacity="0.8"/>
<circle cx="443.3" cy="540.2" r="1.3" fill="#000" opacity="0.8"/>
<circle cx="449.3" cy="541.6" r="4.3" fill="#0f830f"/>
<circle cx="451.2" cy="541.6" r="0.9" fill="#000" opacity="0.8"/>
<circle cx="450.1" cy="541.7" r="1.5" fill="#000" opacity="0.8"/>
<circle cx="455.8" cy="541.9" r="4.7" fill="#119611"/>
<circle cx="454.7" cy="539.4" r="1.5" fill="#000" opacity="0.8"/>
<circle cx="455.2" cy="543.8" r="1.5" fill="#000" opacity="0.8"/>
<circle cx="458.4" cy="540.8" r="1.2" fill="#000" opacity="0.8"/>
<circle cx="464.8" cy="540.3" r="4.9" fill="#0f860f"/>
<circle cx="464.2" cy="543.6" r="1.0" fill="#000" opacity="0.8"/>
<circle cx="466.0" cy="541.6" r="1.3" fill="#000" opacity="0.8"/>
<circle cx="465.0" cy="542.6" r="1.6" fill="#000" opacity="0.8"/>
<circle cx="471.3" cy="539.2" r="4.6" fill="#108c10"/>
<circle cx="469.6" cy="537.8" r="1.6" fill="#000" opacity="0.8"/>
<circle cx="469.8" cy="539.6" r="1.3" fill="#000" opacity="0.8"/>
<circle cx="470.2" cy="536.9" r="1.4" fill="#000" opacity="0.8"/>
<circle cx="479.2" cy="540.3" r="4.5" fill="#16be16"/>
<circle cx="480.5" cy="538.7" r="1.5" fill="#000" opacity="0.8"/>
<circle cx="478.7" cy="542.6" r="1.1" fill="#000" opacity="0.8"/>
<circle cx="477.4" cy="538.3" r="1.6" fill="#000" opacity="0.8"/>
<circle cx="413.3" cy="547.1" r="4.9" fill="#109210"/>
<circle cx="416.6" cy="548.1" r="1.0" fill="#000" opacity="0.8"/>
<circle cx="413.8" cy="550.1" r="1.4" fill="#000" opacity="0.8"/>
<circle cx="410.2" cy="546.0" r="1.2" fill="#000" opacity="0.8"/>
<circle cx="419.0" cy="547.7" r="4.6" fill="#16bd16"/>
<circle cx="417.1" cy="545.3" r="1.4" fill="#000" opacity="0.8"/>
<circle cx="421.4" cy="549.3" r="1.7" fill="#000" opacity="0.8"/>
<circle cx="419.0" cy="548.1" r="1.6" fill="#000" opacity="0.8"/>
<circle cx="425.2" cy="546.5" r="4.4" fill="#15b615"/>
<circle cx="428.2" cy="545.7" r="1.0" fill="#000" opacity="0.8"/>
<circle cx="427.3" cy="547.7" r="1.6" fill="#000" opacity="0.8"/>
<circle cx="431.0" cy="548.2" r="4.5" fill="#0f850f"/>
<circle cx="432.5" cy="550.0" r="1.4" fill="#000" opacity="0.8"/>
<circle cx="432.8" cy="548.0" r="1.3" fill="#000" opacity="0.8"/>
<circle cx="431.7" cy="550.7" r="1.2" fill="#000" opacity="0.8"/>
<circle cx="440.8" cy="548.5" r="4.6" fill="#129d12"/>
<circle cx="441.9" cy="547.1" r="1.2" fill="#000" opacity="0.8"/>
<circle cx="439.2" cy="547.7" r="1.7" fill="#000" opacity="0.8"/>
<circle cx="440.2" cy="549.9" r="1.3" fill="#000" opacity="0.8"/>
<circle cx="446.7" cy="546.2" r="4.7" fill="#15b415"/>
<circle cx="447.1" cy="547.3" r="0.9" fill="#000" opacity="0.8"/>
<circle cx="446.6" cy="549.4" r="1.3" fill="#000" opacity="0.8"/>
<circle cx="449.2" cy="546.5" r="0.9" fill="#000" opacity="0.8"/>
<circle cx="452.0" cy="545.8" r="5.0" fill="#13a713"/>
<circle cx="451.4" cy="546.9" r="1.0" fill="#000" opacity="0.8"/>
<circle cx="451.8" cy="544.0" r="1.3" fill="#000" opacity="0.8"/>
<circle cx="450.5" cy="546.0" r="1.3" fill="#000" opacity="0.8"/>
<circle cx="458.8" cy="547.8" r="5.2" fill="#13aa13"/>
<circle cx="456.9" cy="550.0" r="1.0" fill="#000" opacity="0.8"/>
<circle cx="461.4" cy="546.2" r="1.1" fill="#000" opacity="0.8"/>
<circle cx="460.4" cy="547.6" r="1.4" fill="#000" opacity="0.8"/>
<circle cx="459.5" cy="546.6" r="1.7" fill="#000" opacity="0.8"/>
<circle cx="417.0" cy="554.7" r="4.4" fill="#16be16"/>
<circle cx="419.0" cy="556.7" r="1.3" fill="#000" opacity="0.8"/>
<circle cx="419.0" cy="554.5" r="1.3" fill="#000" opacity="0.8"/>
<circle cx="420.8" cy="554.3" r="4.2" fill="#13a313"/>
<circle cx="423.4" cy="554.3" r="1.6" fill="#000" opacity="0.8"/>
<circle cx="423.0" cy="554.0" r="1.7" fill="#000" opacity="0.8"/>
<circle cx="427.4" cy="552.3" r="4.1" fill="#0d700d"/>
<circle cx="426.6" cy="550.9" r="1.1" fill="#000" opacity="0.8"/>
<circle cx="427.1" cy="550.6" r="1.0" fill="#000" opacity="0.8"/>
<circle cx="436.5" cy="554.9" r="4.2" fill="#119211"/>
<circle cx="434.8" cy="553.3" r="1.6" fill="#000" opacity="0.8"/>
<circle cx="438.5" cy="553.0" r="1.5" fill="#000" opacity="0.8"/>
<circle cx="442.5" cy="554.3" r="5.1" fill="#108d10"/>
<circle cx="441.0" cy="554.3" r="1.3" fill="#000" opacity="0.8"/>
<circle cx="445.5" cy="553.0" r="1.5" fill="#000" opacity="0.8"/>
<circle cx="441.9" cy="557.8" r="1.2" fill="#000" opacity="0.8"/>
<circle cx="444.2" cy="556.1" r="1.1" fill="#000" opacity="0.8"/>
<circle cx="448.4" cy="554.7" r="4.8" fill="#119911"/>
<circle cx="451.5" cy="554.8" r="1.1" fill="#000" opacity="0.8"/>
<circle cx="449.5" cy="554.2" r="1.5" fill="#000" opacity="0.8"/>
<circle cx="450.8" cy="554.0" r="1.0" fill="#000" opacity="0.8"/>
<circle cx="410.2" cy="559.8" r="4.9" fill="#0e7b0e"/>
<circle cx="411.1" cy="556.9" r="1.6" fill="#000" opacity="0.8"/>
<circle cx="410.1" cy="561.1" r="1.1" fill="#000" opacity="0.8"/>
<circle cx="409.4" cy="561.8" r="1.0" fill="#000" opacity="0.8"/>
<circle cx="419.6" cy="561.5" r="4.8" fill="#0d730d"/>
<circle cx="420.4" cy="564.6" r="1.3" fill="#000" opacity="0.8"/>
<circle cx="417.4" cy="560.4" r="1.7" fill="#000" opacity="0.8"/>
<circle cx="419.0" cy="561.7" r="1.2" fill="#000" opacity="0.8"/>
<circle cx="424.2" cy="561.3" r="5.1" fill="#119611"/>
<circle cx="425.2" cy="564.0" r="1.4" fill="#000" opacity="0.8"/>
<circle cx="423.1" cy="563.8" r="1.7" fill="#000" opacity="0.8"/>
<circle cx="426.1" cy="562.1" r="0.9" fill="#000" opacity="0.8"/>
<circle cx="432.0" cy="562.1" r="4.9" fill="#0d700d"/>
<circle cx="430.4" cy="562.6" r="0.9" fill="#000" opacity="0.8"/>
<circle cx="429.2" cy="560.5" r="1.1" fill="#000" opacity="0.8"/>
<circle cx="434.5" cy="561.3" r="1.3" fill="#000" opacity="0.8"/>
<circle cx="438.3" cy="562.7" r="4.3" fill="#0d750d"/>
<circle cx="440.2" cy="564.5" r="1.3" fill="#000" opacity="0.8"/>
<circle cx="439.1" cy="560.1" r="1.0" fill="#000" opacity="0.8"/>
<circle cx="448.6" cy="561.6" r="4.2" fill="#13a313"/>
<circle cx="446.7" cy="561.5" r="1.4" fill="#000" opacity="0.8"/>
<circle cx="448.7" cy="562.6" r="1.5" fill="#000" opacity="0.8"/>
<circle cx="453.1" cy="559.8" r="4.7" fill="#108a10"/>
<circle cx="453.8" cy="557.8" r="1.3" fill="#000" opacity="0.8"/>
<circle cx="452.0" cy="558.6" r="1.0" fill="#000" opacity="0.8"/>
<circle cx="451.3" cy="558.6" r="1.3" fill="#000" opacity="0.8"/>
</g></g>
<line x1="453.5" y1="559.4" x2="466.5" y2="559.4" stroke="#fff" stroke-width="1"/>
<text x="460.0" y="557.9" font-size="4.6" text-anchor="middle" fill="#e8e8e8" font-family="Liberation Serif" font-weight="bold">25 µm</text>
<rect x="472.7" y="504.9" width="58.9" height="57.0" fill="#000" stroke="none" stroke-width="1"/>
<g clip-path="url(#mclip11)"><g filter="url(#mblur)">
<rect x="472.7" y="504.9" width="58.8" height="57" fill="#200303" opacity="0.3"/>
<circle cx="487.7" cy="506.6" r="4.6" fill="#730a07"/>
<circle cx="486.6" cy="504.6" r="1.4" fill="#000" opacity="0.8"/>
<circle cx="487.8" cy="505.0" r="1.6" fill="#000" opacity="0.8"/>
<circle cx="490.1" cy="505.0" r="1.4" fill="#000" opacity="0.8"/>
<circle cx="494.3" cy="506.5" r="4.6" fill="#7b0b08"/>
<circle cx="493.3" cy="507.4" r="1.3" fill="#000" opacity="0.8"/>
<circle cx="496.1" cy="504.6" r="1.5" fill="#000" opacity="0.8"/>
<circle cx="492.4" cy="508.8" r="0.9" fill="#000" opacity="0.8"/>
<circle cx="500.9" cy="505.2" r="4.3" fill="#710a07"/>
<circle cx="502.1" cy="505.7" r="1.3" fill="#000" opacity="0.8"/>
<circle cx="503.0" cy="504.0" r="1.1" fill="#000" opacity="0.8"/>
<circle cx="509.4" cy="506.0" r="5.0" fill="#800b08"/>
<circle cx="507.8" cy="509.1" r="1.2" fill="#000" opacity="0.8"/>
<circle cx="506.6" cy="505.5" r="1.2" fill="#000" opacity="0.8"/>
<circle cx="507.1" cy="504.1" r="1.1" fill="#000" opacity="0.8"/>
<circle cx="515.2" cy="503.4" r="5.0" fill="#700a07"/>
<circle cx="516.2" cy="500.8" r="1.5" fill="#000" opacity="0.8"/>
<circle cx="513.4" cy="502.1" r="1.1" fill="#000" opacity="0.8"/>
<circle cx="514.5" cy="506.0" r="1.1" fill="#000" opacity="0.8"/>
<circle cx="520.6" cy="506.8" r="4.3" fill="#c8110d"/>
<circle cx="518.5" cy="508.7" r="1.4" fill="#000" opacity="0.8"/>
<circle cx="520.8" cy="505.7" r="1.7" fill="#000" opacity="0.8"/>
<circle cx="528.9" cy="505.6" r="5.1" fill="#850b08"/>
<circle cx="531.5" cy="503.9" r="1.5" fill="#000" opacity="0.8"/>
<circle cx="530.7" cy="506.1" r="1.4" fill="#000" opacity="0.8"/>
<circle cx="530.4" cy="506.5" r="1.2" fill="#000" opacity="0.8"/>
<circle cx="528.2" cy="503.4" r="1.2" fill="#000" opacity="0.8"/>
<circle cx="537.6" cy="506.5" r="4.4" fill="#8e0c09"/>
<circle cx="538.1" cy="506.8" r="0.9" fill="#000" opacity="0.8"/>
<circle cx="539.6" cy="507.5" r="1.6" fill="#000" opacity="0.8"/>
<circle cx="539.6" cy="508.0" r="0.9" fill="#000" opacity="0.8"/>
<circle cx="482.4" cy="512.3" r="4.8" fill="#700a07"/>
<circle cx="484.3" cy="512.9" r="1.6" fill="#000" opacity="0.8"/>
<circle cx="483.0" cy="509.7" r="1.0" fill="#000" opacity="0.8"/>
<circle cx="480.0" cy="514.3" r="0.9" fill="#000" opacity="0.8"/>
<circle cx="489.4" cy="513.2" r="4.4" fill="#a10e0a"/>
<circle cx="492.2" cy="514.0" r="1.3" fill="#000" opacity="0.8"/>
<circle cx="488.5" cy="514.0" r="1.0" fill="#000" opacity="0.8"/>
<circle cx="498.0" cy="510.1" r="4.0" fill="#d3120e"/>
<circle cx="497.1" cy="507.5" r="1.0" fill="#000" opacity="0.8"/>
<circle cx="498.5" cy="507.5" r="1.1" fill="#000" opacity="0.8"/>
<circle cx="505.6" cy="510.0" r="4.4" fill="#c0110c"/>
<circle cx="503.5" cy="510.8" r="1.5" fill="#000" opacity="0.8"/>
<circle cx="505.4" cy="510.9" r="1.5" fill="#000" opacity="0.8"/>
<circle cx="506.1" cy="511.9" r="1.1" fill="#000" opacity="0.8"/>
<circle cx="509.2" cy="510.1" r="5.1" fill="#820b08"/>
<circle cx="509.8" cy="513.4" r="1.7" fill="#000" opacity="0.8"/>
<circle cx="506.8" cy="507.5" r="1.4" fill="#000" opacity="0.8"/>
<circle cx="508.6" cy="510.1" r="1.0" fill="#000" opacity="0.8"/>
<circle cx="509.0" cy="511.6" r="1.0" fill="#000" opacity="0.8"/>
<circle cx="519.2" cy="513.6" r="4.4" fill="#cf120d"/>
<circle cx="518.7" cy="515.9" r="1.6" fill="#000" opacity="0.8"/>
<circle cx="518.7" cy="513.0" r="1.5" fill="#000" opacity="0.8"/>
<circle cx="525.3" cy="513.0" r="4.9" fill="#7b0a08"/>
<circle cx="523.7" cy="513.4" r="1.7" fill="#000" opacity="0.8"/>
<circle cx="524.9" cy="514.4" r="1.7" fill="#000" opacity="0.8"/>
<circle cx="524.9" cy="511.6" r="1.1" fill="#000" opacity="0.8"/>
<circle cx="533.6" cy="510.0" r="4.1" fill="#d0120d"/>
<circle cx="534.2" cy="507.6" r="1.4" fill="#000" opacity="0.8"/>
<circle cx="532.9" cy="509.9" r="1.0" fill="#000" opacity="0.8"/>
<circle cx="539.6" cy="513.6" r="5.1" fill="#920d09"/>
<circle cx="541.7" cy="512.2" r="1.6" fill="#000" opacity="0.8"/>
<circle cx="540.0" cy="513.0" r="1.7" fill="#000" opacity="0.8"/>
<circle cx="541.4" cy="514.4" r="1.0" fill="#000" opacity="0.8"/>
<circle cx="540.8" cy="516.7" r="1.6" fill="#000" opacity="0.8"/>
<circle cx="471.9" cy="518.2" r="4.1" fill="#820b08"/>
<circle cx="469.8" cy="516.7" r="1.2" fill="#000" opacity="0.8"/>
<circle cx="470.7" cy="516.7" r="1.5" fill="#000" opacity="0.8"/>
<circle cx="480.5" cy="520.9" r="4.1" fill="#800b08"/>
<circle cx="480.6" cy="520.9" r="1.1" fill="#000" opacity="0.8"/>
<circle cx="483.1" cy="519.8" r="1.2" fill="#000" opacity="0.8"/>
<circle cx="486.8" cy="518.5" r="4.7" fill="#880c09"/>
<circle cx="485.7" cy="518.0" r="1.6" fill="#000" opacity="0.8"/>
<circle cx="488.2" cy="519.4" r="1.2" fill="#000" opacity="0.8"/>
<circle cx="485.3" cy="520.2" r="1.5" fill="#000" opacity="0.8"/>
<circle cx="493.5" cy="518.6" r="4.0" fill="#1e0202"/>
<circle cx="494.9" cy="516.4" r="1.1" fill="#000" opacity="0.8"/>
<circle cx="496.2" cy="518.2" r="1.6" fill="#000" opacity="0.8"/>
<circle cx="502.1" cy="517.4" r="4.8" fill="#200202"/>
<circle cx="502.9" cy="517.9" r="1.0" fill="#000" opacity="0.8"/>
<circle cx="502.5" cy="519.0" r="0.9" fill="#000" opacity="0.8"/>
<circle cx="500.6" cy="516.4" r="1.2" fill="#000" opacity="0.8"/>
<circle cx="506.1" cy="518.6" r="4.4" fill="#1c0201"/>
<circle cx="505.8" cy="520.0" r="1.0" fill="#000" opacity="0.8"/>
<circle cx="506.2" cy="520.4" r="1.3" fill="#000" opacity="0.8"/>
<circle cx="516.7" cy="520.3" r="4.5" fill="#d3120e"/>
<circle cx="514.3" cy="520.3" r="1.1" fill="#000" opacity="0.8"/>
<circle cx="515.6" cy="517.5" r="1.4" fill="#000" opacity="0.8"/>
<circle cx="517.8" cy="520.9" r="1.3" fill="#000" opacity="0.8"/>
<circle cx="522.6" cy="518.8" r="4.5" fill="#8d0c09"/>
<circle cx="524.3" cy="521.2" r="1.2" fill="#000" opacity="0.8"/>
<circle cx="525.6" cy="517.9" r="1.6" fill="#000" opacity="0.8"/>
<circle cx="524.0" cy="517.5" r="1.2" fill="#000" opacity="0.8"/>
<circle cx="528.2" cy="520.9" r="4.8" fill="#d1120d"/>
<circle cx="528.0" cy="520.5" r="1.7" fill="#000" opacity="0.8"/>
<circle cx="526.4" cy="523.0" r="1.1" fill="#000" opacity="0.8"/>
<circle cx="526.9" cy="520.6" r="1.1" fill="#000" opacity="0.8"/>
<circle cx="535.1" cy="517.3" r="4.9" fill="#8c0c09"/>
<circle cx="537.4" cy="517.7" r="1.1" fill="#000" opacity="0.8"/>
<circle cx="532.6" cy="516.7" r="1.6" fill="#000" opacity="0.8"/>
<circle cx="535.0" cy="515.0" r="1.1" fill="#000" opacity="0.8"/>
<circle cx="475.6" cy="527.0" r="4.8" fill="#170201"/>
<circle cx="472.6" cy="527.3" r="1.0" fill="#000" opacity="0.8"/>
<circle cx="472.4" cy="527.0" r="1.4" fill="#000" opacity="0.8"/>
<circle cx="475.4" cy="527.7" r="1.3" fill="#000" opacity="0.8"/>
<circle cx="482.7" cy="526.7" r="4.6" fill="#8c0c09"/>
<circle cx="484.4" cy="529.2" r="1.2" fill="#000" opacity="0.8"/>
<circle cx="480.1" cy="525.0" r="1.4" fill="#000" opacity="0.8"/>
<circle cx="481.3" cy="524.0" r="1.1" fill="#000" opacity="0.8"/>
<circle cx="491.0" cy="525.1" r="4.7" fill="#150101"/>
<circle cx="488.5" cy="524.5" r="0.9" fill="#000" opacity="0.8"/>
<circle cx="490.9" cy="522.7" r="1.4" fill="#000" opacity="0.8"/>
<circle cx="488.1" cy="525.9" r="1.3" fill="#000" opacity="0.8"/>
<circle cx="497.4" cy="524.9" r="5.0" fill="#0f0101"/>
<circle cx="499.2" cy="523.5" r="1.0" fill="#000" opacity="0.8"/>
<circle cx="497.3" cy="524.8" r="1.4" fill="#000" opacity="0.8"/>
<circle cx="495.2" cy="527.1" r="1.0" fill="#000" opacity="0.8"/>
<circle cx="505.4" cy="525.3" r="5.0" fill="#180201"/>
<circle cx="504.3" cy="528.0" r="1.2" fill="#000" opacity="0.8"/>
<circle cx="504.9" cy="527.7" r="1.0" fill="#000" opacity="0.8"/>
<circle cx="504.9" cy="526.9" r="1.3" fill="#000" opacity="0.8"/>
<circle cx="512.6" cy="527.4" r="5.2" fill="#b6100c"/>
<circle cx="513.3" cy="524.3" r="1.4" fill="#000" opacity="0.8"/>
<circle cx="512.9" cy="525.2" r="1.1" fill="#000" opacity="0.8"/>
<circle cx="514.3" cy="528.1" r="1.7" fill="#000" opacity="0.8"/>
<circle cx="515.1" cy="528.6" r="1.6" fill="#000" opacity="0.8"/>
<circle cx="518.3" cy="526.0" r="5.0" fill="#810b08"/>
<circle cx="521.7" cy="526.3" r="1.6" fill="#000" opacity="0.8"/>
<circle cx="521.3" cy="525.1" r="1.2" fill="#000" opacity="0.8"/>
<circle cx="520.1" cy="528.8" r="1.4" fill="#000" opacity="0.8"/>
<circle cx="525.1" cy="526.7" r="4.9" fill="#b9100c"/>
<circle cx="527.5" cy="526.7" r="1.2" fill="#000" opacity="0.8"/>
<circle cx="524.3" cy="529.0" r="1.7" fill="#000" opacity="0.8"/>
<circle cx="526.2" cy="525.4" r="1.0" fill="#000" opacity="0.8"/>
<circle cx="533.3" cy="526.2" r="4.5" fill="#b30f0b"/>
<circle cx="533.2" cy="523.1" r="1.1" fill="#000" opacity="0.8"/>
<circle cx="532.5" cy="529.0" r="1.4" fill="#000" opacity="0.8"/>
<circle cx="531.3" cy="525.5" r="1.6" fill="#000" opacity="0.8"/>
<circle cx="540.3" cy="526.4" r="4.0" fill="#b9100c"/>
<circle cx="539.5" cy="527.5" r="1.6" fill="#000" opacity="0.8"/>
<circle cx="538.0" cy="527.2" r="1.3" fill="#000" opacity="0.8"/>
<circle cx="472.5" cy="533.5" r="4.8" fill="#170201"/>
<circle cx="469.7" cy="532.6" r="1.5" fill="#000" opacity="0.8"/>
<circle cx="473.7" cy="532.2" r="1.7" fill="#000" opacity="0.8"/>
<circle cx="469.8" cy="532.3" r="1.5" fill="#000" opacity="0.8"/>
<circle cx="485.5" cy="531.0" r="4.7" fill="#0c0100"/>
<circle cx="483.7" cy="528.7" r="1.5" fill="#000" opacity="0.8"/>
<circle cx="488.1" cy="532.7" r="1.2" fill="#000" opacity="0.8"/>
<circle cx="484.5" cy="532.3" r="1.7" fill="#000" opacity="0.8"/>
<circle cx="492.7" cy="534.5" r="4.5" fill="#700a07"/>
<circle cx="490.9" cy="532.1" r="1.7" fill="#000" opacity="0.8"/>
<circle cx="491.2" cy="536.6" r="1.4" fill="#000" opacity="0.8"/>
<circle cx="494.8" cy="536.4" r="1.1" fill="#000" opacity="0.8"/>
<circle cx="500.3" cy="531.4" r="4.4" fill="#c4110d"/>
<circle cx="501.7" cy="530.2" r="1.6" fill="#000" opacity="0.8"/>
<circle cx="497.6" cy="530.9" r="1.6" fill="#000" opacity="0.8"/>
<circle cx="499.0" cy="529.9" r="1.4" fill="#000" opacity="0.8"/>
<circle cx="508.2" cy="531.3" r="4.4" fill="#a70e0b"/>
<circle cx="508.1" cy="528.8" r="1.3" fill="#000" opacity="0.8"/>
<circle cx="506.8" cy="533.0" r="1.0" fill="#000" opacity="0.8"/>
<circle cx="516.5" cy="534.2" r="5.0" fill="#9a0d0a"/>
<circle cx="519.2" cy="536.4" r="1.2" fill="#000" opacity="0.8"/>
<circle cx="514.4" cy="534.8" r="1.2" fill="#000" opacity="0.8"/>
<circle cx="515.6" cy="536.4" r="1.5" fill="#000" opacity="0.8"/>
<circle cx="521.2" cy="531.5" r="4.7" fill="#ac0f0b"/>
<circle cx="523.4" cy="533.4" r="1.1" fill="#000" opacity="0.8"/>
<circle cx="518.5" cy="530.8" r="1.3" fill="#000" opacity="0.8"/>
<circle cx="524.1" cy="532.2" r="0.9" fill="#000" opacity="0.8"/>
<circle cx="530.6" cy="533.3" r="5.1" fill="#940d09"/>
<circle cx="533.8" cy="532.8" r="1.3" fill="#000" opacity="0.8"/>
<circle cx="528.0" cy="533.5" r="1.1" fill="#000" opacity="0.8"/>
<circle cx="528.1" cy="530.8" r="1.7" fill="#000" opacity="0.8"/>
<circle cx="534.1" cy="533.2" r="4.2" fill="#ae0f0b"/>
<circle cx="533.8" cy="535.4" r="1.2" fill="#000" opacity="0.8"/>
<circle cx="532.8" cy="535.1" r="1.3" fill="#000" opacity="0.8"/>
<circle cx="482.7" cy="541.7" r="4.3" fill="#140101"/>
<circle cx="483.9" cy="543.5" r="1.3" fill="#000" opacity="0.8"/>
<circle cx="483.4" cy="539.5" r="1.2" fill="#000" opacity="0.8"/>
<circle cx="490.2" cy="539.6" r="5.2" fill="#900c09"/>
<circle cx="489.4" cy="538.2" r="1.6" fill="#000" opacity="0.8"/>
<circle cx="487.9" cy="541.5" r="1.4" fill="#000" opacity="0.8"/>
<circle cx="492.9" cy="539.5" r="1.3" fill="#000" opacity="0.8"/>
<circle cx="490.4" cy="540.8" r="1.5" fill="#000" opacity="0.8"/>
<circle cx="496.3" cy="539.8" r="4.7" fill="#7c0b08"/>
<circle cx="497.4" cy="542.0" r="1.3" fill="#000" opacity="0.8"/>
<circle cx="497.9" cy="538.0" r="1.6" fill="#000" opacity="0.8"/>
<circle cx="496.1" cy="540.8" r="1.0" fill="#000" opacity="0.8"/>
<circle cx="503.4" cy="541.0" r="4.0" fill="#c4110d"/>
<circle cx="505.9" cy="541.5" r="1.4" fill="#000" opacity="0.8"/>
<circle cx="504.3" cy="540.2" r="1.3" fill="#000" opacity="0.8"/>
<circle cx="510.3" cy="541.6" r="4.3" fill="#bf110c"/>
<circle cx="512.2" cy="541.6" r="0.9" fill="#000" opacity="0.8"/>
<circle cx="511.1" cy="541.7" r="1.5" fill="#000" opacity="0.8"/>
<circle cx="516.8" cy="541.9" r="4.7" fill="#8e0c09"/>
<circle cx="515.7" cy="539.4" r="1.5" fill="#000" opacity="0.8"/>
<circle cx="516.2" cy="543.8" r="1.5" fill="#000" opacity="0.8"/>
<circle cx="519.4" cy="540.8" r="1.2" fill="#000" opacity="0.8"/>
<circle cx="532.3" cy="539.2" r="4.6" fill="#110101"/>
<circle cx="530.6" cy="537.8" r="1.6" fill="#000" opacity="0.8"/>
<circle cx="530.8" cy="539.6" r="1.3" fill="#000" opacity="0.8"/>
<circle cx="531.2" cy="536.9" r="1.4" fill="#000" opacity="0.8"/>
<circle cx="474.3" cy="547.1" r="4.9" fill="#710a07"/>
<circle cx="477.6" cy="548.1" r="1.0" fill="#000" opacity="0.8"/>
<circle cx="474.8" cy="550.1" r="1.4" fill="#000" opacity="0.8"/>
<circle cx="471.2" cy="546.0" r="1.2" fill="#000" opacity="0.8"/>
<circle cx="480.0" cy="547.7" r="4.6" fill="#b00f0b"/>
<circle cx="478.1" cy="545.3" r="1.4" fill="#000" opacity="0.8"/>
<circle cx="482.4" cy="549.3" r="1.7" fill="#000" opacity="0.8"/>
<circle cx="480.0" cy="548.1" r="1.6" fill="#000" opacity="0.8"/>
<circle cx="492.0" cy="548.2" r="4.5" fill="#b6100c"/>
<circle cx="493.5" cy="550.0" r="1.4" fill="#000" opacity="0.8"/>
<circle cx="493.8" cy="548.0" r="1.3" fill="#000" opacity="0.8"/>
<circle cx="492.7" cy="550.7" r="1.2" fill="#000" opacity="0.8"/>
<circle cx="501.8" cy="548.5" r="4.6" fill="#7e0b08"/>
<circle cx="502.9" cy="547.1" r="1.2" fill="#000" opacity="0.8"/>
<circle cx="500.2" cy="547.7" r="1.7" fill="#000" opacity="0.8"/>
<circle cx="501.2" cy="549.9" r="1.3" fill="#000" opacity="0.8"/>
<circle cx="507.7" cy="546.2" r="4.7" fill="#800b08"/>
<circle cx="508.1" cy="547.3" r="0.9" fill="#000" opacity="0.8"/>
<circle cx="507.6" cy="549.4" r="1.3" fill="#000" opacity="0.8"/>
<circle cx="510.2" cy="546.5" r="0.9" fill="#000" opacity="0.8"/>
<circle cx="513.0" cy="545.8" r="5.0" fill="#c3110d"/>
<circle cx="512.4" cy="546.9" r="1.0" fill="#000" opacity="0.8"/>
<circle cx="512.8" cy="544.0" r="1.3" fill="#000" opacity="0.8"/>
<circle cx="511.5" cy="546.0" r="1.3" fill="#000" opacity="0.8"/>
<circle cx="519.8" cy="547.8" r="5.2" fill="#d3120e"/>
<circle cx="517.9" cy="550.0" r="1.0" fill="#000" opacity="0.8"/>
<circle cx="522.4" cy="546.2" r="1.1" fill="#000" opacity="0.8"/>
<circle cx="521.4" cy="547.6" r="1.4" fill="#000" opacity="0.8"/>
<circle cx="520.5" cy="546.6" r="1.7" fill="#000" opacity="0.8"/>
<circle cx="478.0" cy="554.7" r="4.4" fill="#7e0b08"/>
<circle cx="480.0" cy="556.7" r="1.3" fill="#000" opacity="0.8"/>
<circle cx="480.0" cy="554.5" r="1.3" fill="#000" opacity="0.8"/>
<circle cx="481.8" cy="554.3" r="4.2" fill="#9a0d0a"/>
<circle cx="484.4" cy="554.3" r="1.6" fill="#000" opacity="0.8"/>
<circle cx="484.0" cy="554.0" r="1.7" fill="#000" opacity="0.8"/>
<circle cx="488.4" cy="552.3" r="4.1" fill="#960d0a"/>
<circle cx="487.6" cy="550.9" r="1.1" fill="#000" opacity="0.8"/>
<circle cx="488.1" cy="550.6" r="1.0" fill="#000" opacity="0.8"/>
<circle cx="497.5" cy="554.9" r="4.2" fill="#c9110d"/>
<circle cx="495.8" cy="553.3" r="1.6" fill="#000" opacity="0.8"/>
<circle cx="499.5" cy="553.0" r="1.5" fill="#000" opacity="0.8"/>
<circle cx="503.5" cy="554.3" r="5.1" fill="#a20e0a"/>
<circle cx="502.0" cy="554.3" r="1.3" fill="#000" opacity="0.8"/>
<circle cx="506.5" cy="553.0" r="1.5" fill="#000" opacity="0.8"/>
<circle cx="502.9" cy="557.8" r="1.2" fill="#000" opacity="0.8"/>
<circle cx="505.2" cy="556.1" r="1.1" fill="#000" opacity="0.8"/>
<circle cx="509.4" cy="554.7" r="4.8" fill="#7f0b08"/>
<circle cx="512.5" cy="554.8" r="1.1" fill="#000" opacity="0.8"/>
<circle cx="510.5" cy="554.2" r="1.5" fill="#000" opacity="0.8"/>
<circle cx="511.8" cy="554.0" r="1.0" fill="#000" opacity="0.8"/>
<circle cx="471.2" cy="559.8" r="4.9" fill="#960d0a"/>
<circle cx="472.1" cy="556.9" r="1.6" fill="#000" opacity="0.8"/>
<circle cx="471.1" cy="561.1" r="1.1" fill="#000" opacity="0.8"/>
<circle cx="470.4" cy="561.8" r="1.0" fill="#000" opacity="0.8"/>
<circle cx="480.6" cy="561.5" r="4.8" fill="#790a08"/>
<circle cx="481.4" cy="564.6" r="1.3" fill="#000" opacity="0.8"/>
<circle cx="478.4" cy="560.4" r="1.7" fill="#000" opacity="0.8"/>
<circle cx="480.0" cy="561.7" r="1.2" fill="#000" opacity="0.8"/>
<circle cx="485.2" cy="561.3" r="5.1" fill="#880c09"/>
<circle cx="486.2" cy="564.0" r="1.4" fill="#000" opacity="0.8"/>
<circle cx="484.1" cy="563.8" r="1.7" fill="#000" opacity="0.8"/>
<circle cx="487.1" cy="562.1" r="0.9" fill="#000" opacity="0.8"/>
<circle cx="493.0" cy="562.1" r="4.9" fill="#730a07"/>
<circle cx="491.4" cy="562.6" r="0.9" fill="#000" opacity="0.8"/>
<circle cx="490.2" cy="560.5" r="1.1" fill="#000" opacity="0.8"/>
<circle cx="495.5" cy="561.3" r="1.3" fill="#000" opacity="0.8"/>
<circle cx="499.3" cy="562.7" r="4.3" fill="#b5100c"/>
<circle cx="501.2" cy="564.5" r="1.3" fill="#000" opacity="0.8"/>
<circle cx="500.1" cy="560.1" r="1.0" fill="#000" opacity="0.8"/>
<circle cx="509.6" cy="561.6" r="4.2" fill="#c3110d"/>
<circle cx="507.7" cy="561.5" r="1.4" fill="#000" opacity="0.8"/>
<circle cx="509.7" cy="562.6" r="1.5" fill="#000" opacity="0.8"/>
<circle cx="514.1" cy="559.8" r="4.7" fill="#920c09"/>
<circle cx="514.8" cy="557.8" r="1.3" fill="#000" opacity="0.8"/>
<circle cx="513.0" cy="558.6" r="1.0" fill="#000" opacity="0.8"/>
<circle cx="512.3" cy="558.6" r="1.3" fill="#000" opacity="0.8"/>
</g></g>
<line x1="514.6" y1="559.4" x2="527.6" y2="559.4" stroke="#fff" stroke-width="1"/>
<text x="521.1" y="557.9" font-size="4.6" text-anchor="middle" fill="#e8e8e8" font-family="Liberation Serif" font-weight="bold">25 µm</text>
<rect x="533.1" y="504.9" width="58.9" height="57.0" fill="#000" stroke="none" stroke-width="1"/>
<g clip-path="url(#mclip12)"><g filter="url(#mblur)">
<rect x="533.1" y="504.9" width="58.8" height="57" fill="#00000c"/>
<circle cx="567.1" cy="516.6" r="2.1" fill="#1e1eff"/>
<circle cx="586.6" cy="531.6" r="1.9" fill="#1e1eff"/>
<circle cx="546.3" cy="518.1" r="1.6" fill="#1e1eff"/>
<circle cx="573.4" cy="517.6" r="2.1" fill="#1e1eff"/>
<circle cx="538.1" cy="516.5" r="1.5" fill="#1e1eff"/>
<circle cx="577.8" cy="526.1" r="1.7" fill="#1e1eff"/>
<circle cx="552.6" cy="541.0" r="1.7" fill="#1e1eff"/>
<circle cx="545.9" cy="529.6" r="1.6" fill="#1e1eff"/>
<circle cx="540.4" cy="551.2" r="1.9" fill="#1e1eff"/>
<circle cx="571.9" cy="554.4" r="1.7" fill="#1e1eff"/>
<circle cx="555.6" cy="529.2" r="1.7" fill="#1e1eff"/>
<circle cx="572.1" cy="506.3" r="1.7" fill="#1e1eff"/>
<circle cx="564.5" cy="524.9" r="1.4" fill="#1e1eff"/>
<circle cx="574.1" cy="506.4" r="1.8" fill="#1e1eff"/>
<circle cx="542.8" cy="507.8" r="1.5" fill="#1e1eff"/>
<circle cx="537.8" cy="514.2" r="1.9" fill="#1e1eff"/>
<circle cx="575.5" cy="525.9" r="1.9" fill="#1e1eff"/>
<circle cx="561.1" cy="533.3" r="2.0" fill="#1e1eff"/>
<circle cx="551.8" cy="553.7" r="1.9" fill="#1e1eff"/>
<circle cx="572.9" cy="506.2" r="1.5" fill="#1e1eff"/>
<circle cx="535.9" cy="524.9" r="2.1" fill="#1e1eff"/>
<circle cx="583.8" cy="552.0" r="1.5" fill="#1e1eff"/>
<circle cx="574.2" cy="548.5" r="2.0" fill="#1e1eff"/>
<circle cx="579.1" cy="513.6" r="1.5" fill="#1e1eff"/>
<circle cx="579.1" cy="546.5" r="2.0" fill="#1e1eff"/>
<circle cx="559.5" cy="554.8" r="1.5" fill="#1e1eff"/>
<circle cx="588.5" cy="554.5" r="1.6" fill="#1e1eff"/>
<circle cx="537.9" cy="536.1" r="1.9" fill="#1e1eff"/>
<circle cx="554.0" cy="509.1" r="1.6" fill="#1e1eff"/>
<circle cx="580.9" cy="510.9" r="2.1" fill="#1e1eff"/>
<circle cx="548.3" cy="517.1" r="1.5" fill="#1e1eff"/>
<circle cx="589.8" cy="555.5" r="1.6" fill="#1e1eff"/>
<circle cx="539.5" cy="541.8" r="2.0" fill="#1e1eff"/>
<circle cx="534.8" cy="540.7" r="2.0" fill="#1e1eff"/>
<circle cx="560.2" cy="537.2" r="2.0" fill="#1e1eff"/>
<circle cx="547.6" cy="520.9" r="1.9" fill="#1e1eff"/>
</g></g>
<line x1="575.0" y1="559.4" x2="588.0" y2="559.4" stroke="#fff" stroke-width="1"/>
<text x="581.5" y="557.9" font-size="4.6" text-anchor="middle" fill="#e8e8e8" font-family="Liberation Serif" font-weight="bold">25 µm</text>
<rect x="593.9" y="504.9" width="58.8" height="57.0" fill="#000" stroke="none" stroke-width="1"/>
<g clip-path="url(#mclip13)"><g filter="url(#mblur)">
<rect x="593.9" y="504.9" width="58.8" height="57" fill="#041804" opacity="0.4"/>
<circle cx="608.9" cy="506.6" r="4.6" fill="#80bc0c"/>
<circle cx="607.8" cy="504.6" r="1.4" fill="#000" opacity="0.8"/>
<circle cx="609.0" cy="505.0" r="1.6" fill="#000" opacity="0.8"/>
<circle cx="611.3" cy="505.0" r="1.4" fill="#000" opacity="0.8"/>
<circle cx="615.5" cy="506.5" r="4.6" fill="#82810c"/>
<circle cx="614.5" cy="507.4" r="1.3" fill="#000" opacity="0.8"/>
<circle cx="617.3" cy="504.6" r="1.5" fill="#000" opacity="0.8"/>
<circle cx="613.6" cy="508.8" r="0.9" fill="#000" opacity="0.8"/>
<circle cx="622.1" cy="505.2" r="4.3" fill="#79830c"/>
<circle cx="623.3" cy="505.7" r="1.3" fill="#000" opacity="0.8"/>
<circle cx="624.2" cy="504.0" r="1.1" fill="#000" opacity="0.8"/>
<circle cx="630.6" cy="506.0" r="5.0" fill="#86780c"/>
<circle cx="629.0" cy="509.1" r="1.2" fill="#000" opacity="0.8"/>
<circle cx="627.8" cy="505.5" r="1.2" fill="#000" opacity="0.8"/>
<circle cx="628.3" cy="504.1" r="1.1" fill="#000" opacity="0.8"/>
<circle cx="636.4" cy="503.4" r="5.0" fill="#777d0c"/>
<circle cx="637.4" cy="500.8" r="1.5" fill="#000" opacity="0.8"/>
<circle cx="634.6" cy="502.1" r="1.1" fill="#000" opacity="0.8"/>
<circle cx="635.7" cy="506.0" r="1.1" fill="#000" opacity="0.8"/>
<circle cx="641.8" cy="506.8" r="4.3" fill="#d1c20c"/>
<circle cx="639.7" cy="508.7" r="1.4" fill="#000" opacity="0.8"/>
<circle cx="642.0" cy="505.7" r="1.7" fill="#000" opacity="0.8"/>
<circle cx="650.1" cy="505.6" r="5.1" fill="#8fa70c"/>
<circle cx="652.7" cy="503.9" r="1.5" fill="#000" opacity="0.8"/>
<circle cx="651.9" cy="506.1" r="1.4" fill="#000" opacity="0.8"/>
<circle cx="651.6" cy="506.5" r="1.2" fill="#000" opacity="0.8"/>
<circle cx="649.4" cy="503.4" r="1.2" fill="#000" opacity="0.8"/>
<circle cx="658.8" cy="506.5" r="4.4" fill="#937b0c"/>
<circle cx="659.3" cy="506.8" r="0.9" fill="#000" opacity="0.8"/>
<circle cx="660.8" cy="507.5" r="1.6" fill="#000" opacity="0.8"/>
<circle cx="660.8" cy="508.0" r="0.9" fill="#000" opacity="0.8"/>
<circle cx="603.6" cy="512.3" r="4.8" fill="#78880c"/>
<circle cx="605.5" cy="512.9" r="1.6" fill="#000" opacity="0.8"/>
<circle cx="604.2" cy="509.7" r="1.0" fill="#000" opacity="0.8"/>
<circle cx="601.2" cy="514.3" r="0.9" fill="#000" opacity="0.8"/>
<circle cx="610.6" cy="513.2" r="4.4" fill="#a8970c"/>
<circle cx="613.4" cy="514.0" r="1.3" fill="#000" opacity="0.8"/>
<circle cx="609.7" cy="514.0" r="1.0" fill="#000" opacity="0.8"/>
<circle cx="619.2" cy="510.1" r="4.0" fill="#dab00c"/>
<circle cx="618.3" cy="507.5" r="1.0" fill="#000" opacity="0.8"/>
<circle cx="619.7" cy="507.5" r="1.1" fill="#000" opacity="0.8"/>
<circle cx="626.8" cy="510.0" r="4.4" fill="#c6a00c"/>
<circle cx="624.7" cy="510.8" r="1.5" fill="#000" opacity="0.8"/>
<circle cx="626.6" cy="510.9" r="1.5" fill="#000" opacity="0.8"/>
<circle cx="627.3" cy="511.9" r="1.1" fill="#000" opacity="0.8"/>
<circle cx="630.4" cy="510.1" r="5.1" fill="#887d0c"/>
<circle cx="631.0" cy="513.4" r="1.7" fill="#000" opacity="0.8"/>
<circle cx="628.0" cy="507.5" r="1.4" fill="#000" opacity="0.8"/>
<circle cx="629.8" cy="510.1" r="1.0" fill="#000" opacity="0.8"/>
<circle cx="630.2" cy="511.6" r="1.0" fill="#000" opacity="0.8"/>
<circle cx="640.4" cy="513.6" r="4.4" fill="#d38e0c"/>
<circle cx="639.9" cy="515.9" r="1.6" fill="#000" opacity="0.8"/>
<circle cx="639.9" cy="513.0" r="1.5" fill="#000" opacity="0.8"/>
<circle cx="646.5" cy="513.0" r="4.9" fill="#86b00c"/>
<circle cx="644.9" cy="513.4" r="1.7" fill="#000" opacity="0.8"/>
<circle cx="646.1" cy="514.4" r="1.7" fill="#000" opacity="0.8"/>
<circle cx="646.1" cy="511.6" r="1.1" fill="#000" opacity="0.8"/>
<circle cx="654.8" cy="510.0" r="4.1" fill="#d38d0c"/>
<circle cx="655.4" cy="507.6" r="1.4" fill="#000" opacity="0.8"/>
<circle cx="654.1" cy="509.9" r="1.0" fill="#000" opacity="0.8"/>
<circle cx="660.8" cy="513.6" r="5.1" fill="#9a9b0c"/>
<circle cx="662.9" cy="512.2" r="1.6" fill="#000" opacity="0.8"/>
<circle cx="661.2" cy="513.0" r="1.7" fill="#000" opacity="0.8"/>
<circle cx="662.6" cy="514.4" r="1.0" fill="#000" opacity="0.8"/>
<circle cx="662.0" cy="516.7" r="1.6" fill="#000" opacity="0.8"/>
<circle cx="593.1" cy="518.2" r="4.1" fill="#87790c"/>
<circle cx="591.0" cy="516.7" r="1.2" fill="#000" opacity="0.8"/>
<circle cx="591.9" cy="516.7" r="1.5" fill="#000" opacity="0.8"/>
<circle cx="601.7" cy="520.9" r="4.1" fill="#8dc10c"/>
<circle cx="601.8" cy="520.9" r="1.1" fill="#000" opacity="0.8"/>
<circle cx="604.3" cy="519.8" r="1.2" fill="#000" opacity="0.8"/>
<circle cx="608.0" cy="518.5" r="4.7" fill="#93b30c"/>
<circle cx="606.9" cy="518.0" r="1.6" fill="#000" opacity="0.8"/>
<circle cx="609.4" cy="519.4" r="1.2" fill="#000" opacity="0.8"/>
<circle cx="606.5" cy="520.2" r="1.5" fill="#000" opacity="0.8"/>
<circle cx="614.7" cy="518.6" r="4.0" fill="#2b920c"/>
<circle cx="616.1" cy="516.4" r="1.1" fill="#000" opacity="0.8"/>
<circle cx="617.4" cy="518.2" r="1.6" fill="#000" opacity="0.8"/>
<circle cx="623.3" cy="517.4" r="4.8" fill="#2fab0c"/>
<circle cx="624.1" cy="517.9" r="1.0" fill="#000" opacity="0.8"/>
<circle cx="623.7" cy="519.0" r="0.9" fill="#000" opacity="0.8"/>
<circle cx="621.8" cy="516.4" r="1.2" fill="#000" opacity="0.8"/>
<circle cx="627.3" cy="518.6" r="4.4" fill="#298e0c"/>
<circle cx="627.0" cy="520.0" r="1.0" fill="#000" opacity="0.8"/>
<circle cx="627.4" cy="520.4" r="1.3" fill="#000" opacity="0.8"/>
<circle cx="637.9" cy="520.3" r="4.5" fill="#d8990c"/>
<circle cx="635.5" cy="520.3" r="1.1" fill="#000" opacity="0.8"/>
<circle cx="636.8" cy="517.5" r="1.4" fill="#000" opacity="0.8"/>
<circle cx="639.0" cy="520.9" r="1.3" fill="#000" opacity="0.8"/>
<circle cx="643.8" cy="518.8" r="4.5" fill="#92790c"/>
<circle cx="645.5" cy="521.2" r="1.2" fill="#000" opacity="0.8"/>
<circle cx="646.8" cy="517.9" r="1.6" fill="#000" opacity="0.8"/>
<circle cx="645.2" cy="517.5" r="1.2" fill="#000" opacity="0.8"/>
<circle cx="649.4" cy="520.9" r="4.8" fill="#d69a0c"/>
<circle cx="649.2" cy="520.5" r="1.7" fill="#000" opacity="0.8"/>
<circle cx="647.6" cy="523.0" r="1.1" fill="#000" opacity="0.8"/>
<circle cx="648.1" cy="520.6" r="1.1" fill="#000" opacity="0.8"/>
<circle cx="656.3" cy="517.3" r="4.9" fill="#97b70c"/>
<circle cx="658.6" cy="517.7" r="1.1" fill="#000" opacity="0.8"/>
<circle cx="653.8" cy="516.7" r="1.6" fill="#000" opacity="0.8"/>
<circle cx="656.2" cy="515.0" r="1.1" fill="#000" opacity="0.8"/>
<circle cx="596.8" cy="527.0" r="4.8" fill="#26a80c"/>
<circle cx="593.8" cy="527.3" r="1.0" fill="#000" opacity="0.8"/>
<circle cx="593.6" cy="527.0" r="1.4" fill="#000" opacity="0.8"/>
<circle cx="596.6" cy="527.7" r="1.3" fill="#000" opacity="0.8"/>
<circle cx="603.9" cy="526.7" r="4.6" fill="#97af0c"/>
<circle cx="605.6" cy="529.2" r="1.2" fill="#000" opacity="0.8"/>
<circle cx="601.3" cy="525.0" r="1.4" fill="#000" opacity="0.8"/>
<circle cx="602.5" cy="524.0" r="1.1" fill="#000" opacity="0.8"/>
<circle cx="612.2" cy="525.1" r="4.7" fill="#1f680c"/>
<circle cx="609.7" cy="524.5" r="0.9" fill="#000" opacity="0.8"/>
<circle cx="612.1" cy="522.7" r="1.4" fill="#000" opacity="0.8"/>
<circle cx="609.3" cy="525.9" r="1.3" fill="#000" opacity="0.8"/>
<circle cx="618.6" cy="524.9" r="5.0" fill="#1e9e0c"/>
<circle cx="620.4" cy="523.5" r="1.0" fill="#000" opacity="0.8"/>
<circle cx="618.5" cy="524.8" r="1.4" fill="#000" opacity="0.8"/>
<circle cx="616.4" cy="527.1" r="1.0" fill="#000" opacity="0.8"/>
<circle cx="626.6" cy="525.3" r="5.0" fill="#24850c"/>
<circle cx="625.5" cy="528.0" r="1.2" fill="#000" opacity="0.8"/>
<circle cx="626.1" cy="527.7" r="1.0" fill="#000" opacity="0.8"/>
<circle cx="626.1" cy="526.9" r="1.3" fill="#000" opacity="0.8"/>
<circle cx="633.8" cy="527.4" r="5.2" fill="#c0c00c"/>
<circle cx="634.5" cy="524.3" r="1.4" fill="#000" opacity="0.8"/>
<circle cx="634.1" cy="525.2" r="1.1" fill="#000" opacity="0.8"/>
<circle cx="635.5" cy="528.1" r="1.7" fill="#000" opacity="0.8"/>
<circle cx="636.3" cy="528.6" r="1.6" fill="#000" opacity="0.8"/>
<circle cx="639.5" cy="526.0" r="5.0" fill="#8dbc0c"/>
<circle cx="642.9" cy="526.3" r="1.6" fill="#000" opacity="0.8"/>
<circle cx="642.5" cy="525.1" r="1.2" fill="#000" opacity="0.8"/>
<circle cx="641.3" cy="528.8" r="1.4" fill="#000" opacity="0.8"/>
<circle cx="646.3" cy="526.7" r="4.9" fill="#bc7d0c"/>
<circle cx="648.7" cy="526.7" r="1.2" fill="#000" opacity="0.8"/>
<circle cx="645.5" cy="529.0" r="1.7" fill="#000" opacity="0.8"/>
<circle cx="647.4" cy="525.4" r="1.0" fill="#000" opacity="0.8"/>
<circle cx="654.5" cy="526.2" r="4.5" fill="#bba40c"/>
<circle cx="654.4" cy="523.1" r="1.1" fill="#000" opacity="0.8"/>
<circle cx="653.7" cy="529.0" r="1.4" fill="#000" opacity="0.8"/>
<circle cx="652.5" cy="525.5" r="1.6" fill="#000" opacity="0.8"/>
<circle cx="661.5" cy="526.4" r="4.0" fill="#bc7c0c"/>
<circle cx="660.7" cy="527.5" r="1.6" fill="#000" opacity="0.8"/>
<circle cx="659.2" cy="527.2" r="1.3" fill="#000" opacity="0.8"/>
<circle cx="593.7" cy="533.5" r="4.8" fill="#206b0c"/>
<circle cx="590.9" cy="532.6" r="1.5" fill="#000" opacity="0.8"/>
<circle cx="594.9" cy="532.2" r="1.7" fill="#000" opacity="0.8"/>
<circle cx="591.0" cy="532.3" r="1.5" fill="#000" opacity="0.8"/>
<circle cx="600.8" cy="531.8" r="4.4" fill="#0f760c"/>
<circle cx="600.5" cy="532.8" r="1.3" fill="#000" opacity="0.8"/>
<circle cx="598.8" cy="531.2" r="1.7" fill="#000" opacity="0.8"/>
<circle cx="606.7" cy="531.0" r="4.7" fill="#1b990c"/>
<circle cx="604.9" cy="528.7" r="1.5" fill="#000" opacity="0.8"/>
<circle cx="609.3" cy="532.7" r="1.2" fill="#000" opacity="0.8"/>
<circle cx="605.7" cy="532.3" r="1.7" fill="#000" opacity="0.8"/>
<circle cx="613.9" cy="534.5" r="4.5" fill="#77830c"/>
<circle cx="612.1" cy="532.1" r="1.7" fill="#000" opacity="0.8"/>
<circle cx="612.4" cy="536.6" r="1.4" fill="#000" opacity="0.8"/>
<circle cx="616.0" cy="536.4" r="1.1" fill="#000" opacity="0.8"/>
<circle cx="621.5" cy="531.4" r="4.4" fill="#c6720c"/>
<circle cx="622.9" cy="530.2" r="1.6" fill="#000" opacity="0.8"/>
<circle cx="618.8" cy="530.9" r="1.6" fill="#000" opacity="0.8"/>
<circle cx="620.2" cy="529.9" r="1.4" fill="#000" opacity="0.8"/>
<circle cx="629.4" cy="531.3" r="4.4" fill="#af9f0c"/>
<circle cx="629.3" cy="528.8" r="1.3" fill="#000" opacity="0.8"/>
<circle cx="628.0" cy="533.0" r="1.0" fill="#000" opacity="0.8"/>
<circle cx="637.7" cy="534.2" r="5.0" fill="#a3a40c"/>
<circle cx="640.4" cy="536.4" r="1.2" fill="#000" opacity="0.8"/>
<circle cx="635.6" cy="534.8" r="1.2" fill="#000" opacity="0.8"/>
<circle cx="636.8" cy="536.4" r="1.5" fill="#000" opacity="0.8"/>
<circle cx="642.4" cy="531.5" r="4.7" fill="#b7c00c"/>
<circle cx="644.6" cy="533.4" r="1.1" fill="#000" opacity="0.8"/>
<circle cx="639.7" cy="530.8" r="1.3" fill="#000" opacity="0.8"/>
<circle cx="645.3" cy="532.2" r="0.9" fill="#000" opacity="0.8"/>
<circle cx="651.8" cy="533.3" r="5.1" fill="#976d0c"/>
<circle cx="655.0" cy="532.8" r="1.3" fill="#000" opacity="0.8"/>
<circle cx="649.2" cy="533.5" r="1.1" fill="#000" opacity="0.8"/>
<circle cx="649.3" cy="530.8" r="1.7" fill="#000" opacity="0.8"/>
<circle cx="655.3" cy="533.2" r="4.2" fill="#b6a40c"/>
<circle cx="655.0" cy="535.4" r="1.2" fill="#000" opacity="0.8"/>
<circle cx="654.0" cy="535.1" r="1.3" fill="#000" opacity="0.8"/>
<circle cx="599.0" cy="539.4" r="4.3" fill="#19ba0c"/>
<circle cx="599.6" cy="540.1" r="1.2" fill="#000" opacity="0.8"/>
<circle cx="598.8" cy="538.9" r="1.1" fill="#000" opacity="0.8"/>
<circle cx="603.9" cy="541.7" r="4.3" fill="#25bb0c"/>
<circle cx="605.1" cy="543.5" r="1.3" fill="#000" opacity="0.8"/>
<circle cx="604.6" cy="539.5" r="1.2" fill="#000" opacity="0.8"/>
<circle cx="611.4" cy="539.6" r="5.2" fill="#98970c"/>
<circle cx="610.6" cy="538.2" r="1.6" fill="#000" opacity="0.8"/>
<circle cx="609.1" cy="541.5" r="1.4" fill="#000" opacity="0.8"/>
<circle cx="614.1" cy="539.5" r="1.3" fill="#000" opacity="0.8"/>
<circle cx="611.6" cy="540.8" r="1.5" fill="#000" opacity="0.8"/>
<circle cx="617.5" cy="539.8" r="4.7" fill="#85920c"/>
<circle cx="618.6" cy="542.0" r="1.3" fill="#000" opacity="0.8"/>
<circle cx="619.1" cy="538.0" r="1.6" fill="#000" opacity="0.8"/>
<circle cx="617.3" cy="540.8" r="1.0" fill="#000" opacity="0.8"/>
<circle cx="624.6" cy="541.0" r="4.0" fill="#c99d0c"/>
<circle cx="627.1" cy="541.5" r="1.4" fill="#000" opacity="0.8"/>
<circle cx="625.5" cy="540.2" r="1.3" fill="#000" opacity="0.8"/>
<circle cx="631.5" cy="541.6" r="4.3" fill="#c3860c"/>
<circle cx="633.4" cy="541.6" r="0.9" fill="#000" opacity="0.8"/>
<circle cx="632.3" cy="541.7" r="1.5" fill="#000" opacity="0.8"/>
<circle cx="638.0" cy="541.9" r="4.7" fill="#95950c"/>
<circle cx="636.9" cy="539.4" r="1.5" fill="#000" opacity="0.8"/>
<circle cx="637.4" cy="543.8" r="1.5" fill="#000" opacity="0.8"/>
<circle cx="640.6" cy="540.8" r="1.2" fill="#000" opacity="0.8"/>
<circle cx="647.0" cy="540.3" r="4.9" fill="#10800c"/>
<circle cx="646.4" cy="543.6" r="1.0" fill="#000" opacity="0.8"/>
<circle cx="648.2" cy="541.6" r="1.3" fill="#000" opacity="0.8"/>
<circle cx="647.2" cy="542.6" r="1.6" fill="#000" opacity="0.8"/>
<circle cx="653.5" cy="539.2" r="4.6" fill="#1e860c"/>
<circle cx="651.8" cy="537.8" r="1.6" fill="#000" opacity="0.8"/>
<circle cx="652.0" cy="539.6" r="1.3" fill="#000" opacity="0.8"/>
<circle cx="652.4" cy="536.9" r="1.4" fill="#000" opacity="0.8"/>
<circle cx="661.4" cy="540.3" r="4.5" fill="#19b50c"/>
<circle cx="662.7" cy="538.7" r="1.5" fill="#000" opacity="0.8"/>
<circle cx="660.9" cy="542.6" r="1.1" fill="#000" opacity="0.8"/>
<circle cx="659.6" cy="538.3" r="1.6" fill="#000" opacity="0.8"/>
<circle cx="595.5" cy="547.1" r="4.9" fill="#7a900c"/>
<circle cx="598.8" cy="548.1" r="1.0" fill="#000" opacity="0.8"/>
<circle cx="596.0" cy="550.1" r="1.4" fill="#000" opacity="0.8"/>
<circle cx="592.4" cy="546.0" r="1.2" fill="#000" opacity="0.8"/>
<circle cx="601.2" cy="547.7" r="4.6" fill="#babc0c"/>
<circle cx="599.3" cy="545.3" r="1.4" fill="#000" opacity="0.8"/>
<circle cx="603.6" cy="549.3" r="1.7" fill="#000" opacity="0.8"/>
<circle cx="601.2" cy="548.1" r="1.6" fill="#000" opacity="0.8"/>
<circle cx="607.4" cy="546.5" r="4.4" fill="#17ae0c"/>
<circle cx="610.4" cy="545.7" r="1.0" fill="#000" opacity="0.8"/>
<circle cx="609.5" cy="547.7" r="1.6" fill="#000" opacity="0.8"/>
<circle cx="613.2" cy="548.2" r="4.5" fill="#bb870c"/>
<circle cx="614.7" cy="550.0" r="1.4" fill="#000" opacity="0.8"/>
<circle cx="615.0" cy="548.0" r="1.3" fill="#000" opacity="0.8"/>
<circle cx="613.9" cy="550.7" r="1.2" fill="#000" opacity="0.8"/>
<circle cx="623.0" cy="548.5" r="4.6" fill="#879b0c"/>
<circle cx="624.1" cy="547.1" r="1.2" fill="#000" opacity="0.8"/>
<circle cx="621.4" cy="547.7" r="1.7" fill="#000" opacity="0.8"/>
<circle cx="622.4" cy="549.9" r="1.3" fill="#000" opacity="0.8"/>
<circle cx="628.9" cy="546.2" r="4.7" fill="#8bb20c"/>
<circle cx="629.3" cy="547.3" r="0.9" fill="#000" opacity="0.8"/>
<circle cx="628.8" cy="549.4" r="1.3" fill="#000" opacity="0.8"/>
<circle cx="631.4" cy="546.5" r="0.9" fill="#000" opacity="0.8"/>
<circle cx="634.2" cy="545.8" r="5.0" fill="#caa80c"/>
<circle cx="633.6" cy="546.9" r="1.0" fill="#000" opacity="0.8"/>
<circle cx="634.0" cy="544.0" r="1.3" fill="#000" opacity="0.8"/>
<circle cx="632.7" cy="546.0" r="1.3" fill="#000" opacity="0.8"/>
<circle cx="641.0" cy="547.8" r="5.2" fill="#daac0c"/>
<circle cx="639.1" cy="550.0" r="1.0" fill="#000" opacity="0.8"/>
<circle cx="643.6" cy="546.2" r="1.1" fill="#000" opacity="0.8"/>
<circle cx="642.6" cy="547.6" r="1.4" fill="#000" opacity="0.8"/>
<circle cx="641.7" cy="546.6" r="1.7" fill="#000" opacity="0.8"/>
<circle cx="599.2" cy="554.7" r="4.4" fill="#8abb0c"/>
<circle cx="601.2" cy="556.7" r="1.3" fill="#000" opacity="0.8"/>
<circle cx="601.2" cy="554.5" r="1.3" fill="#000" opacity="0.8"/>
<circle cx="603.0" cy="554.3" r="4.2" fill="#a2a20c"/>
<circle cx="605.6" cy="554.3" r="1.6" fill="#000" opacity="0.8"/>
<circle cx="605.2" cy="554.0" r="1.7" fill="#000" opacity="0.8"/>
<circle cx="609.6" cy="552.3" r="4.1" fill="#9a720c"/>
<circle cx="608.8" cy="550.9" r="1.1" fill="#000" opacity="0.8"/>
<circle cx="609.3" cy="550.6" r="1.0" fill="#000" opacity="0.8"/>
<circle cx="618.7" cy="554.9" r="4.2" fill="#ce940c"/>
<circle cx="617.0" cy="553.3" r="1.6" fill="#000" opacity="0.8"/>
<circle cx="620.7" cy="553.0" r="1.5" fill="#000" opacity="0.8"/>
<circle cx="624.7" cy="554.3" r="5.1" fill="#a88d0c"/>
<circle cx="623.2" cy="554.3" r="1.3" fill="#000" opacity="0.8"/>
<circle cx="627.7" cy="553.0" r="1.5" fill="#000" opacity="0.8"/>
<circle cx="624.1" cy="557.8" r="1.2" fill="#000" opacity="0.8"/>
<circle cx="626.4" cy="556.1" r="1.1" fill="#000" opacity="0.8"/>
<circle cx="630.6" cy="554.7" r="4.8" fill="#88970c"/>
<circle cx="633.7" cy="554.8" r="1.1" fill="#000" opacity="0.8"/>
<circle cx="631.7" cy="554.2" r="1.5" fill="#000" opacity="0.8"/>
<circle cx="633.0" cy="554.0" r="1.0" fill="#000" opacity="0.8"/>
<circle cx="592.4" cy="559.8" r="4.9" fill="#9a7c0c"/>
<circle cx="593.3" cy="556.9" r="1.6" fill="#000" opacity="0.8"/>
<circle cx="592.3" cy="561.1" r="1.1" fill="#000" opacity="0.8"/>
<circle cx="591.6" cy="561.8" r="1.0" fill="#000" opacity="0.8"/>
<circle cx="601.8" cy="561.5" r="4.8" fill="#7e730c"/>
<circle cx="602.6" cy="564.6" r="1.3" fill="#000" opacity="0.8"/>
<circle cx="599.6" cy="560.4" r="1.7" fill="#000" opacity="0.8"/>
<circle cx="601.2" cy="561.7" r="1.2" fill="#000" opacity="0.8"/>
<circle cx="606.4" cy="561.3" r="5.1" fill="#90950c"/>
<circle cx="607.4" cy="564.0" r="1.4" fill="#000" opacity="0.8"/>
<circle cx="605.3" cy="563.8" r="1.7" fill="#000" opacity="0.8"/>
<circle cx="608.3" cy="562.1" r="0.9" fill="#000" opacity="0.8"/>
<circle cx="614.2" cy="562.1" r="4.9" fill="#78700c"/>
<circle cx="612.6" cy="562.6" r="0.9" fill="#000" opacity="0.8"/>
<circle cx="611.4" cy="560.5" r="1.1" fill="#000" opacity="0.8"/>
<circle cx="616.7" cy="561.3" r="1.3" fill="#000" opacity="0.8"/>
<circle cx="620.5" cy="562.7" r="4.3" fill="#b8780c"/>
<circle cx="622.4" cy="564.5" r="1.3" fill="#000" opacity="0.8"/>
<circle cx="621.3" cy="560.1" r="1.0" fill="#000" opacity="0.8"/>
<circle cx="630.8" cy="561.6" r="4.2" fill="#caa40c"/>
<circle cx="628.9" cy="561.5" r="1.4" fill="#000" opacity="0.8"/>
<circle cx="630.9" cy="562.6" r="1.5" fill="#000" opacity="0.8"/>
<circle cx="635.3" cy="559.8" r="4.7" fill="#988b0c"/>
<circle cx="636.0" cy="557.8" r="1.3" fill="#000" opacity="0.8"/>
<circle cx="634.2" cy="558.6" r="1.0" fill="#000" opacity="0.8"/>
<circle cx="633.5" cy="558.6" r="1.3" fill="#000" opacity="0.8"/>
<circle cx="627.9" cy="516.6" r="2.3" fill="#3a80ff" opacity="0.9"/>
<circle cx="647.4" cy="531.6" r="2.1" fill="#3a80ff" opacity="0.9"/>
<circle cx="607.1" cy="518.1" r="1.8" fill="#3a80ff" opacity="0.9"/>
<circle cx="634.2" cy="517.6" r="2.3" fill="#3a80ff" opacity="0.9"/>
<circle cx="598.9" cy="516.5" r="1.7" fill="#3a80ff" opacity="0.9"/>
<circle cx="638.6" cy="526.1" r="1.9" fill="#3a80ff" opacity="0.9"/>
<circle cx="613.4" cy="541.0" r="1.9" fill="#3a80ff" opacity="0.9"/>
<circle cx="606.7" cy="529.6" r="1.8" fill="#3a80ff" opacity="0.9"/>
<circle cx="601.2" cy="551.2" r="2.1" fill="#3a80ff" opacity="0.9"/>
<circle cx="632.7" cy="554.4" r="1.9" fill="#3a80ff" opacity="0.9"/>
<circle cx="616.4" cy="529.2" r="1.9" fill="#3a80ff" opacity="0.9"/>
<circle cx="632.9" cy="506.3" r="1.9" fill="#3a80ff" opacity="0.9"/>
<circle cx="625.3" cy="524.9" r="1.6" fill="#3a80ff" opacity="0.9"/>
<circle cx="634.9" cy="506.4" r="2.0" fill="#3a80ff" opacity="0.9"/>
<circle cx="603.6" cy="507.8" r="1.7" fill="#3a80ff" opacity="0.9"/>
<circle cx="598.6" cy="514.2" r="2.1" fill="#3a80ff" opacity="0.9"/>
<circle cx="636.3" cy="525.9" r="2.1" fill="#3a80ff" opacity="0.9"/>
<circle cx="621.9" cy="533.3" r="2.2" fill="#3a80ff" opacity="0.9"/>
<circle cx="612.6" cy="553.7" r="2.1" fill="#3a80ff" opacity="0.9"/>
<circle cx="633.7" cy="506.2" r="1.7" fill="#3a80ff" opacity="0.9"/>
<circle cx="596.7" cy="524.9" r="2.3" fill="#3a80ff" opacity="0.9"/>
<circle cx="644.6" cy="552.0" r="1.7" fill="#3a80ff" opacity="0.9"/>
<circle cx="635.0" cy="548.5" r="2.2" fill="#3a80ff" opacity="0.9"/>
<circle cx="639.9" cy="513.6" r="1.7" fill="#3a80ff" opacity="0.9"/>
<circle cx="639.9" cy="546.5" r="2.2" fill="#3a80ff" opacity="0.9"/>
<circle cx="620.3" cy="554.8" r="1.7" fill="#3a80ff" opacity="0.9"/>
<circle cx="649.3" cy="554.5" r="1.8" fill="#3a80ff" opacity="0.9"/>
<circle cx="598.7" cy="536.1" r="2.1" fill="#3a80ff" opacity="0.9"/>
<circle cx="614.8" cy="509.1" r="1.8" fill="#3a80ff" opacity="0.9"/>
<circle cx="641.7" cy="510.9" r="2.3" fill="#3a80ff" opacity="0.9"/>
<circle cx="609.1" cy="517.1" r="1.7" fill="#3a80ff" opacity="0.9"/>
<circle cx="650.6" cy="555.5" r="1.8" fill="#3a80ff" opacity="0.9"/>
<circle cx="600.3" cy="541.8" r="2.2" fill="#3a80ff" opacity="0.9"/>
<circle cx="595.6" cy="540.7" r="2.2" fill="#3a80ff" opacity="0.9"/>
<circle cx="621.0" cy="537.2" r="2.2" fill="#3a80ff" opacity="0.9"/>
<circle cx="608.4" cy="520.9" r="2.1" fill="#3a80ff" opacity="0.9"/>
</g></g>
<line x1="635.7" y1="559.4" x2="648.7" y2="559.4" stroke="#fff" stroke-width="1"/>
<text x="642.2" y="557.9" font-size="4.6" text-anchor="middle" fill="#e8e8e8" font-family="Liberation Serif" font-weight="bold">25 µm</text>
<rect x="411.7" y="563.4" width="58.8" height="57.3" fill="#000" stroke="none" stroke-width="1"/>
<g clip-path="url(#mclip20)"><g filter="url(#mblur)">
<rect x="411.7" y="563.4" width="58.8" height="57" fill="#062806" opacity="0.5"/>
<circle cx="463.6" cy="573.7" r="4.4" fill="#13a513"/>
<circle cx="465.1" cy="571.7" r="1.2" fill="#000" opacity="0.8"/>
<circle cx="461.7" cy="575.8" r="1.4" fill="#000" opacity="0.8"/>
<circle cx="442.2" cy="567.0" r="3.5" fill="#108e10"/>
<circle cx="443.1" cy="567.2" r="1.6" fill="#000" opacity="0.8"/>
<circle cx="444.6" cy="567.6" r="1.2" fill="#000" opacity="0.8"/>
<circle cx="465.3" cy="573.1" r="4.6" fill="#0f810f"/>
<circle cx="467.7" cy="574.2" r="1.7" fill="#000" opacity="0.8"/>
<circle cx="462.2" cy="573.9" r="1.0" fill="#000" opacity="0.8"/>
<circle cx="462.2" cy="572.7" r="1.2" fill="#000" opacity="0.8"/>
<circle cx="465.3" cy="575.3" r="4.1" fill="#129f12"/>
<circle cx="466.7" cy="573.8" r="1.6" fill="#000" opacity="0.8"/>
<circle cx="464.5" cy="576.0" r="1.6" fill="#000" opacity="0.8"/>
<circle cx="430.9" cy="567.9" r="4.1" fill="#119911"/>
<circle cx="430.4" cy="568.6" r="1.4" fill="#000" opacity="0.8"/>
<circle cx="431.4" cy="568.2" r="1.4" fill="#000" opacity="0.8"/>
<circle cx="430.8" cy="569.5" r="3.9" fill="#108b10"/>
<circle cx="431.6" cy="569.0" r="0.9" fill="#000" opacity="0.8"/>
<circle cx="432.0" cy="571.7" r="0.9" fill="#000" opacity="0.8"/>
<circle cx="434.7" cy="573.1" r="3.5" fill="#15bc15"/>
<circle cx="435.9" cy="572.3" r="1.0" fill="#000" opacity="0.8"/>
<circle cx="436.6" cy="572.6" r="1.0" fill="#000" opacity="0.8"/>
<circle cx="467.6" cy="576.4" r="4.5" fill="#129f12"/>
<circle cx="469.3" cy="575.4" r="1.0" fill="#000" opacity="0.8"/>
<circle cx="466.4" cy="575.8" r="1.0" fill="#000" opacity="0.8"/>
<circle cx="466.4" cy="576.1" r="1.5" fill="#000" opacity="0.8"/>
<circle cx="429.2" cy="576.1" r="3.9" fill="#14ac14"/>
<circle cx="430.5" cy="578.0" r="0.9" fill="#000" opacity="0.8"/>
<circle cx="428.9" cy="577.0" r="1.5" fill="#000" opacity="0.8"/>
<circle cx="431.3" cy="568.6" r="3.5" fill="#108f10"/>
<circle cx="430.8" cy="568.7" r="1.6" fill="#000" opacity="0.8"/>
<circle cx="431.4" cy="566.8" r="1.6" fill="#000" opacity="0.8"/>
<circle cx="442.5" cy="581.0" r="4.0" fill="#119511"/>
<circle cx="440.4" cy="581.3" r="1.5" fill="#000" opacity="0.8"/>
<circle cx="441.3" cy="581.3" r="1.2" fill="#000" opacity="0.8"/>
<circle cx="437.0" cy="577.1" r="4.6" fill="#108b10"/>
<circle cx="434.5" cy="578.5" r="0.9" fill="#000" opacity="0.8"/>
<circle cx="435.1" cy="578.9" r="1.6" fill="#000" opacity="0.8"/>
<circle cx="438.3" cy="576.2" r="1.4" fill="#000" opacity="0.8"/>
<circle cx="455.2" cy="580.4" r="4.5" fill="#129c12"/>
<circle cx="452.7" cy="581.9" r="1.1" fill="#000" opacity="0.8"/>
<circle cx="456.3" cy="579.8" r="1.4" fill="#000" opacity="0.8"/>
<circle cx="458.3" cy="580.1" r="1.6" fill="#000" opacity="0.8"/>
<circle cx="424.0" cy="566.4" r="4.7" fill="#129b12"/>
<circle cx="424.3" cy="565.1" r="1.1" fill="#000" opacity="0.8"/>
<circle cx="422.4" cy="566.4" r="1.6" fill="#000" opacity="0.8"/>
<circle cx="421.8" cy="567.1" r="0.9" fill="#000" opacity="0.8"/>
<circle cx="449.4" cy="581.2" r="4.3" fill="#119711"/>
<circle cx="451.1" cy="578.9" r="1.6" fill="#000" opacity="0.8"/>
<circle cx="451.4" cy="582.4" r="1.2" fill="#000" opacity="0.8"/>
<circle cx="427.0" cy="579.8" r="4.2" fill="#16bd16"/>
<circle cx="426.4" cy="577.0" r="1.0" fill="#000" opacity="0.8"/>
<circle cx="426.8" cy="580.8" r="1.1" fill="#000" opacity="0.8"/>
<circle cx="435.1" cy="566.2" r="4.1" fill="#0f840f"/>
<circle cx="434.2" cy="567.6" r="1.6" fill="#000" opacity="0.8"/>
<circle cx="436.0" cy="564.4" r="1.4" fill="#000" opacity="0.8"/>
<circle cx="442.8" cy="570.3" r="3.6" fill="#0f830f"/>
<circle cx="442.0" cy="570.6" r="1.7" fill="#000" opacity="0.8"/>
<circle cx="442.9" cy="569.8" r="1.2" fill="#000" opacity="0.8"/>
<circle cx="435.7" cy="592.4" r="6.0" fill="#0f810f"/>
<circle cx="436.5" cy="595.5" r="1.2" fill="#000" opacity="0.8"/>
<circle cx="433.7" cy="589.9" r="1.0" fill="#000" opacity="0.8"/>
<circle cx="434.4" cy="595.0" r="1.7" fill="#000" opacity="0.8"/>
<circle cx="433.6" cy="594.0" r="1.3" fill="#000" opacity="0.8"/>
<circle cx="434.3" cy="595.9" r="1.0" fill="#000" opacity="0.8"/>
<circle cx="457.7" cy="593.4" r="5.0" fill="#0d760d"/>
<circle cx="459.2" cy="592.6" r="0.9" fill="#000" opacity="0.8"/>
<circle cx="459.6" cy="591.6" r="0.9" fill="#000" opacity="0.8"/>
<circle cx="457.5" cy="590.3" r="1.7" fill="#000" opacity="0.8"/>
<circle cx="441.7" cy="599.4" r="3.0" fill="#0a560a"/>
<circle cx="439.8" cy="600.3" r="1.0" fill="#000" opacity="0.8"/>
<circle cx="443.5" cy="598.4" r="1.5" fill="#000" opacity="0.8"/>
<circle cx="446.7" cy="608.4" r="6.0" fill="#0d760d"/>
<circle cx="445.0" cy="605.6" r="1.0" fill="#000" opacity="0.8"/>
<circle cx="450.4" cy="608.3" r="1.4" fill="#000" opacity="0.8"/>
<circle cx="444.8" cy="607.2" r="1.5" fill="#000" opacity="0.8"/>
<circle cx="444.5" cy="611.1" r="0.9" fill="#000" opacity="0.8"/>
<circle cx="448.9" cy="608.3" r="1.7" fill="#000" opacity="0.8"/>
<circle cx="464.7" cy="609.4" r="3.5" fill="#0a560a"/>
<circle cx="465.2" cy="611.4" r="1.1" fill="#000" opacity="0.8"/>
<circle cx="463.8" cy="609.3" r="1.1" fill="#000" opacity="0.8"/>
<circle cx="422.2" cy="601.2" r="3.8" fill="#0d730d"/>
<circle cx="421.2" cy="603.0" r="1.4" fill="#000" opacity="0.8"/>
<circle cx="421.4" cy="602.3" r="1.1" fill="#000" opacity="0.8"/>
<circle cx="430.2" cy="585.6" r="4.1" fill="#109010"/>
<circle cx="430.7" cy="583.3" r="0.9" fill="#000" opacity="0.8"/>
<circle cx="430.1" cy="583.6" r="1.0" fill="#000" opacity="0.8"/>
<circle cx="462.1" cy="589.8" r="3.0" fill="#0d730d"/>
<circle cx="460.8" cy="591.5" r="1.5" fill="#000" opacity="0.8"/>
<circle cx="461.9" cy="588.8" r="1.0" fill="#000" opacity="0.8"/>
<circle cx="445.3" cy="596.1" r="4.3" fill="#0f810f"/>
<circle cx="443.4" cy="594.7" r="1.6" fill="#000" opacity="0.8"/>
<circle cx="445.9" cy="598.2" r="1.6" fill="#000" opacity="0.8"/>
<circle cx="429.8" cy="598.9" r="4.7" fill="#0a5c0a"/>
<circle cx="431.6" cy="598.4" r="1.5" fill="#000" opacity="0.8"/>
<circle cx="429.5" cy="599.6" r="1.4" fill="#000" opacity="0.8"/>
<circle cx="429.9" cy="601.5" r="1.1" fill="#000" opacity="0.8"/>
<circle cx="430.0" cy="584.8" r="4.5" fill="#0f880f"/>
<circle cx="428.9" cy="583.1" r="1.4" fill="#000" opacity="0.8"/>
<circle cx="427.0" cy="584.8" r="1.0" fill="#000" opacity="0.8"/>
<circle cx="429.4" cy="582.4" r="1.5" fill="#000" opacity="0.8"/>
<circle cx="419.3" cy="584.6" r="3.5" fill="#095109"/>
<circle cx="417.8" cy="583.3" r="1.7" fill="#000" opacity="0.8"/>
<circle cx="419.3" cy="584.0" r="1.5" fill="#000" opacity="0.8"/>
<circle cx="445.6" cy="591.0" r="3.1" fill="#0e7f0e"/>
<circle cx="447.8" cy="591.1" r="1.1" fill="#000" opacity="0.8"/>
<circle cx="445.1" cy="591.4" r="1.1" fill="#000" opacity="0.8"/>
<circle cx="423.5" cy="592.6" r="3.7" fill="#095209"/>
<circle cx="423.2" cy="594.7" r="1.2" fill="#000" opacity="0.8"/>
<circle cx="421.4" cy="593.4" r="0.9" fill="#000" opacity="0.8"/>
<circle cx="430.2" cy="610.7" r="4.1" fill="#108e10"/>
<circle cx="427.8" cy="610.4" r="1.6" fill="#000" opacity="0.8"/>
<circle cx="432.9" cy="610.2" r="1.1" fill="#000" opacity="0.8"/>
<circle cx="456.4" cy="603.8" r="3.9" fill="#0f880f"/>
<circle cx="454.4" cy="602.4" r="1.3" fill="#000" opacity="0.8"/>
<circle cx="457.8" cy="605.6" r="1.0" fill="#000" opacity="0.8"/>
<circle cx="467.8" cy="609.8" r="4.4" fill="#0b5f0b"/>
<circle cx="470.6" cy="611.0" r="1.4" fill="#000" opacity="0.8"/>
<circle cx="467.8" cy="608.7" r="1.0" fill="#000" opacity="0.8"/>
<circle cx="434.2" cy="586.5" r="3.1" fill="#0a570a"/>
<circle cx="433.6" cy="586.1" r="1.4" fill="#000" opacity="0.8"/>
<circle cx="434.0" cy="586.2" r="1.3" fill="#000" opacity="0.8"/>
<circle cx="451.4" cy="592.5" r="3.1" fill="#0f840f"/>
<circle cx="449.7" cy="591.6" r="1.7" fill="#000" opacity="0.8"/>
<circle cx="451.8" cy="591.7" r="1.4" fill="#000" opacity="0.8"/>
<circle cx="413.3" cy="583.4" r="3.3" fill="#0b660b"/>
<circle cx="413.4" cy="581.1" r="1.3" fill="#000" opacity="0.8"/>
<circle cx="414.2" cy="583.9" r="1.1" fill="#000" opacity="0.8"/>
<circle cx="467.5" cy="605.3" r="3.5" fill="#0c6b0c"/>
<circle cx="468.3" cy="605.7" r="0.9" fill="#000" opacity="0.8"/>
<circle cx="468.9" cy="604.2" r="1.5" fill="#000" opacity="0.8"/>
</g></g>
<line x1="453.5" y1="618.2" x2="466.5" y2="618.2" stroke="#fff" stroke-width="1"/>
<text x="460.0" y="616.7" font-size="4.6" text-anchor="middle" fill="#e8e8e8" font-family="Liberation Serif" font-weight="bold">25 µm</text>
<rect x="472.7" y="563.4" width="58.9" height="57.3" fill="#000" stroke="none" stroke-width="1"/>
<g clip-path="url(#mclip21)"><g filter="url(#mblur)">
<rect x="472.7" y="563.4" width="58.8" height="57" fill="#200303" opacity="0.3"/>
<circle cx="524.6" cy="573.7" r="4.4" fill="#c9110d"/>
<circle cx="526.1" cy="571.7" r="1.2" fill="#000" opacity="0.8"/>
<circle cx="522.7" cy="575.8" r="1.4" fill="#000" opacity="0.8"/>
<circle cx="503.2" cy="567.0" r="3.5" fill="#8a0c09"/>
<circle cx="504.1" cy="567.2" r="1.6" fill="#000" opacity="0.8"/>
<circle cx="505.6" cy="567.6" r="1.2" fill="#000" opacity="0.8"/>
<circle cx="526.3" cy="573.1" r="4.6" fill="#b10f0b"/>
<circle cx="528.7" cy="574.2" r="1.7" fill="#000" opacity="0.8"/>
<circle cx="523.2" cy="573.9" r="1.0" fill="#000" opacity="0.8"/>
<circle cx="523.2" cy="572.7" r="1.2" fill="#000" opacity="0.8"/>
<circle cx="526.3" cy="575.3" r="4.1" fill="#8f0c09"/>
<circle cx="527.7" cy="573.8" r="1.6" fill="#000" opacity="0.8"/>
<circle cx="525.5" cy="576.0" r="1.6" fill="#000" opacity="0.8"/>
<circle cx="491.9" cy="567.9" r="4.1" fill="#d6130e"/>
<circle cx="491.4" cy="568.6" r="1.4" fill="#000" opacity="0.8"/>
<circle cx="492.4" cy="568.2" r="1.4" fill="#000" opacity="0.8"/>
<circle cx="491.8" cy="569.5" r="3.9" fill="#a00e0a"/>
<circle cx="492.6" cy="569.0" r="0.9" fill="#000" opacity="0.8"/>
<circle cx="493.0" cy="571.7" r="0.9" fill="#000" opacity="0.8"/>
<circle cx="495.7" cy="573.1" r="3.5" fill="#a80e0b"/>
<circle cx="496.9" cy="572.3" r="1.0" fill="#000" opacity="0.8"/>
<circle cx="497.6" cy="572.6" r="1.0" fill="#000" opacity="0.8"/>
<circle cx="528.6" cy="576.4" r="4.5" fill="#dc130e"/>
<circle cx="530.3" cy="575.4" r="1.0" fill="#000" opacity="0.8"/>
<circle cx="527.4" cy="575.8" r="1.0" fill="#000" opacity="0.8"/>
<circle cx="527.4" cy="576.1" r="1.5" fill="#000" opacity="0.8"/>
<circle cx="490.2" cy="576.1" r="3.9" fill="#c8110d"/>
<circle cx="491.5" cy="578.0" r="0.9" fill="#000" opacity="0.8"/>
<circle cx="489.9" cy="577.0" r="1.5" fill="#000" opacity="0.8"/>
<circle cx="492.3" cy="568.6" r="3.5" fill="#8e0c09"/>
<circle cx="491.8" cy="568.7" r="1.6" fill="#000" opacity="0.8"/>
<circle cx="492.4" cy="566.8" r="1.6" fill="#000" opacity="0.8"/>
<circle cx="503.5" cy="581.0" r="4.0" fill="#b10f0b"/>
<circle cx="501.4" cy="581.3" r="1.5" fill="#000" opacity="0.8"/>
<circle cx="502.3" cy="581.3" r="1.2" fill="#000" opacity="0.8"/>
<circle cx="498.0" cy="577.1" r="4.6" fill="#9c0d0a"/>
<circle cx="495.5" cy="578.5" r="0.9" fill="#000" opacity="0.8"/>
<circle cx="496.1" cy="578.9" r="1.6" fill="#000" opacity="0.8"/>
<circle cx="499.3" cy="576.2" r="1.4" fill="#000" opacity="0.8"/>
<circle cx="516.2" cy="580.4" r="4.5" fill="#de130e"/>
<circle cx="513.7" cy="581.9" r="1.1" fill="#000" opacity="0.8"/>
<circle cx="517.3" cy="579.8" r="1.4" fill="#000" opacity="0.8"/>
<circle cx="519.3" cy="580.1" r="1.6" fill="#000" opacity="0.8"/>
<circle cx="485.0" cy="566.4" r="4.7" fill="#8b0c09"/>
<circle cx="485.3" cy="565.1" r="1.1" fill="#000" opacity="0.8"/>
<circle cx="483.4" cy="566.4" r="1.6" fill="#000" opacity="0.8"/>
<circle cx="482.8" cy="567.1" r="0.9" fill="#000" opacity="0.8"/>
<circle cx="510.4" cy="581.2" r="4.3" fill="#8f0c09"/>
<circle cx="512.1" cy="578.9" r="1.6" fill="#000" opacity="0.8"/>
<circle cx="512.4" cy="582.4" r="1.2" fill="#000" opacity="0.8"/>
<circle cx="488.0" cy="579.8" r="4.2" fill="#8b0c09"/>
<circle cx="487.4" cy="577.0" r="1.0" fill="#000" opacity="0.8"/>
<circle cx="487.8" cy="580.8" r="1.1" fill="#000" opacity="0.8"/>
<circle cx="496.1" cy="566.2" r="4.1" fill="#9d0e0a"/>
<circle cx="495.2" cy="567.6" r="1.6" fill="#000" opacity="0.8"/>
<circle cx="497.0" cy="564.4" r="1.4" fill="#000" opacity="0.8"/>
<circle cx="503.8" cy="570.3" r="3.6" fill="#de130e"/>
<circle cx="503.0" cy="570.6" r="1.7" fill="#000" opacity="0.8"/>
<circle cx="503.9" cy="569.8" r="1.2" fill="#000" opacity="0.8"/>
<circle cx="496.7" cy="592.4" r="6.0" fill="#ca120d"/>
<circle cx="497.5" cy="595.5" r="1.2" fill="#000" opacity="0.8"/>
<circle cx="494.7" cy="589.9" r="1.0" fill="#000" opacity="0.8"/>
<circle cx="495.4" cy="595.0" r="1.7" fill="#000" opacity="0.8"/>
<circle cx="494.6" cy="594.0" r="1.3" fill="#000" opacity="0.8"/>
<circle cx="495.3" cy="595.9" r="1.0" fill="#000" opacity="0.8"/>
<circle cx="518.7" cy="593.4" r="5.0" fill="#bf110c"/>
<circle cx="520.2" cy="592.6" r="0.9" fill="#000" opacity="0.8"/>
<circle cx="520.6" cy="591.6" r="0.9" fill="#000" opacity="0.8"/>
<circle cx="518.5" cy="590.3" r="1.7" fill="#000" opacity="0.8"/>
<circle cx="502.7" cy="599.4" r="3.0" fill="#870c09"/>
<circle cx="500.8" cy="600.3" r="1.0" fill="#000" opacity="0.8"/>
<circle cx="504.5" cy="598.4" r="1.5" fill="#000" opacity="0.8"/>
<circle cx="507.7" cy="608.4" r="6.0" fill="#ca120d"/>
<circle cx="506.0" cy="605.6" r="1.0" fill="#000" opacity="0.8"/>
<circle cx="511.4" cy="608.3" r="1.4" fill="#000" opacity="0.8"/>
<circle cx="505.8" cy="607.2" r="1.5" fill="#000" opacity="0.8"/>
<circle cx="505.5" cy="611.1" r="0.9" fill="#000" opacity="0.8"/>
<circle cx="509.9" cy="608.3" r="1.7" fill="#000" opacity="0.8"/>
<circle cx="525.7" cy="609.4" r="3.5" fill="#9d0e0a"/>
<circle cx="526.2" cy="611.4" r="1.1" fill="#000" opacity="0.8"/>
<circle cx="524.8" cy="609.3" r="1.1" fill="#000" opacity="0.8"/>
<circle cx="491.2" cy="585.6" r="4.1" fill="#100101"/>
<circle cx="491.7" cy="583.3" r="0.9" fill="#000" opacity="0.8"/>
<circle cx="491.1" cy="583.6" r="1.0" fill="#000" opacity="0.8"/>
<circle cx="523.1" cy="589.8" r="3.0" fill="#0d0100"/>
<circle cx="521.8" cy="591.5" r="1.5" fill="#000" opacity="0.8"/>
<circle cx="522.9" cy="588.8" r="1.0" fill="#000" opacity="0.8"/>
<circle cx="506.3" cy="596.1" r="4.3" fill="#180201"/>
<circle cx="504.4" cy="594.7" r="1.6" fill="#000" opacity="0.8"/>
<circle cx="506.9" cy="598.2" r="1.6" fill="#000" opacity="0.8"/>
<circle cx="480.3" cy="584.6" r="3.5" fill="#0b0100"/>
<circle cx="478.8" cy="583.3" r="1.7" fill="#000" opacity="0.8"/>
<circle cx="480.3" cy="584.0" r="1.5" fill="#000" opacity="0.8"/>
<circle cx="484.5" cy="592.6" r="3.7" fill="#0b0100"/>
<circle cx="484.2" cy="594.7" r="1.2" fill="#000" opacity="0.8"/>
<circle cx="482.4" cy="593.4" r="0.9" fill="#000" opacity="0.8"/>
<circle cx="491.2" cy="610.7" r="4.1" fill="#110101"/>
<circle cx="488.8" cy="610.4" r="1.6" fill="#000" opacity="0.8"/>
<circle cx="493.9" cy="610.2" r="1.1" fill="#000" opacity="0.8"/>
<circle cx="517.4" cy="603.8" r="3.9" fill="#110101"/>
<circle cx="515.4" cy="602.4" r="1.3" fill="#000" opacity="0.8"/>
<circle cx="518.8" cy="605.6" r="1.0" fill="#000" opacity="0.8"/>
<circle cx="528.8" cy="609.8" r="4.4" fill="#150101"/>
<circle cx="531.6" cy="611.0" r="1.4" fill="#000" opacity="0.8"/>
<circle cx="528.8" cy="608.7" r="1.0" fill="#000" opacity="0.8"/>
<circle cx="512.4" cy="592.5" r="3.1" fill="#0f0101"/>
<circle cx="510.7" cy="591.6" r="1.7" fill="#000" opacity="0.8"/>
<circle cx="512.8" cy="591.7" r="1.4" fill="#000" opacity="0.8"/>
<circle cx="474.3" cy="583.4" r="3.3" fill="#170201"/>
<circle cx="474.4" cy="581.1" r="1.3" fill="#000" opacity="0.8"/>
<circle cx="475.2" cy="583.9" r="1.1" fill="#000" opacity="0.8"/>
</g></g>
<line x1="514.6" y1="618.2" x2="527.6" y2="618.2" stroke="#fff" stroke-width="1"/>
<text x="521.1" y="616.7" font-size="4.6" text-anchor="middle" fill="#e8e8e8" font-family="Liberation Serif" font-weight="bold">25 µm</text>
<rect x="533.1" y="563.4" width="58.9" height="57.3" fill="#000" stroke="none" stroke-width="1"/>
<g clip-path="url(#mclip22)"><g filter="url(#mblur)">
<rect x="533.1" y="563.4" width="58.8" height="57" fill="#00000c"/>
<circle cx="542.5" cy="598.3" r="1.5" fill="#1e1eff"/>
<circle cx="574.6" cy="597.8" r="1.7" fill="#1e1eff"/>
<circle cx="569.2" cy="595.5" r="1.4" fill="#1e1eff"/>
<circle cx="564.2" cy="598.5" r="1.8" fill="#1e1eff"/>
<circle cx="584.1" cy="604.8" r="1.7" fill="#1e1eff"/>
<circle cx="547.0" cy="571.4" r="2.0" fill="#1e1eff"/>
<circle cx="573.3" cy="597.9" r="1.7" fill="#1e1eff"/>
<circle cx="562.6" cy="576.6" r="1.8" fill="#1e1eff"/>
<circle cx="542.4" cy="598.6" r="1.8" fill="#1e1eff"/>
<circle cx="572.2" cy="578.0" r="1.5" fill="#1e1eff"/>
<circle cx="553.0" cy="602.2" r="1.8" fill="#1e1eff"/>
<circle cx="576.6" cy="588.1" r="1.7" fill="#1e1eff"/>
<circle cx="585.7" cy="573.6" r="1.5" fill="#1e1eff"/>
<circle cx="567.5" cy="599.1" r="1.7" fill="#1e1eff"/>
<circle cx="565.8" cy="588.6" r="1.9" fill="#1e1eff"/>
<circle cx="584.6" cy="609.8" r="1.8" fill="#1e1eff"/>
<circle cx="560.8" cy="616.5" r="1.7" fill="#1e1eff"/>
<circle cx="569.6" cy="612.2" r="1.9" fill="#1e1eff"/>
<circle cx="556.3" cy="605.3" r="1.8" fill="#1e1eff"/>
<circle cx="586.1" cy="598.7" r="1.8" fill="#1e1eff"/>
<circle cx="589.4" cy="593.4" r="1.7" fill="#1e1eff"/>
<circle cx="587.4" cy="616.3" r="1.5" fill="#1e1eff"/>
<circle cx="538.2" cy="611.6" r="2.0" fill="#1e1eff"/>
<circle cx="555.9" cy="578.4" r="1.9" fill="#1e1eff"/>
<circle cx="587.5" cy="576.1" r="1.7" fill="#1e1eff"/>
<circle cx="571.7" cy="576.5" r="1.7" fill="#1e1eff"/>
<circle cx="542.2" cy="590.8" r="1.6" fill="#1e1eff"/>
<circle cx="538.7" cy="585.8" r="1.5" fill="#1e1eff"/>
<circle cx="540.9" cy="572.7" r="1.7" fill="#1e1eff"/>
<circle cx="552.2" cy="604.5" r="1.7" fill="#1e1eff"/>
<circle cx="547.9" cy="574.7" r="1.6" fill="#1e1eff"/>
<circle cx="576.3" cy="575.5" r="1.7" fill="#1e1eff"/>
<circle cx="579.9" cy="610.0" r="1.7" fill="#1e1eff"/>
<circle cx="582.0" cy="599.7" r="1.6" fill="#1e1eff"/>
<circle cx="539.4" cy="573.8" r="2.0" fill="#1e1eff"/>
<circle cx="556.2" cy="610.5" r="2.1" fill="#1e1eff"/>
<circle cx="586.3" cy="590.2" r="1.4" fill="#1e1eff"/>
<circle cx="549.8" cy="576.4" r="1.9" fill="#1e1eff"/>
<circle cx="574.0" cy="615.1" r="1.9" fill="#1e1eff"/>
<circle cx="588.6" cy="599.5" r="1.7" fill="#1e1eff"/>
</g></g>
<line x1="575.0" y1="618.2" x2="588.0" y2="618.2" stroke="#fff" stroke-width="1"/>
<text x="581.5" y="616.7" font-size="4.6" text-anchor="middle" fill="#e8e8e8" font-family="Liberation Serif" font-weight="bold">25 µm</text>
<rect x="593.9" y="563.4" width="58.8" height="57.3" fill="#000" stroke="none" stroke-width="1"/>
<g clip-path="url(#mclip23)"><g filter="url(#mblur)">
<rect x="593.9" y="563.4" width="58.8" height="57" fill="#041804" opacity="0.4"/>
<circle cx="645.8" cy="573.7" r="4.4" fill="#d0a70c"/>
<circle cx="647.3" cy="571.7" r="1.2" fill="#000" opacity="0.8"/>
<circle cx="643.9" cy="575.8" r="1.4" fill="#000" opacity="0.8"/>
<circle cx="624.4" cy="567.0" r="3.5" fill="#918d0c"/>
<circle cx="625.3" cy="567.2" r="1.6" fill="#000" opacity="0.8"/>
<circle cx="626.8" cy="567.6" r="1.2" fill="#000" opacity="0.8"/>
<circle cx="647.5" cy="573.1" r="4.6" fill="#b5820c"/>
<circle cx="649.9" cy="574.2" r="1.7" fill="#000" opacity="0.8"/>
<circle cx="644.4" cy="573.9" r="1.0" fill="#000" opacity="0.8"/>
<circle cx="644.4" cy="572.7" r="1.2" fill="#000" opacity="0.8"/>
<circle cx="647.5" cy="575.3" r="4.1" fill="#989e0c"/>
<circle cx="648.9" cy="573.8" r="1.6" fill="#000" opacity="0.8"/>
<circle cx="646.7" cy="576.0" r="1.6" fill="#000" opacity="0.8"/>
<circle cx="613.1" cy="567.9" r="4.1" fill="#db9c0c"/>
<circle cx="612.6" cy="568.6" r="1.4" fill="#000" opacity="0.8"/>
<circle cx="613.6" cy="568.2" r="1.4" fill="#000" opacity="0.8"/>
<circle cx="613.0" cy="569.5" r="3.9" fill="#a68c0c"/>
<circle cx="613.8" cy="569.0" r="0.9" fill="#000" opacity="0.8"/>
<circle cx="614.2" cy="571.7" r="0.9" fill="#000" opacity="0.8"/>
<circle cx="616.9" cy="573.1" r="3.5" fill="#b2bb0c"/>
<circle cx="618.1" cy="572.3" r="1.0" fill="#000" opacity="0.8"/>
<circle cx="618.8" cy="572.6" r="1.0" fill="#000" opacity="0.8"/>
<circle cx="649.8" cy="576.4" r="4.5" fill="#e1a10c"/>
<circle cx="651.5" cy="575.4" r="1.0" fill="#000" opacity="0.8"/>
<circle cx="648.6" cy="575.8" r="1.0" fill="#000" opacity="0.8"/>
<circle cx="648.6" cy="576.1" r="1.5" fill="#000" opacity="0.8"/>
<circle cx="611.4" cy="576.1" r="3.9" fill="#cfad0c"/>
<circle cx="612.7" cy="578.0" r="0.9" fill="#000" opacity="0.8"/>
<circle cx="611.1" cy="577.0" r="1.5" fill="#000" opacity="0.8"/>
<circle cx="613.5" cy="568.6" r="3.5" fill="#958f0c"/>
<circle cx="613.0" cy="568.7" r="1.6" fill="#000" opacity="0.8"/>
<circle cx="613.6" cy="566.8" r="1.6" fill="#000" opacity="0.8"/>
<circle cx="624.7" cy="581.0" r="4.0" fill="#b7960c"/>
<circle cx="622.6" cy="581.3" r="1.5" fill="#000" opacity="0.8"/>
<circle cx="623.5" cy="581.3" r="1.2" fill="#000" opacity="0.8"/>
<circle cx="619.2" cy="577.1" r="4.6" fill="#a28c0c"/>
<circle cx="616.7" cy="578.5" r="0.9" fill="#000" opacity="0.8"/>
<circle cx="617.3" cy="578.9" r="1.6" fill="#000" opacity="0.8"/>
<circle cx="620.5" cy="576.2" r="1.4" fill="#000" opacity="0.8"/>
<circle cx="637.4" cy="580.4" r="4.5" fill="#e39f0c"/>
<circle cx="634.9" cy="581.9" r="1.1" fill="#000" opacity="0.8"/>
<circle cx="638.5" cy="579.8" r="1.4" fill="#000" opacity="0.8"/>
<circle cx="640.5" cy="580.1" r="1.6" fill="#000" opacity="0.8"/>
<circle cx="606.2" cy="566.4" r="4.7" fill="#939a0c"/>
<circle cx="606.5" cy="565.1" r="1.1" fill="#000" opacity="0.8"/>
<circle cx="604.6" cy="566.4" r="1.6" fill="#000" opacity="0.8"/>
<circle cx="604.0" cy="567.1" r="0.9" fill="#000" opacity="0.8"/>
<circle cx="631.6" cy="581.2" r="4.3" fill="#97960c"/>
<circle cx="633.3" cy="578.9" r="1.6" fill="#000" opacity="0.8"/>
<circle cx="633.6" cy="582.4" r="1.2" fill="#000" opacity="0.8"/>
<circle cx="609.2" cy="579.8" r="4.2" fill="#97ba0c"/>
<circle cx="608.6" cy="577.0" r="1.0" fill="#000" opacity="0.8"/>
<circle cx="609.0" cy="580.8" r="1.1" fill="#000" opacity="0.8"/>
<circle cx="617.3" cy="566.2" r="4.1" fill="#a3850c"/>
<circle cx="616.4" cy="567.6" r="1.6" fill="#000" opacity="0.8"/>
<circle cx="618.2" cy="564.4" r="1.4" fill="#000" opacity="0.8"/>
<circle cx="625.0" cy="570.3" r="3.6" fill="#e0870c"/>
<circle cx="624.2" cy="570.6" r="1.7" fill="#000" opacity="0.8"/>
<circle cx="625.1" cy="569.8" r="1.2" fill="#000" opacity="0.8"/>
<circle cx="617.9" cy="592.4" r="6.0" fill="#cd840c"/>
<circle cx="618.7" cy="595.5" r="1.2" fill="#000" opacity="0.8"/>
<circle cx="615.9" cy="589.9" r="1.0" fill="#000" opacity="0.8"/>
<circle cx="616.6" cy="595.0" r="1.7" fill="#000" opacity="0.8"/>
<circle cx="615.8" cy="594.0" r="1.3" fill="#000" opacity="0.8"/>
<circle cx="616.5" cy="595.9" r="1.0" fill="#000" opacity="0.8"/>
<circle cx="639.9" cy="593.4" r="5.0" fill="#c1790c"/>
<circle cx="641.4" cy="592.6" r="0.9" fill="#000" opacity="0.8"/>
<circle cx="641.8" cy="591.6" r="0.9" fill="#000" opacity="0.8"/>
<circle cx="639.7" cy="590.3" r="1.7" fill="#000" opacity="0.8"/>
<circle cx="623.9" cy="599.4" r="3.0" fill="#89580c"/>
<circle cx="622.0" cy="600.3" r="1.0" fill="#000" opacity="0.8"/>
<circle cx="625.7" cy="598.4" r="1.5" fill="#000" opacity="0.8"/>
<circle cx="628.9" cy="608.4" r="6.0" fill="#cc790c"/>
<circle cx="627.2" cy="605.6" r="1.0" fill="#000" opacity="0.8"/>
<circle cx="632.6" cy="608.3" r="1.4" fill="#000" opacity="0.8"/>
<circle cx="627.0" cy="607.2" r="1.5" fill="#000" opacity="0.8"/>
<circle cx="626.7" cy="611.1" r="0.9" fill="#000" opacity="0.8"/>
<circle cx="631.1" cy="608.3" r="1.7" fill="#000" opacity="0.8"/>
<circle cx="646.9" cy="609.4" r="3.5" fill="#9e590c"/>
<circle cx="647.4" cy="611.4" r="1.1" fill="#000" opacity="0.8"/>
<circle cx="646.0" cy="609.3" r="1.1" fill="#000" opacity="0.8"/>
<circle cx="604.4" cy="601.2" r="3.8" fill="#0c6d0c"/>
<circle cx="603.4" cy="603.0" r="1.4" fill="#000" opacity="0.8"/>
<circle cx="603.6" cy="602.3" r="1.1" fill="#000" opacity="0.8"/>
<circle cx="612.4" cy="585.6" r="4.1" fill="#1c8a0c"/>
<circle cx="612.9" cy="583.3" r="0.9" fill="#000" opacity="0.8"/>
<circle cx="612.3" cy="583.6" r="1.0" fill="#000" opacity="0.8"/>
<circle cx="644.3" cy="589.8" r="3.0" fill="#176f0c"/>
<circle cx="643.0" cy="591.5" r="1.5" fill="#000" opacity="0.8"/>
<circle cx="644.1" cy="588.8" r="1.0" fill="#000" opacity="0.8"/>
<circle cx="627.5" cy="596.1" r="4.3" fill="#237c0c"/>
<circle cx="625.6" cy="594.7" r="1.6" fill="#000" opacity="0.8"/>
<circle cx="628.1" cy="598.2" r="1.6" fill="#000" opacity="0.8"/>
<circle cx="612.0" cy="598.9" r="4.7" fill="#0b570c"/>
<circle cx="613.8" cy="598.4" r="1.5" fill="#000" opacity="0.8"/>
<circle cx="611.7" cy="599.6" r="1.4" fill="#000" opacity="0.8"/>
<circle cx="612.1" cy="601.5" r="1.1" fill="#000" opacity="0.8"/>
<circle cx="612.2" cy="584.8" r="4.5" fill="#14820c"/>
<circle cx="611.1" cy="583.1" r="1.4" fill="#000" opacity="0.8"/>
<circle cx="609.2" cy="584.8" r="1.0" fill="#000" opacity="0.8"/>
<circle cx="611.6" cy="582.4" r="1.5" fill="#000" opacity="0.8"/>
<circle cx="601.5" cy="584.6" r="3.5" fill="#124e0c"/>
<circle cx="600.0" cy="583.3" r="1.7" fill="#000" opacity="0.8"/>
<circle cx="601.5" cy="584.0" r="1.5" fill="#000" opacity="0.8"/>
<circle cx="627.8" cy="591.0" r="3.1" fill="#0d7a0c"/>
<circle cx="630.0" cy="591.1" r="1.1" fill="#000" opacity="0.8"/>
<circle cx="627.3" cy="591.4" r="1.1" fill="#000" opacity="0.8"/>
<circle cx="605.7" cy="592.6" r="3.7" fill="#124f0c"/>
<circle cx="605.4" cy="594.7" r="1.2" fill="#000" opacity="0.8"/>
<circle cx="603.6" cy="593.4" r="0.9" fill="#000" opacity="0.8"/>
<circle cx="612.4" cy="610.7" r="4.1" fill="#1e880c"/>
<circle cx="610.0" cy="610.4" r="1.6" fill="#000" opacity="0.8"/>
<circle cx="615.1" cy="610.2" r="1.1" fill="#000" opacity="0.8"/>
<circle cx="638.6" cy="603.8" r="3.9" fill="#1d830c"/>
<circle cx="636.6" cy="602.4" r="1.3" fill="#000" opacity="0.8"/>
<circle cx="640.0" cy="605.6" r="1.0" fill="#000" opacity="0.8"/>
<circle cx="650.0" cy="609.8" r="4.4" fill="#1d5b0c"/>
<circle cx="652.8" cy="611.0" r="1.4" fill="#000" opacity="0.8"/>
<circle cx="650.0" cy="608.7" r="1.0" fill="#000" opacity="0.8"/>
<circle cx="616.4" cy="586.5" r="3.1" fill="#0e540c"/>
<circle cx="615.8" cy="586.1" r="1.4" fill="#000" opacity="0.8"/>
<circle cx="616.2" cy="586.2" r="1.3" fill="#000" opacity="0.8"/>
<circle cx="633.6" cy="592.5" r="3.1" fill="#1a7f0c"/>
<circle cx="631.9" cy="591.6" r="1.7" fill="#000" opacity="0.8"/>
<circle cx="634.0" cy="591.7" r="1.4" fill="#000" opacity="0.8"/>
<circle cx="595.5" cy="583.4" r="3.3" fill="#1f620c"/>
<circle cx="595.6" cy="581.1" r="1.3" fill="#000" opacity="0.8"/>
<circle cx="596.4" cy="583.9" r="1.1" fill="#000" opacity="0.8"/>
<circle cx="649.7" cy="605.3" r="3.5" fill="#13660c"/>
<circle cx="650.5" cy="605.7" r="0.9" fill="#000" opacity="0.8"/>
<circle cx="651.1" cy="604.2" r="1.5" fill="#000" opacity="0.8"/>
<circle cx="603.3" cy="598.3" r="1.7" fill="#3a80ff" opacity="0.9"/>
<circle cx="635.4" cy="597.8" r="1.9" fill="#3a80ff" opacity="0.9"/>
<circle cx="630.0" cy="595.5" r="1.6" fill="#3a80ff" opacity="0.9"/>
<circle cx="625.0" cy="598.5" r="2.0" fill="#3a80ff" opacity="0.9"/>
<circle cx="644.9" cy="604.8" r="1.9" fill="#3a80ff" opacity="0.9"/>
<circle cx="607.8" cy="571.4" r="2.2" fill="#3a80ff" opacity="0.9"/>
<circle cx="634.1" cy="597.9" r="1.9" fill="#3a80ff" opacity="0.9"/>
<circle cx="623.4" cy="576.6" r="2.0" fill="#3a80ff" opacity="0.9"/>
<circle cx="603.2" cy="598.6" r="2.0" fill="#3a80ff" opacity="0.9"/>
<circle cx="633.0" cy="578.0" r="1.7" fill="#3a80ff" opacity="0.9"/>
<circle cx="613.8" cy="602.2" r="2.0" fill="#3a80ff" opacity="0.9"/>
<circle cx="637.4" cy="588.1" r="1.9" fill="#3a80ff" opacity="0.9"/>
<circle cx="646.5" cy="573.6" r="1.7" fill="#3a80ff" opacity="0.9"/>
<circle cx="628.3" cy="599.1" r="1.9" fill="#3a80ff" opacity="0.9"/>
<circle cx="626.6" cy="588.6" r="2.1" fill="#3a80ff" opacity="0.9"/>
<circle cx="645.4" cy="609.8" r="2.0" fill="#3a80ff" opacity="0.9"/>
<circle cx="621.6" cy="616.5" r="1.9" fill="#3a80ff" opacity="0.9"/>
<circle cx="630.4" cy="612.2" r="2.1" fill="#3a80ff" opacity="0.9"/>
<circle cx="617.1" cy="605.3" r="2.0" fill="#3a80ff" opacity="0.9"/>
<circle cx="646.9" cy="598.7" r="2.0" fill="#3a80ff" opacity="0.9"/>
<circle cx="650.2" cy="593.4" r="1.9" fill="#3a80ff" opacity="0.9"/>
<circle cx="648.2" cy="616.3" r="1.7" fill="#3a80ff" opacity="0.9"/>
<circle cx="599.0" cy="611.6" r="2.2" fill="#3a80ff" opacity="0.9"/>
<circle cx="616.7" cy="578.4" r="2.1" fill="#3a80ff" opacity="0.9"/>
<circle cx="648.3" cy="576.1" r="1.9" fill="#3a80ff" opacity="0.9"/>
<circle cx="632.5" cy="576.5" r="1.9" fill="#3a80ff" opacity="0.9"/>
<circle cx="603.0" cy="590.8" r="1.8" fill="#3a80ff" opacity="0.9"/>
<circle cx="599.5" cy="585.8" r="1.7" fill="#3a80ff" opacity="0.9"/>
<circle cx="601.7" cy="572.7" r="1.9" fill="#3a80ff" opacity="0.9"/>
<circle cx="613.0" cy="604.5" r="1.9" fill="#3a80ff" opacity="0.9"/>
<circle cx="608.7" cy="574.7" r="1.8" fill="#3a80ff" opacity="0.9"/>
<circle cx="637.1" cy="575.5" r="1.9" fill="#3a80ff" opacity="0.9"/>
<circle cx="640.7" cy="610.0" r="1.9" fill="#3a80ff" opacity="0.9"/>
<circle cx="642.8" cy="599.7" r="1.8" fill="#3a80ff" opacity="0.9"/>
<circle cx="600.2" cy="573.8" r="2.2" fill="#3a80ff" opacity="0.9"/>
<circle cx="617.0" cy="610.5" r="2.3" fill="#3a80ff" opacity="0.9"/>
<circle cx="647.1" cy="590.2" r="1.6" fill="#3a80ff" opacity="0.9"/>
<circle cx="610.6" cy="576.4" r="2.1" fill="#3a80ff" opacity="0.9"/>
<circle cx="634.8" cy="615.1" r="2.1" fill="#3a80ff" opacity="0.9"/>
<circle cx="649.4" cy="599.5" r="1.9" fill="#3a80ff" opacity="0.9"/>
</g></g>
<line x1="635.7" y1="618.2" x2="648.7" y2="618.2" stroke="#fff" stroke-width="1"/>
<text x="642.2" y="616.7" font-size="4.6" text-anchor="middle" fill="#e8e8e8" font-family="Liberation Serif" font-weight="bold">25 µm</text>
<rect x="411.7" y="622.3" width="58.8" height="57.3" fill="#000" stroke="none" stroke-width="1"/>
<g clip-path="url(#mclip30)"><g filter="url(#mblur)">
<rect x="411.7" y="622.3" width="58.8" height="57" fill="#062806" opacity="0.2"/>
<circle cx="422.4" cy="630.1" r="7.1" fill="#17cc17"/>
<circle cx="425.1" cy="632.8" r="1.1" fill="#000" opacity="0.8"/>
<circle cx="422.1" cy="633.2" r="1.0" fill="#000" opacity="0.8"/>
<circle cx="426.4" cy="627.8" r="1.6" fill="#000" opacity="0.8"/>
<circle cx="421.5" cy="625.7" r="1.0" fill="#000" opacity="0.8"/>
<circle cx="421.0" cy="634.9" r="1.7" fill="#000" opacity="0.8"/>
<circle cx="419.7" cy="632.5" r="1.3" fill="#000" opacity="0.8"/>
<circle cx="426.7" cy="628.3" r="1.0" fill="#000" opacity="0.8"/>
<circle cx="439.7" cy="627.3" r="4.7" fill="#14ac14"/>
<circle cx="439.6" cy="628.2" r="1.0" fill="#000" opacity="0.8"/>
<circle cx="437.7" cy="629.5" r="1.6" fill="#000" opacity="0.8"/>
<circle cx="442.1" cy="625.0" r="1.6" fill="#000" opacity="0.8"/>
<circle cx="444.7" cy="645.8" r="7.1" fill="#16c116"/>
<circle cx="444.6" cy="650.1" r="1.1" fill="#000" opacity="0.8"/>
<circle cx="445.2" cy="645.6" r="1.4" fill="#000" opacity="0.8"/>
<circle cx="444.2" cy="643.1" r="1.7" fill="#000" opacity="0.8"/>
<circle cx="444.6" cy="646.6" r="1.4" fill="#000" opacity="0.8"/>
<circle cx="440.5" cy="646.5" r="1.0" fill="#000" opacity="0.8"/>
<circle cx="444.1" cy="643.7" r="1.4" fill="#000" opacity="0.8"/>
<circle cx="441.8" cy="642.8" r="1.1" fill="#000" opacity="0.8"/>
<circle cx="456.7" cy="651.3" r="5.9" fill="#15b615"/>
<circle cx="453.4" cy="650.4" r="1.3" fill="#000" opacity="0.8"/>
<circle cx="453.3" cy="649.3" r="1.1" fill="#000" opacity="0.8"/>
<circle cx="453.6" cy="650.0" r="1.0" fill="#000" opacity="0.8"/>
<circle cx="458.9" cy="648.0" r="1.3" fill="#000" opacity="0.8"/>
<circle cx="456.6" cy="651.8" r="1.6" fill="#000" opacity="0.8"/>
<circle cx="419.5" cy="657.3" r="7.1" fill="#16c116"/>
<circle cx="415.3" cy="656.8" r="1.1" fill="#000" opacity="0.8"/>
<circle cx="418.9" cy="655.2" r="1.4" fill="#000" opacity="0.8"/>
<circle cx="421.5" cy="659.7" r="1.4" fill="#000" opacity="0.8"/>
<circle cx="417.3" cy="657.6" r="1.2" fill="#000" opacity="0.8"/>
<circle cx="416.5" cy="657.1" r="1.7" fill="#000" opacity="0.8"/>
<circle cx="421.6" cy="658.5" r="1.0" fill="#000" opacity="0.8"/>
<circle cx="420.3" cy="659.1" r="1.5" fill="#000" opacity="0.8"/>
<circle cx="435.1" cy="661.3" r="8.3" fill="#17cc17"/>
<circle cx="435.7" cy="664.6" r="1.6" fill="#000" opacity="0.8"/>
<circle cx="437.6" cy="663.0" r="1.4" fill="#000" opacity="0.8"/>
<circle cx="437.3" cy="661.0" r="1.5" fill="#000" opacity="0.8"/>
<circle cx="434.4" cy="666.9" r="1.4" fill="#000" opacity="0.8"/>
<circle cx="431.2" cy="664.8" r="1.0" fill="#000" opacity="0.8"/>
<circle cx="440.2" cy="659.5" r="1.4" fill="#000" opacity="0.8"/>
<circle cx="436.5" cy="666.3" r="1.7" fill="#000" opacity="0.8"/>
<circle cx="430.7" cy="660.8" r="1.4" fill="#000" opacity="0.8"/>
<circle cx="437.1" cy="664.7" r="1.0" fill="#000" opacity="0.8"/>
<circle cx="433.5" cy="665.0" r="1.2" fill="#000" opacity="0.8"/>
<circle cx="450.7" cy="659.3" r="5.9" fill="#15b615"/>
<circle cx="448.8" cy="662.2" r="1.0" fill="#000" opacity="0.8"/>
<circle cx="448.4" cy="662.1" r="1.3" fill="#000" opacity="0.8"/>
<circle cx="448.9" cy="660.2" r="1.2" fill="#000" opacity="0.8"/>
<circle cx="453.6" cy="656.6" r="1.7" fill="#000" opacity="0.8"/>
<circle cx="453.6" cy="662.1" r="1.5" fill="#000" opacity="0.8"/>
<circle cx="452.7" cy="671.3" r="4.7" fill="#119611"/>
<circle cx="454.5" cy="669.6" r="0.9" fill="#000" opacity="0.8"/>
<circle cx="451.0" cy="671.2" r="1.0" fill="#000" opacity="0.8"/>
<circle cx="451.9" cy="671.2" r="1.2" fill="#000" opacity="0.8"/>
<circle cx="467.7" cy="630.3" r="4.1" fill="#14ac14"/>
<circle cx="469.6" cy="629.5" r="1.0" fill="#000" opacity="0.8"/>
<circle cx="469.7" cy="630.5" r="1.4" fill="#000" opacity="0.8"/>
<circle cx="463.7" cy="642.3" r="3.5" fill="#0c6b0c"/>
<circle cx="463.9" cy="643.1" r="1.4" fill="#000" opacity="0.8"/>
<circle cx="463.1" cy="643.6" r="1.3" fill="#000" opacity="0.8"/>
<circle cx="429.7" cy="646.3" r="3.5" fill="#0f810f"/>
<circle cx="431.3" cy="644.9" r="1.4" fill="#000" opacity="0.8"/>
<circle cx="427.9" cy="645.6" r="1.7" fill="#000" opacity="0.8"/>
<circle cx="416.7" cy="674.3" r="3.5" fill="#0c6b0c"/>
<circle cx="416.9" cy="673.9" r="1.1" fill="#000" opacity="0.8"/>
<circle cx="417.4" cy="673.1" r="1.6" fill="#000" opacity="0.8"/>
<circle cx="461.7" cy="664.3" r="4.1" fill="#0c6b0c"/>
<circle cx="463.7" cy="662.9" r="1.6" fill="#000" opacity="0.8"/>
<circle cx="459.7" cy="666.2" r="1.0" fill="#000" opacity="0.8"/>
</g></g>
<line x1="453.5" y1="677.1" x2="466.5" y2="677.1" stroke="#fff" stroke-width="1"/>
<text x="460.0" y="675.6" font-size="4.6" text-anchor="middle" fill="#e8e8e8" font-family="Liberation Serif" font-weight="bold">25 µm</text>
<rect x="472.7" y="622.3" width="58.9" height="57.3" fill="#000" stroke="none" stroke-width="1"/>
<g clip-path="url(#mclip31)"><g filter="url(#mblur)">
<rect x="472.7" y="622.3" width="58.8" height="57" fill="#200303" opacity="0.3"/>
<circle cx="483.4" cy="630.1" r="7.1" fill="#ca120d"/>
<circle cx="486.1" cy="632.8" r="1.1" fill="#000" opacity="0.8"/>
<circle cx="483.1" cy="633.2" r="1.0" fill="#000" opacity="0.8"/>
<circle cx="487.4" cy="627.8" r="1.6" fill="#000" opacity="0.8"/>
<circle cx="482.5" cy="625.7" r="1.0" fill="#000" opacity="0.8"/>
<circle cx="482.0" cy="634.9" r="1.7" fill="#000" opacity="0.8"/>
<circle cx="480.7" cy="632.5" r="1.3" fill="#000" opacity="0.8"/>
<circle cx="487.7" cy="628.3" r="1.0" fill="#000" opacity="0.8"/>
<circle cx="500.7" cy="627.3" r="4.7" fill="#0b0100"/>
<circle cx="500.6" cy="628.2" r="1.0" fill="#000" opacity="0.8"/>
<circle cx="498.7" cy="629.5" r="1.6" fill="#000" opacity="0.8"/>
<circle cx="503.1" cy="625.0" r="1.6" fill="#000" opacity="0.8"/>
<circle cx="505.7" cy="645.8" r="7.1" fill="#ca120d"/>
<circle cx="505.6" cy="650.1" r="1.1" fill="#000" opacity="0.8"/>
<circle cx="506.2" cy="645.6" r="1.4" fill="#000" opacity="0.8"/>
<circle cx="505.2" cy="643.1" r="1.7" fill="#000" opacity="0.8"/>
<circle cx="505.6" cy="646.6" r="1.4" fill="#000" opacity="0.8"/>
<circle cx="501.5" cy="646.5" r="1.0" fill="#000" opacity="0.8"/>
<circle cx="505.1" cy="643.7" r="1.4" fill="#000" opacity="0.8"/>
<circle cx="502.8" cy="642.8" r="1.1" fill="#000" opacity="0.8"/>
<circle cx="517.7" cy="651.3" r="5.9" fill="#bf110c"/>
<circle cx="514.4" cy="650.4" r="1.3" fill="#000" opacity="0.8"/>
<circle cx="514.3" cy="649.3" r="1.1" fill="#000" opacity="0.8"/>
<circle cx="514.6" cy="650.0" r="1.0" fill="#000" opacity="0.8"/>
<circle cx="519.9" cy="648.0" r="1.3" fill="#000" opacity="0.8"/>
<circle cx="517.6" cy="651.8" r="1.6" fill="#000" opacity="0.8"/>
<circle cx="480.5" cy="657.3" r="7.1" fill="#a80f0b"/>
<circle cx="476.3" cy="656.8" r="1.1" fill="#000" opacity="0.8"/>
<circle cx="479.9" cy="655.2" r="1.4" fill="#000" opacity="0.8"/>
<circle cx="482.5" cy="659.7" r="1.4" fill="#000" opacity="0.8"/>
<circle cx="478.3" cy="657.6" r="1.2" fill="#000" opacity="0.8"/>
<circle cx="477.5" cy="657.1" r="1.7" fill="#000" opacity="0.8"/>
<circle cx="482.6" cy="658.5" r="1.0" fill="#000" opacity="0.8"/>
<circle cx="481.3" cy="659.1" r="1.5" fill="#000" opacity="0.8"/>
<circle cx="496.1" cy="661.3" r="8.3" fill="#d5130e"/>
<circle cx="496.7" cy="664.6" r="1.6" fill="#000" opacity="0.8"/>
<circle cx="498.6" cy="663.0" r="1.4" fill="#000" opacity="0.8"/>
<circle cx="498.3" cy="661.0" r="1.5" fill="#000" opacity="0.8"/>
<circle cx="495.4" cy="666.9" r="1.4" fill="#000" opacity="0.8"/>
<circle cx="492.2" cy="664.8" r="1.0" fill="#000" opacity="0.8"/>
<circle cx="501.2" cy="659.5" r="1.4" fill="#000" opacity="0.8"/>
<circle cx="497.5" cy="666.3" r="1.7" fill="#000" opacity="0.8"/>
<circle cx="491.7" cy="660.8" r="1.4" fill="#000" opacity="0.8"/>
<circle cx="498.1" cy="664.7" r="1.0" fill="#000" opacity="0.8"/>
<circle cx="494.5" cy="665.0" r="1.2" fill="#000" opacity="0.8"/>
<circle cx="511.7" cy="659.3" r="5.9" fill="#bf110c"/>
<circle cx="509.8" cy="662.2" r="1.0" fill="#000" opacity="0.8"/>
<circle cx="509.4" cy="662.1" r="1.3" fill="#000" opacity="0.8"/>
<circle cx="509.9" cy="660.2" r="1.2" fill="#000" opacity="0.8"/>
<circle cx="514.6" cy="656.6" r="1.7" fill="#000" opacity="0.8"/>
<circle cx="514.6" cy="662.1" r="1.5" fill="#000" opacity="0.8"/>
<circle cx="513.7" cy="671.3" r="4.7" fill="#2d0403"/>
<circle cx="515.5" cy="669.6" r="0.9" fill="#000" opacity="0.8"/>
<circle cx="512.0" cy="671.2" r="1.0" fill="#000" opacity="0.8"/>
<circle cx="512.9" cy="671.2" r="1.2" fill="#000" opacity="0.8"/>
<circle cx="528.7" cy="630.3" r="4.1" fill="#430604"/>
<circle cx="530.6" cy="629.5" r="1.0" fill="#000" opacity="0.8"/>
<circle cx="530.7" cy="630.5" r="1.4" fill="#000" opacity="0.8"/>
<circle cx="524.7" cy="642.3" r="3.5" fill="#160201"/>
<circle cx="524.9" cy="643.1" r="1.4" fill="#000" opacity="0.8"/>
<circle cx="524.1" cy="643.6" r="1.3" fill="#000" opacity="0.8"/>
<circle cx="490.7" cy="646.3" r="3.5" fill="#160201"/>
<circle cx="492.3" cy="644.9" r="1.4" fill="#000" opacity="0.8"/>
<circle cx="488.9" cy="645.6" r="1.7" fill="#000" opacity="0.8"/>
<circle cx="477.7" cy="674.3" r="3.5" fill="#0b0100"/>
<circle cx="477.9" cy="673.9" r="1.1" fill="#000" opacity="0.8"/>
<circle cx="478.4" cy="673.1" r="1.6" fill="#000" opacity="0.8"/>
<circle cx="522.7" cy="664.3" r="4.1" fill="#2d0403"/>
<circle cx="524.7" cy="662.9" r="1.6" fill="#000" opacity="0.8"/>
<circle cx="520.7" cy="666.2" r="1.0" fill="#000" opacity="0.8"/>
</g></g>
<line x1="514.6" y1="677.1" x2="527.6" y2="677.1" stroke="#fff" stroke-width="1"/>
<text x="521.1" y="675.6" font-size="4.6" text-anchor="middle" fill="#e8e8e8" font-family="Liberation Serif" font-weight="bold">25 µm</text>
<rect x="533.1" y="622.3" width="58.9" height="57.3" fill="#000" stroke="none" stroke-width="1"/>
<g clip-path="url(#mclip32)"><g filter="url(#mblur)">
<rect x="533.1" y="622.3" width="58.8" height="57" fill="#00000c"/>
<circle cx="589.7" cy="648.4" r="1.9" fill="#1e1eff"/>
<circle cx="575.8" cy="635.1" r="1.5" fill="#1e1eff"/>
<circle cx="568.3" cy="630.0" r="1.7" fill="#1e1eff"/>
<circle cx="584.6" cy="671.3" r="1.5" fill="#1e1eff"/>
<circle cx="538.8" cy="635.5" r="2.0" fill="#1e1eff"/>
<circle cx="535.5" cy="635.7" r="1.5" fill="#1e1eff"/>
<circle cx="541.3" cy="652.1" r="1.5" fill="#1e1eff"/>
<circle cx="557.4" cy="663.6" r="1.9" fill="#1e1eff"/>
<circle cx="557.7" cy="666.5" r="1.8" fill="#1e1eff"/>
<circle cx="581.1" cy="637.0" r="1.7" fill="#1e1eff"/>
<circle cx="567.1" cy="675.3" r="1.8" fill="#1e1eff"/>
<circle cx="561.1" cy="637.1" r="1.6" fill="#1e1eff"/>
<circle cx="546.4" cy="677.6" r="2.0" fill="#1e1eff"/>
<circle cx="584.9" cy="652.4" r="1.9" fill="#1e1eff"/>
<circle cx="550.9" cy="649.8" r="1.5" fill="#1e1eff"/>
<circle cx="558.0" cy="637.2" r="1.5" fill="#1e1eff"/>
<circle cx="586.3" cy="628.6" r="2.0" fill="#1e1eff"/>
<circle cx="573.8" cy="628.3" r="1.7" fill="#1e1eff"/>
<circle cx="590.7" cy="677.6" r="1.8" fill="#1e1eff"/>
<circle cx="577.9" cy="662.3" r="1.6" fill="#1e1eff"/>
<circle cx="565.3" cy="656.1" r="1.7" fill="#1e1eff"/>
<circle cx="580.6" cy="647.7" r="1.9" fill="#1e1eff"/>
<circle cx="537.8" cy="647.8" r="1.4" fill="#1e1eff"/>
<circle cx="570.8" cy="671.3" r="1.8" fill="#1e1eff"/>
<circle cx="566.2" cy="657.5" r="1.6" fill="#1e1eff"/>
<circle cx="556.0" cy="655.1" r="1.9" fill="#1e1eff"/>
<circle cx="555.7" cy="649.6" r="1.6" fill="#1e1eff"/>
<circle cx="565.6" cy="660.5" r="1.6" fill="#1e1eff"/>
<circle cx="573.0" cy="670.0" r="1.8" fill="#1e1eff"/>
<circle cx="589.8" cy="640.3" r="2.0" fill="#1e1eff"/>
<circle cx="544.4" cy="643.3" r="2.0" fill="#1e1eff"/>
<circle cx="536.0" cy="657.1" r="2.0" fill="#1e1eff"/>
<circle cx="587.7" cy="660.8" r="1.6" fill="#1e1eff"/>
<circle cx="553.0" cy="658.0" r="1.4" fill="#1e1eff"/>
<circle cx="535.7" cy="671.8" r="1.8" fill="#1e1eff"/>
<circle cx="543.4" cy="646.9" r="1.6" fill="#1e1eff"/>
<circle cx="583.5" cy="639.0" r="1.9" fill="#1e1eff"/>
<circle cx="576.3" cy="640.8" r="1.6" fill="#1e1eff"/>
<circle cx="563.7" cy="645.3" r="1.8" fill="#1e1eff"/>
<circle cx="552.7" cy="667.0" r="1.7" fill="#1e1eff"/>
<circle cx="541.8" cy="665.9" r="2.0" fill="#1e1eff"/>
<circle cx="572.8" cy="653.4" r="2.0" fill="#1e1eff"/>
</g></g>
<line x1="575.0" y1="677.1" x2="588.0" y2="677.1" stroke="#fff" stroke-width="1"/>
<text x="581.5" y="675.6" font-size="4.6" text-anchor="middle" fill="#e8e8e8" font-family="Liberation Serif" font-weight="bold">25 µm</text>
<rect x="593.9" y="622.3" width="58.8" height="57.3" fill="#000" stroke="none" stroke-width="1"/>
<g clip-path="url(#mclip33)"><g filter="url(#mblur)">
<rect x="593.9" y="622.3" width="58.8" height="57" fill="#041804" opacity="0.4"/>
<circle cx="604.6" cy="630.1" r="7.1" fill="#d4cb0c"/>
<circle cx="607.3" cy="632.8" r="1.1" fill="#000" opacity="0.8"/>
<circle cx="604.3" cy="633.2" r="1.0" fill="#000" opacity="0.8"/>
<circle cx="608.6" cy="627.8" r="1.6" fill="#000" opacity="0.8"/>
<circle cx="603.7" cy="625.7" r="1.0" fill="#000" opacity="0.8"/>
<circle cx="603.2" cy="634.9" r="1.7" fill="#000" opacity="0.8"/>
<circle cx="601.9" cy="632.5" r="1.3" fill="#000" opacity="0.8"/>
<circle cx="608.9" cy="628.3" r="1.0" fill="#000" opacity="0.8"/>
<circle cx="621.9" cy="627.3" r="4.7" fill="#1aa40c"/>
<circle cx="621.8" cy="628.2" r="1.0" fill="#000" opacity="0.8"/>
<circle cx="619.9" cy="629.5" r="1.6" fill="#000" opacity="0.8"/>
<circle cx="624.3" cy="625.0" r="1.6" fill="#000" opacity="0.8"/>
<circle cx="626.9" cy="645.8" r="7.1" fill="#d3c10c"/>
<circle cx="626.8" cy="650.1" r="1.1" fill="#000" opacity="0.8"/>
<circle cx="627.4" cy="645.6" r="1.4" fill="#000" opacity="0.8"/>
<circle cx="626.4" cy="643.1" r="1.7" fill="#000" opacity="0.8"/>
<circle cx="626.8" cy="646.6" r="1.4" fill="#000" opacity="0.8"/>
<circle cx="622.7" cy="646.5" r="1.0" fill="#000" opacity="0.8"/>
<circle cx="626.3" cy="643.7" r="1.4" fill="#000" opacity="0.8"/>
<circle cx="624.0" cy="642.8" r="1.1" fill="#000" opacity="0.8"/>
<circle cx="638.9" cy="651.3" r="5.9" fill="#c7b60c"/>
<circle cx="635.6" cy="650.4" r="1.3" fill="#000" opacity="0.8"/>
<circle cx="635.5" cy="649.3" r="1.1" fill="#000" opacity="0.8"/>
<circle cx="635.8" cy="650.0" r="1.0" fill="#000" opacity="0.8"/>
<circle cx="641.1" cy="648.0" r="1.3" fill="#000" opacity="0.8"/>
<circle cx="638.8" cy="651.8" r="1.6" fill="#000" opacity="0.8"/>
<circle cx="601.7" cy="657.3" r="7.1" fill="#b3c00c"/>
<circle cx="597.5" cy="656.8" r="1.1" fill="#000" opacity="0.8"/>
<circle cx="601.1" cy="655.2" r="1.4" fill="#000" opacity="0.8"/>
<circle cx="603.7" cy="659.7" r="1.4" fill="#000" opacity="0.8"/>
<circle cx="599.5" cy="657.6" r="1.2" fill="#000" opacity="0.8"/>
<circle cx="598.7" cy="657.1" r="1.7" fill="#000" opacity="0.8"/>
<circle cx="603.8" cy="658.5" r="1.0" fill="#000" opacity="0.8"/>
<circle cx="602.5" cy="659.1" r="1.5" fill="#000" opacity="0.8"/>
<circle cx="617.3" cy="661.3" r="8.3" fill="#dfcc0c"/>
<circle cx="617.9" cy="664.6" r="1.6" fill="#000" opacity="0.8"/>
<circle cx="619.8" cy="663.0" r="1.4" fill="#000" opacity="0.8"/>
<circle cx="619.5" cy="661.0" r="1.5" fill="#000" opacity="0.8"/>
<circle cx="616.6" cy="666.9" r="1.4" fill="#000" opacity="0.8"/>
<circle cx="613.4" cy="664.8" r="1.0" fill="#000" opacity="0.8"/>
<circle cx="622.4" cy="659.5" r="1.4" fill="#000" opacity="0.8"/>
<circle cx="618.7" cy="666.3" r="1.7" fill="#000" opacity="0.8"/>
<circle cx="612.9" cy="660.8" r="1.4" fill="#000" opacity="0.8"/>
<circle cx="619.3" cy="664.7" r="1.0" fill="#000" opacity="0.8"/>
<circle cx="615.7" cy="665.0" r="1.2" fill="#000" opacity="0.8"/>
<circle cx="632.9" cy="659.3" r="5.9" fill="#c7b60c"/>
<circle cx="631.0" cy="662.2" r="1.0" fill="#000" opacity="0.8"/>
<circle cx="630.6" cy="662.1" r="1.3" fill="#000" opacity="0.8"/>
<circle cx="631.1" cy="660.2" r="1.2" fill="#000" opacity="0.8"/>
<circle cx="635.8" cy="656.6" r="1.7" fill="#000" opacity="0.8"/>
<circle cx="635.8" cy="662.1" r="1.5" fill="#000" opacity="0.8"/>
<circle cx="634.9" cy="671.3" r="4.7" fill="#39910c"/>
<circle cx="636.7" cy="669.6" r="0.9" fill="#000" opacity="0.8"/>
<circle cx="633.2" cy="671.2" r="1.0" fill="#000" opacity="0.8"/>
<circle cx="634.1" cy="671.2" r="1.2" fill="#000" opacity="0.8"/>
<circle cx="649.9" cy="630.3" r="4.1" fill="#50a70c"/>
<circle cx="651.8" cy="629.5" r="1.0" fill="#000" opacity="0.8"/>
<circle cx="651.9" cy="630.5" r="1.4" fill="#000" opacity="0.8"/>
<circle cx="645.9" cy="642.3" r="3.5" fill="#1f670c"/>
<circle cx="646.1" cy="643.1" r="1.4" fill="#000" opacity="0.8"/>
<circle cx="645.3" cy="643.6" r="1.3" fill="#000" opacity="0.8"/>
<circle cx="611.9" cy="646.3" r="3.5" fill="#217c0c"/>
<circle cx="613.5" cy="644.9" r="1.4" fill="#000" opacity="0.8"/>
<circle cx="610.1" cy="645.6" r="1.7" fill="#000" opacity="0.8"/>
<circle cx="598.9" cy="674.3" r="3.5" fill="#14670c"/>
<circle cx="599.1" cy="673.9" r="1.1" fill="#000" opacity="0.8"/>
<circle cx="599.6" cy="673.1" r="1.6" fill="#000" opacity="0.8"/>
<circle cx="643.9" cy="664.3" r="4.1" fill="#35680c"/>
<circle cx="645.9" cy="662.9" r="1.6" fill="#000" opacity="0.8"/>
<circle cx="641.9" cy="666.2" r="1.0" fill="#000" opacity="0.8"/>
<circle cx="650.5" cy="648.4" r="2.1" fill="#3a80ff" opacity="0.9"/>
<circle cx="636.6" cy="635.1" r="1.7" fill="#3a80ff" opacity="0.9"/>
<circle cx="629.1" cy="630.0" r="1.9" fill="#3a80ff" opacity="0.9"/>
<circle cx="645.4" cy="671.3" r="1.7" fill="#3a80ff" opacity="0.9"/>
<circle cx="599.6" cy="635.5" r="2.2" fill="#3a80ff" opacity="0.9"/>
<circle cx="596.3" cy="635.7" r="1.7" fill="#3a80ff" opacity="0.9"/>
<circle cx="602.1" cy="652.1" r="1.7" fill="#3a80ff" opacity="0.9"/>
<circle cx="618.2" cy="663.6" r="2.1" fill="#3a80ff" opacity="0.9"/>
<circle cx="618.5" cy="666.5" r="2.0" fill="#3a80ff" opacity="0.9"/>
<circle cx="641.9" cy="637.0" r="1.9" fill="#3a80ff" opacity="0.9"/>
<circle cx="627.9" cy="675.3" r="2.0" fill="#3a80ff" opacity="0.9"/>
<circle cx="621.9" cy="637.1" r="1.8" fill="#3a80ff" opacity="0.9"/>
<circle cx="607.2" cy="677.6" r="2.2" fill="#3a80ff" opacity="0.9"/>
<circle cx="645.7" cy="652.4" r="2.1" fill="#3a80ff" opacity="0.9"/>
<circle cx="611.7" cy="649.8" r="1.7" fill="#3a80ff" opacity="0.9"/>
<circle cx="618.8" cy="637.2" r="1.7" fill="#3a80ff" opacity="0.9"/>
<circle cx="647.1" cy="628.6" r="2.2" fill="#3a80ff" opacity="0.9"/>
<circle cx="634.6" cy="628.3" r="1.9" fill="#3a80ff" opacity="0.9"/>
<circle cx="651.5" cy="677.6" r="2.0" fill="#3a80ff" opacity="0.9"/>
<circle cx="638.7" cy="662.3" r="1.8" fill="#3a80ff" opacity="0.9"/>
<circle cx="626.1" cy="656.1" r="1.9" fill="#3a80ff" opacity="0.9"/>
<circle cx="641.4" cy="647.7" r="2.1" fill="#3a80ff" opacity="0.9"/>
<circle cx="598.6" cy="647.8" r="1.6" fill="#3a80ff" opacity="0.9"/>
<circle cx="631.6" cy="671.3" r="2.0" fill="#3a80ff" opacity="0.9"/>
<circle cx="627.0" cy="657.5" r="1.8" fill="#3a80ff" opacity="0.9"/>
<circle cx="616.8" cy="655.1" r="2.1" fill="#3a80ff" opacity="0.9"/>
<circle cx="616.5" cy="649.6" r="1.8" fill="#3a80ff" opacity="0.9"/>
<circle cx="626.4" cy="660.5" r="1.8" fill="#3a80ff" opacity="0.9"/>
<circle cx="633.8" cy="670.0" r="2.0" fill="#3a80ff" opacity="0.9"/>
<circle cx="650.6" cy="640.3" r="2.2" fill="#3a80ff" opacity="0.9"/>
<circle cx="605.2" cy="643.3" r="2.2" fill="#3a80ff" opacity="0.9"/>
<circle cx="596.8" cy="657.1" r="2.2" fill="#3a80ff" opacity="0.9"/>
<circle cx="648.5" cy="660.8" r="1.8" fill="#3a80ff" opacity="0.9"/>
<circle cx="613.8" cy="658.0" r="1.6" fill="#3a80ff" opacity="0.9"/>
<circle cx="596.5" cy="671.8" r="2.0" fill="#3a80ff" opacity="0.9"/>
<circle cx="604.2" cy="646.9" r="1.8" fill="#3a80ff" opacity="0.9"/>
<circle cx="644.3" cy="639.0" r="2.1" fill="#3a80ff" opacity="0.9"/>
<circle cx="637.1" cy="640.8" r="1.8" fill="#3a80ff" opacity="0.9"/>
<circle cx="624.5" cy="645.3" r="2.0" fill="#3a80ff" opacity="0.9"/>
<circle cx="613.5" cy="667.0" r="1.9" fill="#3a80ff" opacity="0.9"/>
<circle cx="602.6" cy="665.9" r="2.2" fill="#3a80ff" opacity="0.9"/>
<circle cx="633.6" cy="653.4" r="2.2" fill="#3a80ff" opacity="0.9"/>
</g></g>
<line x1="635.7" y1="677.1" x2="648.7" y2="677.1" stroke="#fff" stroke-width="1"/>
<text x="642.2" y="675.6" font-size="4.6" text-anchor="middle" fill="#e8e8e8" font-family="Liberation Serif" font-weight="bold">25 µm</text>
<text x="443.9" y="444.1" font-size="11.3" text-anchor="middle" fill="#22cc22" font-weight="bold">UCP1</text>
<text x="502.5" y="444.1" font-size="11.3" text-anchor="middle" fill="#ff3030" font-weight="bold">PLN</text>
<text x="562.0" y="444.1" font-size="11.3" text-anchor="middle" fill="#2020ff" font-weight="bold">DAPI</text>
<text x="623.0" y="444.1" font-size="11.3" text-anchor="middle" fill="#111" font-weight="bold">Merge</text>
<text x="406.2" y="474.5" font-size="11.8" text-anchor="middle" fill="#111" font-weight="bold" transform="rotate(-90 406.2 474.5)">Control</text>
<text x="393.7" y="533.0" font-size="11.8" text-anchor="middle" fill="#111" font-weight="bold" transform="rotate(-90 393.7 533.0)">10 µM</text>
<text x="408.2" y="533.0" font-size="11.8" text-anchor="middle" fill="#111" font-weight="bold" transform="rotate(-90 408.2 533.0)">3-PPA</text>
<text x="393.7" y="592.0" font-size="11.8" text-anchor="middle" fill="#111" font-weight="bold" transform="rotate(-90 393.7 592.0)">10 µM</text>
<text x="408.2" y="592.0" font-size="11.8" text-anchor="middle" fill="#111" font-weight="bold" transform="rotate(-90 408.2 592.0)">GW1100</text>
<text x="393.7" y="651.0" font-size="11.8" text-anchor="middle" fill="#111" font-weight="bold" transform="rotate(-90 393.7 651.0)">GW1100+</text>
<text x="408.2" y="651.0" font-size="11.8" text-anchor="middle" fill="#111" font-weight="bold" transform="rotate(-90 408.2 651.0)">3-PPA</text>
<text x="37.8" y="733.3" font-size="31" text-anchor="start" fill="#222" font-weight="bold">R</text>
<g transform="translate(37,770) scale(1.0)"><path d="M4,16 C4,9 12,5 20,5 C26,5 30,7 33,10 L38,13 C40,14 40,16 38,17 L34,18 C32,22 26,24 20,24 L10,24 C6,24 4,20 4,16Z" fill="#e6e6e6" stroke="#999" stroke-width="0.7"/><ellipse cx="28" cy="6" rx="3.5" ry="4" fill="#e6e6e6" stroke="#999" stroke-width="0.7"/><ellipse cx="32" cy="7" rx="2.6" ry="3.3" fill="#e6e6e6" stroke="#999" stroke-width="0.7"/><circle cx="34.5" cy="12" r="0.8" fill="#555"/><path d="M5,18 C0,22 0,26 10,27 L20,27" fill="none" stroke="#aaa" stroke-width="0.9"/><path d="M14,24 L13,26 M24,24 L25,26" stroke="#aaa" stroke-width="0.8"/></g>
<g transform="translate(37,829) scale(1.0)"><path d="M4,16 C4,9 12,5 20,5 C26,5 30,7 33,10 L38,13 C40,14 40,16 38,17 L34,18 C32,22 26,24 20,24 L10,24 C6,24 4,20 4,16Z" fill="#e6e6e6" stroke="#999" stroke-width="0.7"/><ellipse cx="28" cy="6" rx="3.5" ry="4" fill="#e6e6e6" stroke="#999" stroke-width="0.7"/><ellipse cx="32" cy="7" rx="2.6" ry="3.3" fill="#e6e6e6" stroke="#999" stroke-width="0.7"/><circle cx="34.5" cy="12" r="0.8" fill="#555"/><path d="M5,18 C0,22 0,26 10,27 L20,27" fill="none" stroke="#aaa" stroke-width="0.9"/><path d="M14,24 L13,26 M24,24 L25,26" stroke="#aaa" stroke-width="0.8"/></g>
<line x1="83.9" y1="781.7" x2="286.6" y2="781.7" stroke="#444" stroke-width="1.1"/>
<path d="M96.5,775.3 L122.2,775.3 L122.2,768.9 L136.2,781.7 L122.2,795.7 L122.2,788.4 L96.5,788.4Z" fill="#c00000" stroke="none" stroke-width="1"/>
<text x="110.3" y="785.7" font-size="11" text-anchor="middle" fill="#fff" font-weight="bold">U6</text>
<rect x="143.5" y="769.1" width="11.7" height="25.8" fill="#ed7d31" stroke="none" stroke-width="1"/>
<path d="M169.2,775.3 L194.9,775.3 L194.9,768.9 L208.3,781.7 L194.9,795.7 L194.9,788.4 L169.2,788.4Z" fill="#7f7f7f" stroke="none" stroke-width="1"/>
<text x="184.1" y="785.7" font-size="11" text-anchor="middle" fill="#fff" font-weight="bold">CMV</text>
<rect x="220.4" y="772.0" width="55.6" height="20.0" fill="#50d050" stroke="none" stroke-width="1"/>
<text x="248.2" y="785.7" font-size="11" text-anchor="middle" fill="#fff" font-weight="bold">EGFP</text>
<line x1="81.7" y1="848.6" x2="284.7" y2="848.6" stroke="#444" stroke-width="1.1"/>
<path d="M93.7,842.4 L119.7,842.4 L119.7,834.9 L133.7,848.6 L119.7,862 L119.7,855 L93.7,855Z" fill="#c00000" stroke="none" stroke-width="1"/>
<text x="107.7" y="852.6" font-size="11" text-anchor="middle" fill="#fff" font-weight="bold">U6</text>
<rect x="140.7" y="835.4" width="12.3" height="25.7" fill="#ed7d31" stroke="none" stroke-width="1"/>
<path d="M167,842.4 L193,842.4 L193,834.9 L206.4,848.6 L193,862 L193,855 L167,855Z" fill="#7f7f7f" stroke="none" stroke-width="1"/>
<text x="182.0" y="852.6" font-size="11" text-anchor="middle" fill="#fff" font-weight="bold">CMV</text>
<rect x="218.1" y="838.2" width="55.4" height="20.4" fill="#50d050" stroke="none" stroke-width="1"/>
<text x="245.8" y="852.6" font-size="11" text-anchor="middle" fill="#fff" font-weight="bold">EGFP</text>
<text x="123.0" y="762.2" font-size="10.2" text-anchor="middle" fill="#282828" font-weight="bold">AAV-sgCtrl</text>
<line x1="153.5" y1="799.0" x2="161.5" y2="803.5" stroke="#333" stroke-width="0.9"/>
<text x="171.3" y="813.6" font-size="10.8" text-anchor="middle" fill="#282828" font-weight="bold">sgCtrl</text>
<text x="57.3" y="808.5" font-size="10.5" text-anchor="middle" fill="#282828" font-weight="bold">WT</text>
<text x="124.5" y="830.5" font-size="10.2" font-weight="bold" text-anchor="middle" fill="#222">AAV-sg<tspan font-style="italic">Ffar1</tspan></text>
<line x1="151.0" y1="865.5" x2="159.0" y2="870.5" stroke="#333" stroke-width="0.9"/>
<text x="160.5" y="883.4" font-size="10.8" font-weight="bold" text-anchor="middle" fill="#222">sg<tspan font-style="italic">Ffar1</tspan></text>
<text x="35" y="870.5" font-size="10.5" font-weight="bold" fill="#222"><tspan font-style="italic">Ffar1</tspan>  KO</text>
<path d="M94,897 C98,892 110,894 130,897 C160,902 200,902 232,896 C250,893 262,890 265,895 C266,905 240,925 200,931 C165,936 120,930 100,915 C93,910 91,901 94,897Z" fill="#f6f59a" stroke="none" stroke-width="1"/>
<ellipse cx="177.6" cy="923.5" rx="9.8" ry="4" fill="#f08a00"/>
<text x="177.6" y="925.8" font-size="6.5" text-anchor="middle" fill="#222" font-weight="bold">LN</text>
<text x="243.7" y="914.7" font-size="10.5" text-anchor="middle" fill="#282828" font-weight="bold">iWAT</text>
<line x1="137.0" y1="885.7" x2="137.0" y2="900.0" stroke="#111" stroke-width="0.9"/>
<path d="M137,902.5 L135,898 L139,898Z" fill="#111" stroke="none" stroke-width="1"/>
<line x1="182.3" y1="885.7" x2="182.3" y2="900.0" stroke="#111" stroke-width="0.9"/>
<path d="M182.3,902.5 L180.3,898 L184.3,898Z" fill="#111" stroke="none" stroke-width="1"/>
<line x1="230.1" y1="885.7" x2="230.1" y2="900.0" stroke="#111" stroke-width="0.9"/>
<path d="M230.1,902.5 L228.1,898 L232.1,898Z" fill="#111" stroke="none" stroke-width="1"/>
<text x="116" y="945.5" font-size="10.6" font-weight="bold" fill="#222"><tspan font-style="italic">Ffar1</tspan>  sgRNA: :LSL-spCas9</text>
<text x="369.1" y="732.5" font-size="31" text-anchor="start" fill="#111" font-weight="bold">S</text>
<rect x="419.5" y="753.8" width="153.8" height="19.2" fill="#f2f2f2" stroke="#888" stroke-width="0.8"/>
<rect x="419.5" y="775.3" width="153.8" height="20.1" fill="#c2c2c2" stroke="#888" stroke-width="0.8"/>
<rect x="420.6" y="762.5" width="10.5" height="3.2" rx="1.5" fill="#000" opacity="0.85" filter="url(#b06)"/>
<rect x="420.4" y="782.7" width="11.0" height="3.6" rx="1.6" fill="#000" opacity="0.85" filter="url(#b06)"/>
<rect x="432.9" y="762.5" width="10.5" height="3.2" rx="1.5" fill="#000" opacity="0.80" filter="url(#b06)"/>
<rect x="432.7" y="782.7" width="11.0" height="3.6" rx="1.6" fill="#000" opacity="0.85" filter="url(#b06)"/>
<rect x="444.9" y="762.5" width="10.5" height="3.2" rx="1.5" fill="#000" opacity="0.85" filter="url(#b06)"/>
<rect x="444.7" y="782.7" width="11.0" height="3.6" rx="1.6" fill="#000" opacity="0.85" filter="url(#b06)"/>
<rect x="457.1" y="762.5" width="10.5" height="3.2" rx="1.5" fill="#000" opacity="0.95" filter="url(#b06)"/>
<rect x="456.8" y="782.7" width="11.0" height="3.6" rx="1.6" fill="#000" opacity="0.85" filter="url(#b06)"/>
<rect x="469.4" y="762.5" width="10.5" height="3.2" rx="1.5" fill="#000" opacity="0.70" filter="url(#b06)"/>
<rect x="469.1" y="782.7" width="11.0" height="3.6" rx="1.6" fill="#000" opacity="0.85" filter="url(#b06)"/>
<rect x="481.4" y="762.5" width="10.5" height="3.2" rx="1.5" fill="#000" opacity="0.95" filter="url(#b06)"/>
<rect x="481.1" y="782.7" width="11.0" height="3.6" rx="1.6" fill="#000" opacity="0.85" filter="url(#b06)"/>
<rect x="493.9" y="762.5" width="10.5" height="3.2" rx="1.5" fill="#000" opacity="0.35" filter="url(#b06)"/>
<rect x="493.7" y="782.7" width="11.0" height="3.6" rx="1.6" fill="#000" opacity="0.85" filter="url(#b06)"/>
<rect x="506.6" y="762.5" width="10.5" height="3.2" rx="1.5" fill="#000" opacity="0.30" filter="url(#b06)"/>
<rect x="506.3" y="782.7" width="11.0" height="3.6" rx="1.6" fill="#000" opacity="0.85" filter="url(#b06)"/>
<rect x="519.1" y="762.5" width="10.5" height="3.2" rx="1.5" fill="#000" opacity="0.35" filter="url(#b06)"/>
<rect x="518.9" y="782.7" width="11.0" height="3.6" rx="1.6" fill="#000" opacity="0.85" filter="url(#b06)"/>
<rect x="531.8" y="762.5" width="10.5" height="3.2" rx="1.5" fill="#000" opacity="0.30" filter="url(#b06)"/>
<rect x="531.5" y="782.7" width="11.0" height="3.6" rx="1.6" fill="#000" opacity="0.85" filter="url(#b06)"/>
<rect x="544.2" y="762.5" width="10.5" height="3.2" rx="1.5" fill="#000" opacity="0.30" filter="url(#b06)"/>
<rect x="544.0" y="782.7" width="11.0" height="3.6" rx="1.6" fill="#000" opacity="0.85" filter="url(#b06)"/>
<rect x="556.9" y="762.5" width="10.5" height="3.2" rx="1.5" fill="#000" opacity="0.25" filter="url(#b06)"/>
<rect x="556.6" y="782.7" width="11.0" height="3.6" rx="1.6" fill="#000" opacity="0.85" filter="url(#b06)"/>
<line x1="423.1" y1="751.0" x2="489.4" y2="751.0" stroke="#444" stroke-width="0.9"/>
<line x1="497.2" y1="751.0" x2="564.3" y2="751.0" stroke="#444" stroke-width="0.9"/>
<text x="455.9" y="750.5" font-size="13.4" text-anchor="start" fill="#282828" stroke="#282828" stroke-width="0.15" transform="rotate(-31 455.9 750.5)">Control</text>
<text transform="rotate(-31 530 751.3)" x="530" y="751.3" font-size="13.4" fill="#222"><tspan font-style="italic">Ffar1</tspan> KO</text>
<text x="578.9" y="747.4" font-size="10.3" text-anchor="start" fill="#282828" stroke="#282828" stroke-width="0.15">(kDa)</text>
<line x1="573.3" y1="758.0" x2="584.0" y2="758.0" stroke="#444" stroke-width="0.9"/>
<text x="587.3" y="765.6" font-size="12" text-anchor="start" fill="#282828" stroke="#282828" stroke-width="0.15">35</text>
<line x1="573.3" y1="793.5" x2="584.0" y2="793.5" stroke="#444" stroke-width="0.9"/>
<text x="587.3" y="795.0" font-size="12" text-anchor="start" fill="#282828" stroke="#282828" stroke-width="0.15">50</text>
<text x="413.9" y="768.6" font-size="12.5" text-anchor="end" fill="#282828" stroke="#282828" stroke-width="0.15">FFAR1</text>
<text x="413.9" y="790.2" font-size="12.9" text-anchor="end" fill="#282828" stroke="#282828" stroke-width="0.15">Tubulin</text>
<text x="369.1" y="829.0" font-size="31" text-anchor="start" fill="#111" font-weight="bold">T</text>
<line x1="422.7" y1="929.0" x2="506.2" y2="929.0" stroke="#555" stroke-width="1.3"/>
<line x1="422.7" y1="929.5" x2="422.7" y2="845.8" stroke="#555" stroke-width="1.3"/>
<line x1="418.7" y1="929.0" x2="422.7" y2="929.0" stroke="#555" stroke-width="1.3"/>
<text x="417.2" y="933.4" font-size="12.2" text-anchor="end" fill="#282828" stroke="#282828" stroke-width="0.15">0.0</text>
<line x1="418.7" y1="901.3" x2="422.7" y2="901.3" stroke="#555" stroke-width="1.3"/>
<text x="417.2" y="905.7" font-size="12.2" text-anchor="end" fill="#282828" stroke="#282828" stroke-width="0.15">0.5</text>
<line x1="418.7" y1="873.5" x2="422.7" y2="873.5" stroke="#555" stroke-width="1.3"/>
<text x="417.2" y="877.9" font-size="12.2" text-anchor="end" fill="#282828" stroke="#282828" stroke-width="0.15">1.0</text>
<line x1="418.7" y1="845.8" x2="422.7" y2="845.8" stroke="#555" stroke-width="1.3"/>
<text x="417.2" y="850.2" font-size="12.2" text-anchor="end" fill="#282828" stroke="#282828" stroke-width="0.15">1.5</text>
<rect x="434.9" y="875.8" width="23.2" height="53.2" fill="#ffffff" stroke="#555" stroke-width="1.3"/>
<rect x="470.4" y="914.0" width="23.2" height="15.0" fill="#ff0000" stroke="#b00000" stroke-width="1.3"/>
<line x1="446.5" y1="880.7" x2="446.5" y2="870.8" stroke="#555" stroke-width="1.1"/>
<line x1="442.5" y1="870.8" x2="450.5" y2="870.8" stroke="#555" stroke-width="1.1"/>
<line x1="442.5" y1="880.7" x2="450.5" y2="880.7" stroke="#555" stroke-width="1.1"/>
<line x1="482.0" y1="915.1" x2="482.0" y2="912.9" stroke="#555" stroke-width="1.1"/>
<line x1="478.0" y1="912.9" x2="486.0" y2="912.9" stroke="#555" stroke-width="1.1"/>
<line x1="478.0" y1="915.1" x2="486.0" y2="915.1" stroke="#555" stroke-width="1.1"/>
<circle cx="446.5" cy="859.7" r="1.9" fill="#fff" stroke="#555" stroke-width="1.0"/>
<circle cx="443.5" cy="870.8" r="1.9" fill="#fff" stroke="#555" stroke-width="1.0"/>
<circle cx="449.5" cy="873.5" r="1.9" fill="#fff" stroke="#555" stroke-width="1.0"/>
<circle cx="446.5" cy="875.8" r="1.9" fill="#fff" stroke="#555" stroke-width="1.0"/>
<circle cx="446.5" cy="886.8" r="1.9" fill="#fff" stroke="#555" stroke-width="1.0"/>
<circle cx="446.5" cy="891.8" r="1.9" fill="#fff" stroke="#555" stroke-width="1.0"/>
<circle cx="482.0" cy="911.3" r="1.9" fill="#fff" stroke="#555" stroke-width="1.0"/>
<circle cx="477.0" cy="912.4" r="1.9" fill="#fff" stroke="#555" stroke-width="1.0"/>
<circle cx="487.0" cy="912.9" r="1.9" fill="#fff" stroke="#555" stroke-width="1.0"/>
<circle cx="479.0" cy="914.6" r="1.9" fill="#fff" stroke="#555" stroke-width="1.0"/>
<circle cx="485.0" cy="915.7" r="1.9" fill="#fff" stroke="#555" stroke-width="1.0"/>
<circle cx="482.0" cy="915.1" r="1.9" fill="#fff" stroke="#555" stroke-width="1.0"/>
<line x1="446.5" y1="929.0" x2="446.5" y2="933.0" stroke="#555" stroke-width="1.1"/>
<line x1="482.0" y1="929.0" x2="482.0" y2="933.0" stroke="#555" stroke-width="1.1"/>
<path d="M446,848.8 L446,845.2 L481,845.2 L481,848.8" fill="none" stroke="#333" stroke-width="1.1"/>
<text x="464.2" y="847.0" font-size="17" text-anchor="middle" fill="#222" stroke="#222" stroke-width="0.15">***</text>
<rect x="495.0" y="858.5" width="8.9" height="9.5" fill="#ffffff" stroke="#555" stroke-width="1.2"/>
<text x="509.0" y="867.5" font-size="11.8" text-anchor="start" fill="#282828" stroke="#282828" stroke-width="0.15">Control</text>
<rect x="495.0" y="875.1" width="8.9" height="9.2" fill="#ff0000" stroke="#b00000" stroke-width="1.2"/>
<text x="509.0" y="883.9" font-size="11.8" text-anchor="start" fill="#282828" stroke="#282828" stroke-width="0.15"><tspan font-style="italic">Ffar1</tspan> KO</text>
<text x="379.3" y="884.4" font-size="13.4" text-anchor="middle" fill="#282828" stroke="#282828" stroke-width="0.15" transform="rotate(-90 379.3 884.4)">Relative FFAR1</text>
<text x="393.8" y="884.4" font-size="13.4" text-anchor="middle" fill="#282828" stroke="#282828" stroke-width="0.15" transform="rotate(-90 393.8 884.4)">expression</text>
<text x="641.3" y="732.5" font-size="31" text-anchor="start" fill="#111" font-weight="bold">U</text>
<rect x="691.7" y="759.9" width="150.4" height="18.2" fill="#efefef" stroke="#999" stroke-width="0.8"/>
<rect x="691.7" y="780.3" width="150.4" height="17.9" fill="#efefef" stroke="#999" stroke-width="0.8"/>
<rect x="693.6" y="765.2" width="10.5" height="3.6" rx="1.6" fill="#000" opacity="0.75" filter="url(#b06)"/>
<rect x="693.6" y="786.2" width="10.5" height="3.4" rx="1.5" fill="#000" opacity="0.95" filter="url(#b06)"/>
<rect x="705.5" y="765.2" width="10.5" height="3.6" rx="1.6" fill="#000" opacity="0.70" filter="url(#b06)"/>
<rect x="705.5" y="786.2" width="10.5" height="3.4" rx="1.5" fill="#000" opacity="0.95" filter="url(#b06)"/>
<rect x="717.5" y="765.2" width="10.5" height="3.6" rx="1.6" fill="#000" opacity="0.65" filter="url(#b06)"/>
<rect x="717.5" y="786.2" width="10.5" height="3.4" rx="1.5" fill="#000" opacity="0.95" filter="url(#b06)"/>
<rect x="729.8" y="765.2" width="10.5" height="3.6" rx="1.6" fill="#000" opacity="1.00" filter="url(#b06)"/>
<rect x="729.8" y="786.2" width="10.5" height="3.4" rx="1.5" fill="#000" opacity="0.95" filter="url(#b06)"/>
<rect x="742.4" y="765.2" width="10.5" height="3.6" rx="1.6" fill="#000" opacity="1.00" filter="url(#b06)"/>
<rect x="742.4" y="786.2" width="10.5" height="3.4" rx="1.5" fill="#000" opacity="0.95" filter="url(#b06)"/>
<rect x="755.0" y="765.2" width="10.5" height="3.6" rx="1.6" fill="#000" opacity="1.00" filter="url(#b06)"/>
<rect x="755.0" y="786.2" width="10.5" height="3.4" rx="1.5" fill="#000" opacity="0.95" filter="url(#b06)"/>
<rect x="767.0" y="765.2" width="10.5" height="3.6" rx="1.6" fill="#000" opacity="0.30" filter="url(#b06)"/>
<rect x="767.0" y="786.2" width="10.5" height="3.4" rx="1.5" fill="#000" opacity="0.95" filter="url(#b06)"/>
<rect x="779.5" y="765.2" width="10.5" height="3.6" rx="1.6" fill="#000" opacity="0.30" filter="url(#b06)"/>
<rect x="779.5" y="786.2" width="10.5" height="3.4" rx="1.5" fill="#000" opacity="0.95" filter="url(#b06)"/>
<rect x="792.1" y="765.2" width="10.5" height="3.6" rx="1.6" fill="#000" opacity="0.30" filter="url(#b06)"/>
<rect x="792.1" y="786.2" width="10.5" height="3.4" rx="1.5" fill="#000" opacity="0.95" filter="url(#b06)"/>
<rect x="804.1" y="765.2" width="10.5" height="3.6" rx="1.6" fill="#000" opacity="0.25" filter="url(#b06)"/>
<rect x="804.1" y="786.2" width="10.5" height="3.4" rx="1.5" fill="#000" opacity="0.95" filter="url(#b06)"/>
<rect x="816.5" y="765.2" width="10.5" height="3.6" rx="1.6" fill="#000" opacity="0.25" filter="url(#b06)"/>
<rect x="816.5" y="786.2" width="10.5" height="3.4" rx="1.5" fill="#000" opacity="0.95" filter="url(#b06)"/>
<rect x="828.5" y="765.2" width="10.5" height="3.6" rx="1.6" fill="#000" opacity="0.25" filter="url(#b06)"/>
<rect x="828.5" y="786.2" width="10.5" height="3.4" rx="1.5" fill="#000" opacity="0.95" filter="url(#b06)"/>
<line x1="698.9" y1="758.0" x2="728.8" y2="758.0" stroke="#444" stroke-width="0.9"/>
<line x1="733.6" y1="758.0" x2="763.8" y2="758.0" stroke="#444" stroke-width="0.9"/>
<line x1="769.4" y1="758.0" x2="800.2" y2="758.0" stroke="#444" stroke-width="0.9"/>
<line x1="805.7" y1="758.0" x2="836.5" y2="758.0" stroke="#444" stroke-width="0.9"/>
<text x="701.0" y="755.5" font-size="13.4" text-anchor="start" fill="#282828" stroke="#282828" stroke-width="0.15" transform="rotate(-31 701.0 755.5)">Control</text>
<text x="737.3" y="755.5" font-size="13.4" text-anchor="start" fill="#282828" stroke="#282828" stroke-width="0.15" transform="rotate(-31 737.3 755.5)">0.5% 3-PPA</text>
<text transform="rotate(-31 777.9 757.7)" x="777.9" y="757.7" font-size="13.4" fill="#222"><tspan font-style="italic">Ffar1</tspan> KO</text>
<text transform="rotate(-31 814.3 757.7)" x="814.3" y="757.7" font-size="13.4" fill="#222"><tspan font-style="italic">Ffar1</tspan> KO+3-PPA</text>
<text x="688.3" y="775.8" font-size="13.1" text-anchor="end" fill="#282828" stroke="#282828" stroke-width="0.15">UCP1</text>
<text x="688.3" y="794.1" font-size="13.3" text-anchor="end" fill="#282828" stroke="#282828" stroke-width="0.15">Tubulin</text>
<line x1="843.0" y1="764.0" x2="855.0" y2="764.0" stroke="#444" stroke-width="0.9"/>
<text x="856.1" y="768.4" font-size="12" text-anchor="start" fill="#282828" stroke="#282828" stroke-width="0.15">35</text>
<line x1="843.0" y1="795.0" x2="855.0" y2="795.0" stroke="#444" stroke-width="0.9"/>
<text x="856.1" y="799.2" font-size="12" text-anchor="start" fill="#282828" stroke="#282828" stroke-width="0.15">50</text>
<text x="847.1" y="754.7" font-size="10.3" text-anchor="start" fill="#282828" stroke="#282828" stroke-width="0.15">(kDa)</text>
<text x="643.0" y="829.8" font-size="31" text-anchor="start" fill="#111" font-weight="bold">V</text>
<line x1="697.5" y1="932.2" x2="818.3" y2="932.2" stroke="#555" stroke-width="1.3"/>
<line x1="697.5" y1="932.7" x2="697.5" y2="852.0" stroke="#555" stroke-width="1.3"/>
<line x1="693.5" y1="932.2" x2="697.5" y2="932.2" stroke="#555" stroke-width="1.3"/>
<text x="692.0" y="936.5" font-size="12" text-anchor="end" fill="#282828" stroke="#282828" stroke-width="0.15">0.0</text>
<line x1="693.5" y1="912.2" x2="697.5" y2="912.2" stroke="#555" stroke-width="1.3"/>
<text x="692.0" y="916.5" font-size="12" text-anchor="end" fill="#282828" stroke="#282828" stroke-width="0.15">0.5</text>
<line x1="693.5" y1="892.1" x2="697.5" y2="892.1" stroke="#555" stroke-width="1.3"/>
<text x="692.0" y="896.4" font-size="12" text-anchor="end" fill="#282828" stroke="#282828" stroke-width="0.15">1.0</text>
<line x1="693.5" y1="872.0" x2="697.5" y2="872.0" stroke="#555" stroke-width="1.3"/>
<text x="692.0" y="876.4" font-size="12" text-anchor="end" fill="#282828" stroke="#282828" stroke-width="0.15">1.5</text>
<line x1="693.5" y1="852.0" x2="697.5" y2="852.0" stroke="#555" stroke-width="1.3"/>
<text x="692.0" y="856.3" font-size="12" text-anchor="end" fill="#282828" stroke="#282828" stroke-width="0.15">2.0</text>
<rect x="706.5" y="892.1" width="18.7" height="40.1" fill="#ffffff" stroke="#555" stroke-width="1.3"/>
<line x1="715.9" y1="893.3" x2="715.9" y2="890.9" stroke="#555" stroke-width="1.1"/>
<line x1="711.9" y1="890.9" x2="719.9" y2="890.9" stroke="#555" stroke-width="1.1"/>
<line x1="711.9" y1="893.3" x2="719.9" y2="893.3" stroke="#555" stroke-width="1.1"/>
<circle cx="715.9" cy="890.1" r="1.8" fill="#fff" stroke="#555" stroke-width="1.0"/>
<circle cx="712.9" cy="892.1" r="1.8" fill="#fff" stroke="#555" stroke-width="1.0"/>
<circle cx="718.9" cy="892.9" r="1.8" fill="#fff" stroke="#555" stroke-width="1.0"/>
<line x1="715.9" y1="932.2" x2="715.9" y2="936.2" stroke="#555" stroke-width="1.1"/>
<text x="715.9" y="885.9" font-size="16" text-anchor="middle" fill="#111" font-weight="bold">a</text>
<rect x="735.0" y="862.8" width="18.2" height="69.4" fill="#ff0000" stroke="#b00000" stroke-width="1.3"/>
<line x1="744.1" y1="866.8" x2="744.1" y2="858.8" stroke="#555" stroke-width="1.1"/>
<line x1="740.1" y1="858.8" x2="748.1" y2="858.8" stroke="#555" stroke-width="1.1"/>
<line x1="740.1" y1="866.8" x2="748.1" y2="866.8" stroke="#555" stroke-width="1.1"/>
<circle cx="744.1" cy="857.2" r="1.8" fill="#fff" stroke="#555" stroke-width="1.0"/>
<circle cx="744.1" cy="862.0" r="1.8" fill="#fff" stroke="#555" stroke-width="1.0"/>
<circle cx="744.1" cy="868.0" r="1.8" fill="#fff" stroke="#555" stroke-width="1.0"/>
<line x1="744.1" y1="932.2" x2="744.1" y2="936.2" stroke="#555" stroke-width="1.1"/>
<text x="744.1" y="853.0" font-size="16" text-anchor="middle" fill="#111" font-weight="bold">b</text>
<rect x="762.4" y="910.9" width="18.7" height="21.3" fill="#b3b3b3" stroke="#666" stroke-width="1.3"/>
<line x1="771.8" y1="911.7" x2="771.8" y2="910.1" stroke="#555" stroke-width="1.1"/>
<line x1="767.8" y1="910.1" x2="775.8" y2="910.1" stroke="#555" stroke-width="1.1"/>
<line x1="767.8" y1="911.7" x2="775.8" y2="911.7" stroke="#555" stroke-width="1.1"/>
<circle cx="771.8" cy="910.1" r="1.8" fill="#fff" stroke="#555" stroke-width="1.0"/>
<circle cx="768.8" cy="910.1" r="1.8" fill="#fff" stroke="#555" stroke-width="1.0"/>
<circle cx="774.8" cy="911.3" r="1.8" fill="#fff" stroke="#555" stroke-width="1.0"/>
<line x1="771.8" y1="932.2" x2="771.8" y2="936.2" stroke="#555" stroke-width="1.1"/>
<text x="771.8" y="905.9" font-size="16" text-anchor="middle" fill="#111" font-weight="bold">c</text>
<rect x="790.4" y="908.9" width="18.1" height="23.3" fill="#6666ff" stroke="#2a2a90" stroke-width="1.3"/>
<line x1="799.5" y1="910.1" x2="799.5" y2="907.7" stroke="#555" stroke-width="1.1"/>
<line x1="795.5" y1="907.7" x2="803.5" y2="907.7" stroke="#555" stroke-width="1.1"/>
<line x1="795.5" y1="910.1" x2="803.5" y2="910.1" stroke="#555" stroke-width="1.1"/>
<circle cx="796.5" cy="908.1" r="1.8" fill="#fff" stroke="#555" stroke-width="1.0"/>
<circle cx="802.5" cy="908.9" r="1.8" fill="#fff" stroke="#555" stroke-width="1.0"/>
<circle cx="799.5" cy="909.7" r="1.8" fill="#fff" stroke="#555" stroke-width="1.0"/>
<line x1="799.5" y1="932.2" x2="799.5" y2="936.2" stroke="#555" stroke-width="1.1"/>
<text x="799.5" y="903.5" font-size="16" text-anchor="middle" fill="#111" font-weight="bold">c</text>
<rect x="816.9" y="851.2" width="8.4" height="8.6" fill="#ffffff" stroke="#555" stroke-width="1.2"/>
<text x="830.9" y="859.5" font-size="11.2" text-anchor="start" fill="#282828" stroke="#282828" stroke-width="0.15">Control</text>
<rect x="816.9" y="866.1" width="8.4" height="8.6" fill="#ff0000" stroke="#b00000" stroke-width="1.2"/>
<text x="830.9" y="874.4" font-size="11.2" text-anchor="start" fill="#282828" stroke="#282828" stroke-width="0.15">0.5% 3-PPA</text>
<rect x="816.9" y="880.6" width="8.4" height="8.6" fill="#b3b3b3" stroke="#666" stroke-width="1.2"/>
<text x="830.9" y="888.9" font-size="11.2" text-anchor="start" fill="#282828" stroke="#282828" stroke-width="0.15"><tspan font-style="italic">Ffar1</tspan> KO</text>
<rect x="816.9" y="895.4" width="8.4" height="8.6" fill="#6666ff" stroke="#2a2a90" stroke-width="1.2"/>
<text x="830.9" y="903.7" font-size="11.2" text-anchor="start" fill="#282828" stroke="#282828" stroke-width="0.15"><tspan font-style="italic">Ffar1</tspan> KO+3-PPA</text>
<text x="654.2" y="892.5" font-size="13.1" text-anchor="middle" fill="#282828" stroke="#282828" stroke-width="0.15" transform="rotate(-90 654.2 892.5)">Relative UCP1</text>
<text x="667.8" y="892.5" font-size="13.2" text-anchor="middle" fill="#282828" stroke="#282828" stroke-width="0.15" transform="rotate(-90 667.8 892.5)">expression</text>
<text x="935.4" y="730.5" font-size="31" text-anchor="start" fill="#111" font-weight="bold">W</text>
<rect x="965.0" y="731.5" width="273.0" height="205.0" fill="#e4e4e4" stroke="none" stroke-width="1"/>
<g clip-path="url(#wclip00)">
<rect x="966.1" y="732.5" width="66.6" height="49.8" fill="#000" stroke="none" stroke-width="1"/>
<g style="isolation:isolate">
<g>
<rect x="966.1" y="732.5" width="66.6" height="49.8" fill="#000" filter="url(#tGreenFaint)"/>
<polygon points="979.1,732.5 1009.1,732.5 1022.1,755.5 1032.7,772.5 1032.7,782.3 987.7,782.3 985.1,768.5 983.1,751.5 978.1,746.5 966.1,758.5 966.1,741.5 978.1,741.5" fill="#000" filter="url(#tGreen0)"/>
</g>
</g>
</g>
<line x1="1015.7" y1="779.8" x2="1028.7" y2="779.8" stroke="#fff" stroke-width="1"/>
<text x="1022.2" y="778.3" font-size="5.6" text-anchor="middle" fill="#e8e8e8" font-family="Liberation Serif" font-weight="bold">50 µm</text>
<g clip-path="url(#wclip01)">
<rect x="1034.1" y="732.5" width="66.3" height="49.8" fill="#000" stroke="none" stroke-width="1"/>
<g style="isolation:isolate">
<rect x="1034.1" y="732.5" width="66.3" height="49.8" fill="#000" filter="url(#tBlue)" opacity="1.0"/>
</g>
</g>
<line x1="1083.4" y1="779.8" x2="1096.4" y2="779.8" stroke="#fff" stroke-width="1"/>
<text x="1089.9" y="778.3" font-size="5.6" text-anchor="middle" fill="#e8e8e8" font-family="Liberation Serif" font-weight="bold">50 µm</text>
<g clip-path="url(#wclip02)">
<rect x="1101.8" y="732.5" width="66.5" height="49.8" fill="#000" stroke="none" stroke-width="1"/>
<g style="isolation:isolate">
<rect x="1101.8" y="732.5" width="66.5" height="49.8" fill="#000" filter="url(#tBlue)" opacity="0.8"/>
<g>
<rect x="1101.8" y="732.5" width="66.5" height="49.8" fill="#000" filter="url(#tGreenFaint)"/>
<polygon points="1114.8,732.5 1144.8,732.5 1157.8,755.5 1168.4,772.5 1168.4,782.3 1123.4,782.3 1120.8,768.5 1118.8,751.5 1113.8,746.5 1101.8,758.5 1101.8,741.5 1113.8,741.5" fill="#000" filter="url(#tGreen0)"/>
</g>
</g>
</g>
<line x1="1151.3" y1="779.8" x2="1164.3" y2="779.8" stroke="#fff" stroke-width="1"/>
<text x="1157.8" y="778.3" font-size="5.6" text-anchor="middle" fill="#e8e8e8" font-family="Liberation Serif" font-weight="bold">50 µm</text>
<g clip-path="url(#wclip03)">
<rect x="1169.7" y="732.5" width="67.1" height="49.8" fill="#d4d2d8" stroke="none" stroke-width="1"/>
<rect x="1169.7" y="732.5" width="67.1" height="49.8" fill="#000" filter="url(#tHE0)"/>
</g>
<line x1="1219.8" y1="779.3" x2="1232.8" y2="779.3" stroke="#111" stroke-width="1.3"/>
<text x="1226.3" y="777.5" font-size="5.6" text-anchor="middle" fill="#111" font-family="Liberation Serif" font-weight="bold">50 µm</text>
<g clip-path="url(#wclip10)">
<rect x="966.1" y="783.7" width="66.6" height="49.5" fill="#000" stroke="none" stroke-width="1"/>
<g style="isolation:isolate">
<g>
<rect x="966.1" y="783.7" width="66.6" height="49.5" fill="#000" filter="url(#tGreenFaint)"/>
<polygon points="966.1,783.7 1032.7,783.7 1032.7,833.5 966.1,833.5" fill="#000" filter="url(#tGreen1)"/>
</g>
<path d="M980.1,783.7 L992.0,800.7 L1002.8,820.4 L1008.1,833.5" fill="none" stroke="#000" stroke-width="1.6" opacity="0.85"/>
<path d="M1032.7,794.5 L1020.1,807.5 L1010.4,822.6 L1008.1,833.5" fill="none" stroke="#000" stroke-width="1.6" opacity="0.85"/>
</g>
</g>
<line x1="1015.7" y1="830.7" x2="1028.7" y2="830.7" stroke="#fff" stroke-width="1"/>
<text x="1022.2" y="829.2" font-size="5.6" text-anchor="middle" fill="#e8e8e8" font-family="Liberation Serif" font-weight="bold">50 µm</text>
<g clip-path="url(#wclip11)">
<rect x="1034.1" y="783.7" width="66.3" height="49.5" fill="#000" stroke="none" stroke-width="1"/>
<g style="isolation:isolate">
<rect x="1034.1" y="783.7" width="66.3" height="49.5" fill="#000" filter="url(#tBlue)" opacity="1.0"/>
<path d="M1048.1,783.7 L1060.0,800.7 L1070.8,820.4 L1076.1,833.5" fill="none" stroke="#000" stroke-width="1.6" opacity="0.85"/>
<path d="M1100.7,794.5 L1088.1,807.5 L1078.4,822.6 L1076.1,833.5" fill="none" stroke="#000" stroke-width="1.6" opacity="0.85"/>
</g>
</g>
<line x1="1083.4" y1="830.7" x2="1096.4" y2="830.7" stroke="#fff" stroke-width="1"/>
<text x="1089.9" y="829.2" font-size="5.6" text-anchor="middle" fill="#e8e8e8" font-family="Liberation Serif" font-weight="bold">50 µm</text>
<g clip-path="url(#wclip12)">
<rect x="1101.8" y="783.7" width="66.5" height="49.5" fill="#000" stroke="none" stroke-width="1"/>
<g style="isolation:isolate">
<rect x="1101.8" y="783.7" width="66.5" height="49.5" fill="#000" filter="url(#tBlue)" opacity="0.8"/>
<g>
<rect x="1101.8" y="783.7" width="66.5" height="49.5" fill="#000" filter="url(#tGreenFaint)"/>
<polygon points="1101.8,783.7 1168.4,783.7 1168.4,833.5 1101.8,833.5" fill="#000" filter="url(#tGreen1)"/>
</g>
<path d="M1115.8,783.7 L1127.7,800.7 L1138.5,820.4 L1143.8,833.5" fill="none" stroke="#000" stroke-width="1.6" opacity="0.85"/>
<path d="M1168.4,794.5 L1155.8,807.5 L1146.1,822.6 L1143.8,833.5" fill="none" stroke="#000" stroke-width="1.6" opacity="0.85"/>
</g>
</g>
<line x1="1151.3" y1="830.7" x2="1164.3" y2="830.7" stroke="#fff" stroke-width="1"/>
<text x="1157.8" y="829.2" font-size="5.6" text-anchor="middle" fill="#e8e8e8" font-family="Liberation Serif" font-weight="bold">50 µm</text>
<g clip-path="url(#wclip13)">
<rect x="1169.7" y="783.7" width="67.1" height="49.5" fill="#dccfe0" stroke="none" stroke-width="1"/>
<rect x="1169.7" y="783.7" width="67.1" height="49.5" fill="#000" filter="url(#tHE1)"/>
</g>
<line x1="1219.8" y1="830.2" x2="1232.8" y2="830.2" stroke="#111" stroke-width="1.3"/>
<text x="1226.3" y="828.4" font-size="5.6" text-anchor="middle" fill="#111" font-family="Liberation Serif" font-weight="bold">50 µm</text>
<g clip-path="url(#wclip20)">
<rect x="966.1" y="834.6" width="66.6" height="48.9" fill="#000" stroke="none" stroke-width="1"/>
<g style="isolation:isolate">
<g>
<rect x="966.1" y="834.6" width="66.6" height="48.9" fill="#000" filter="url(#tGreenFaint)"/>
<polygon points="966.1,834.6 998.1,834.6 1000.1,859.6 996.1,884.4 966.1,884.4" fill="#000" filter="url(#tGreenSp)"/>
<polygon points="1006.1,834.6 1026.1,834.6 1029.1,854.6 1026.1,884.4 1010.1,884.4 1008.1,864.6 1004.1,846.6" fill="#000" filter="url(#tGreen2)"/>
</g>
</g>
</g>
<line x1="1015.7" y1="881.0" x2="1028.7" y2="881.0" stroke="#fff" stroke-width="1"/>
<text x="1022.2" y="879.5" font-size="5.6" text-anchor="middle" fill="#e8e8e8" font-family="Liberation Serif" font-weight="bold">50 µm</text>
<g clip-path="url(#wclip21)">
<rect x="1034.1" y="834.6" width="66.3" height="48.9" fill="#000" stroke="none" stroke-width="1"/>
<g style="isolation:isolate">
<rect x="1034.1" y="834.6" width="66.3" height="48.9" fill="#000" filter="url(#tBlue)" opacity="1.0"/>
</g>
</g>
<line x1="1083.4" y1="881.0" x2="1096.4" y2="881.0" stroke="#fff" stroke-width="1"/>
<text x="1089.9" y="879.5" font-size="5.6" text-anchor="middle" fill="#e8e8e8" font-family="Liberation Serif" font-weight="bold">50 µm</text>
<g clip-path="url(#wclip22)">
<rect x="1101.8" y="834.6" width="66.5" height="48.9" fill="#000" stroke="none" stroke-width="1"/>
<g style="isolation:isolate">
<rect x="1101.8" y="834.6" width="66.5" height="48.9" fill="#000" filter="url(#tBlue)" opacity="0.8"/>
<g>
<rect x="1101.8" y="834.6" width="66.5" height="48.9" fill="#000" filter="url(#tGreenFaint)"/>
<polygon points="1101.8,834.6 1133.8,834.6 1135.8,859.6 1131.8,884.4 1101.8,884.4" fill="#000" filter="url(#tGreenSp)"/>
<polygon points="1141.8,834.6 1161.8,834.6 1164.8,854.6 1161.8,884.4 1145.8,884.4 1143.8,864.6 1139.8,846.6" fill="#000" filter="url(#tGreen2)"/>
</g>
</g>
</g>
<line x1="1151.3" y1="881.0" x2="1164.3" y2="881.0" stroke="#fff" stroke-width="1"/>
<text x="1157.8" y="879.5" font-size="5.6" text-anchor="middle" fill="#e8e8e8" font-family="Liberation Serif" font-weight="bold">50 µm</text>
<g clip-path="url(#wclip23)">
<rect x="1169.7" y="834.6" width="67.1" height="48.9" fill="#ebe2ec" stroke="none" stroke-width="1"/>
<rect x="1169.7" y="834.6" width="67.1" height="48.9" fill="#000" filter="url(#tHE2)"/>
</g>
<line x1="1219.8" y1="880.5" x2="1232.8" y2="880.5" stroke="#111" stroke-width="1.3"/>
<text x="1226.3" y="878.7" font-size="5.6" text-anchor="middle" fill="#111" font-family="Liberation Serif" font-weight="bold">50 µm</text>
<g clip-path="url(#wclip30)">
<rect x="966.1" y="884.9" width="66.6" height="50.3" fill="#000" stroke="none" stroke-width="1"/>
<g style="isolation:isolate">
<g>
<rect x="966.1" y="884.9" width="66.6" height="50.3" fill="#000" filter="url(#tGreenFaint)"/>
<polygon points="992.1,892.9 1018.1,890.9 1028.1,904.9 1024.1,920.9 1010.1,926.9 996.1,920.9 988.1,906.9" fill="#000" filter="url(#tGreen3)"/>
<polygon points="978.1,914.9 996.1,914.9 998.1,930.9 980.1,930.9" fill="#000" filter="url(#tGreen3)"/>
</g>
<path d="M966.1,906.9 L976.9,903.9 L992.0,897.4 L1009.1,887.7 L1016.1,884.9" fill="none" stroke="#000" stroke-width="1.6" opacity="0.85"/>
</g>
</g>
<line x1="1015.7" y1="932.7" x2="1028.7" y2="932.7" stroke="#fff" stroke-width="1"/>
<text x="1022.2" y="931.2" font-size="5.6" text-anchor="middle" fill="#e8e8e8" font-family="Liberation Serif" font-weight="bold">50 µm</text>
<g clip-path="url(#wclip31)">
<rect x="1034.1" y="884.9" width="66.3" height="50.3" fill="#000" stroke="none" stroke-width="1"/>
<g style="isolation:isolate">
<rect x="1034.1" y="884.9" width="66.3" height="50.3" fill="#000" filter="url(#tBlue)" opacity="1.0"/>
<path d="M1034.1,906.9 L1044.9,903.9 L1060.0,897.4 L1077.1,887.7 L1084.1,884.9" fill="none" stroke="#000" stroke-width="1.6" opacity="0.85"/>
</g>
</g>
<line x1="1083.4" y1="932.7" x2="1096.4" y2="932.7" stroke="#fff" stroke-width="1"/>
<text x="1089.9" y="931.2" font-size="5.6" text-anchor="middle" fill="#e8e8e8" font-family="Liberation Serif" font-weight="bold">50 µm</text>
<g clip-path="url(#wclip32)">
<rect x="1101.8" y="884.9" width="66.5" height="50.3" fill="#000" stroke="none" stroke-width="1"/>
<g style="isolation:isolate">
<rect x="1101.8" y="884.9" width="66.5" height="50.3" fill="#000" filter="url(#tBlue)" opacity="0.8"/>
<g>
<rect x="1101.8" y="884.9" width="66.5" height="50.3" fill="#000" filter="url(#tGreenFaint)"/>
<polygon points="1127.8,892.9 1153.8,890.9 1163.8,904.9 1159.8,920.9 1145.8,926.9 1131.8,920.9 1123.8,906.9" fill="#000" filter="url(#tGreen3)"/>
<polygon points="1113.8,914.9 1131.8,914.9 1133.8,930.9 1115.8,930.9" fill="#000" filter="url(#tGreen3)"/>
</g>
<path d="M1101.8,906.9 L1112.6,903.9 L1127.7,897.4 L1144.8,887.7 L1151.8,884.9" fill="none" stroke="#000" stroke-width="1.6" opacity="0.85"/>
</g>
</g>
<line x1="1151.3" y1="932.7" x2="1164.3" y2="932.7" stroke="#fff" stroke-width="1"/>
<text x="1157.8" y="931.2" font-size="5.6" text-anchor="middle" fill="#e8e8e8" font-family="Liberation Serif" font-weight="bold">50 µm</text>
<g clip-path="url(#wclip33)">
<rect x="1169.7" y="884.9" width="67.1" height="50.3" fill="#dcd8e2" stroke="none" stroke-width="1"/>
<rect x="1169.7" y="884.9" width="67.1" height="50.3" fill="#000" filter="url(#tHE3)"/>
</g>
<line x1="1219.8" y1="932.2" x2="1232.8" y2="932.2" stroke="#111" stroke-width="1.3"/>
<text x="1226.3" y="930.4" font-size="5.6" text-anchor="middle" fill="#111" font-family="Liberation Serif" font-weight="bold">50 µm</text>
<text x="999.7" y="729.5" font-size="12.5" text-anchor="middle" fill="#22cc22" font-weight="bold">UCP1</text>
<text x="1067.6" y="729.5" font-size="12.5" text-anchor="middle" fill="#2020ff" font-weight="bold">DAPI</text>
<text x="1135.3" y="729.5" font-size="12.5" text-anchor="middle" fill="#111" font-weight="bold">Merge</text>
<text x="1203.0" y="729.5" font-size="12.5" text-anchor="middle" fill="#111" font-weight="bold">H&amp;E</text>
<text x="960.3" y="757.4" font-size="10.5" text-anchor="middle" fill="#111" font-weight="bold" transform="rotate(-90 960.3 757.4)">Control</text>
<text x="946.8" y="808.5" font-size="10.5" text-anchor="middle" fill="#111" font-weight="bold" transform="rotate(-90 946.8 808.5)">0.5%</text>
<text x="960.3" y="808.5" font-size="10.5" text-anchor="middle" fill="#111" font-weight="bold" transform="rotate(-90 960.3 808.5)">3-PPA</text>
<text transform="rotate(-90 960.5 859)" x="960.5" y="859" font-size="10.5" font-weight="bold" text-anchor="middle" fill="#111"><tspan font-style="italic">Ffar1</tspan> KO</text>
<text transform="rotate(-90 947 910)" x="947" y="910" font-size="10.5" font-weight="bold" text-anchor="middle" fill="#111"><tspan font-style="italic">Ffar1</tspan> KO+</text>
<text x="960.3" y="910.0" font-size="10.5" text-anchor="middle" fill="#111" font-weight="bold" transform="rotate(-90 960.3 910.0)">3-PPA</text>
</svg></body></html>
